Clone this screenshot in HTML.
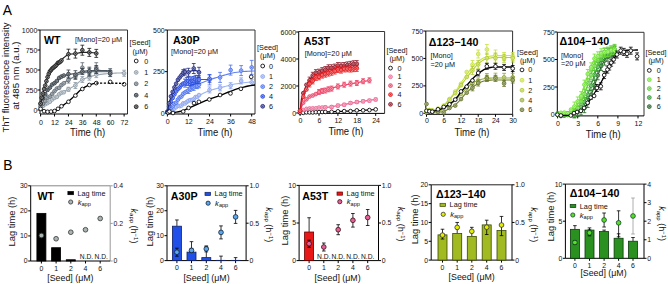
<!DOCTYPE html>
<html><head><meta charset="utf-8"><style>
html,body{margin:0;padding:0;background:#fff;width:668px;height:284px;overflow:hidden;}
svg{display:block;font-family:"Liberation Sans", sans-serif;}
</style></head><body>
<svg width="668" height="284" viewBox="0 0 668 284">
<rect width="668" height="284" fill="#fff"/>
<text x="2.8" y="14.77" font-size="13.8" text-anchor="start" font-weight="normal" fill="#000" >A</text>
<text x="3.2" y="169.97" font-size="13.8" text-anchor="start" font-weight="normal" fill="#000" >B</text>
<text x="8.7" y="77.5" font-size="9.45" text-anchor="middle" font-weight="normal" fill="#111" transform="rotate(-90 8.7 77.5)" >ThT fluorescence intensity</text>
<text x="19.3" y="75.6" font-size="9.7" text-anchor="middle" font-weight="normal" fill="#111" transform="rotate(-90 19.3 75.6)" >at 485 nm (a.u.)</text>
<line x1="40" y1="30" x2="127.5" y2="30" stroke="#333" stroke-width="1" />
<line x1="127.5" y1="30" x2="127.5" y2="114" stroke="#333" stroke-width="1" />
<line x1="40" y1="30" x2="40" y2="114" stroke="#000" stroke-width="1" />
<line x1="40" y1="114" x2="127.5" y2="114" stroke="#000" stroke-width="1" />
<line x1="37.5" y1="110" x2="40" y2="110" stroke="#000" stroke-width="1" />
<text x="37.4" y="112.52" font-size="7" text-anchor="end" font-weight="normal" fill="#111" >0</text>
<line x1="37.5" y1="90" x2="40" y2="90" stroke="#000" stroke-width="1" />
<text x="37.4" y="92.52" font-size="7" text-anchor="end" font-weight="normal" fill="#111" >250</text>
<line x1="37.5" y1="70" x2="40" y2="70" stroke="#000" stroke-width="1" />
<text x="37.4" y="72.52" font-size="7" text-anchor="end" font-weight="normal" fill="#111" >500</text>
<line x1="37.5" y1="50" x2="40" y2="50" stroke="#000" stroke-width="1" />
<text x="37.4" y="52.52" font-size="7" text-anchor="end" font-weight="normal" fill="#111" >750</text>
<line x1="37.5" y1="30" x2="40" y2="30" stroke="#000" stroke-width="1" />
<text x="37.4" y="32.52" font-size="7" text-anchor="end" font-weight="normal" fill="#111" >1000</text>
<line x1="40.6" y1="114" x2="40.6" y2="116.5" stroke="#000" stroke-width="1" />
<text x="41" y="124.52" font-size="7" text-anchor="middle" font-weight="normal" fill="#111" >0</text>
<line x1="54.52" y1="114" x2="54.52" y2="116.5" stroke="#000" stroke-width="1" />
<text x="54.92" y="124.52" font-size="7" text-anchor="middle" font-weight="normal" fill="#111" >12</text>
<line x1="68.44" y1="114" x2="68.44" y2="116.5" stroke="#000" stroke-width="1" />
<text x="68.84" y="124.52" font-size="7" text-anchor="middle" font-weight="normal" fill="#111" >24</text>
<line x1="82.36" y1="114" x2="82.36" y2="116.5" stroke="#000" stroke-width="1" />
<text x="82.76" y="124.52" font-size="7" text-anchor="middle" font-weight="normal" fill="#111" >36</text>
<line x1="96.28" y1="114" x2="96.28" y2="116.5" stroke="#000" stroke-width="1" />
<text x="96.68" y="124.52" font-size="7" text-anchor="middle" font-weight="normal" fill="#111" >48</text>
<line x1="110.2" y1="114" x2="110.2" y2="116.5" stroke="#000" stroke-width="1" />
<text x="110.6" y="124.52" font-size="7" text-anchor="middle" font-weight="normal" fill="#111" >60</text>
<line x1="124.12" y1="114" x2="124.12" y2="116.5" stroke="#000" stroke-width="1" />
<text x="124.52" y="124.52" font-size="7" text-anchor="middle" font-weight="normal" fill="#111" >72</text>
<text x="87.6" y="135.6" font-size="10" text-anchor="middle" font-weight="normal" fill="#111" textLength="35" lengthAdjust="spacingAndGlyphs" >Time (h)</text>
<text x="44" y="44.15" font-size="10.7" text-anchor="start" font-weight="bold" fill="#000" >WT</text>
<text x="75" y="42.24" font-size="7.6" text-anchor="start" font-weight="normal" fill="#111" textLength="47.2" lengthAdjust="spacingAndGlyphs" >[Mono]=20 μM</text>
<text x="140.1" y="45.43" font-size="7.3" text-anchor="middle" font-weight="normal" fill="#111" >[Seed]</text>
<text x="140.1" y="54.23" font-size="7.3" text-anchor="middle" font-weight="normal" fill="#111" >(μM)</text>
<circle cx="136.2" cy="61" r="1.9" fill="#fff" stroke="#000" stroke-width="0.85"/>
<text x="146.3" y="63.59" font-size="7.2" text-anchor="middle" font-weight="normal" fill="#111" >0</text>
<circle cx="136.2" cy="72.4" r="1.9" fill="#d0d6db" stroke="#8a98a4" stroke-width="0.85"/>
<circle cx="136.2" cy="72.4" r="0.55" fill="#8a98a4" stroke="none" stroke-width="0"/>
<text x="146.3" y="74.99" font-size="7.2" text-anchor="middle" font-weight="normal" fill="#111" >1</text>
<circle cx="136.2" cy="83.8" r="1.9" fill="#aeb4b8" stroke="#5c6872" stroke-width="0.85"/>
<circle cx="136.2" cy="83.8" r="0.55" fill="#5c6872" stroke="none" stroke-width="0"/>
<text x="146.3" y="86.39" font-size="7.2" text-anchor="middle" font-weight="normal" fill="#111" >2</text>
<circle cx="136.2" cy="95.2" r="1.9" fill="#848a8f" stroke="#323c44" stroke-width="0.85"/>
<circle cx="136.2" cy="95.2" r="0.55" fill="#323c44" stroke="none" stroke-width="0"/>
<text x="146.3" y="97.79" font-size="7.2" text-anchor="middle" font-weight="normal" fill="#111" >4</text>
<circle cx="136.2" cy="106.7" r="1.9" fill="#8a8a8a" stroke="#161616" stroke-width="0.85"/>
<circle cx="136.2" cy="106.7" r="0.55" fill="#161616" stroke="none" stroke-width="0"/>
<text x="146.3" y="109.29" font-size="7.2" text-anchor="middle" font-weight="normal" fill="#111" >6</text>
<line x1="167.3" y1="30" x2="255" y2="30" stroke="#333" stroke-width="1" />
<line x1="255" y1="30" x2="255" y2="114" stroke="#333" stroke-width="1" />
<line x1="167.3" y1="30" x2="167.3" y2="114" stroke="#000" stroke-width="1" />
<line x1="167.3" y1="114" x2="255" y2="114" stroke="#000" stroke-width="1" />
<line x1="164.8" y1="113.3" x2="167.3" y2="113.3" stroke="#000" stroke-width="1" />
<text x="164.7" y="115.82" font-size="7" text-anchor="end" font-weight="normal" fill="#111" >0</text>
<line x1="164.8" y1="71.65" x2="167.3" y2="71.65" stroke="#000" stroke-width="1" />
<text x="164.7" y="74.17" font-size="7" text-anchor="end" font-weight="normal" fill="#111" >250</text>
<line x1="164.8" y1="30" x2="167.3" y2="30" stroke="#000" stroke-width="1" />
<text x="164.7" y="32.52" font-size="7" text-anchor="end" font-weight="normal" fill="#111" >500</text>
<line x1="167.4" y1="114" x2="167.4" y2="116.5" stroke="#000" stroke-width="1" />
<text x="167.8" y="123.52" font-size="7" text-anchor="middle" font-weight="normal" fill="#111" >0</text>
<line x1="188.47" y1="114" x2="188.47" y2="116.5" stroke="#000" stroke-width="1" />
<text x="188.87" y="123.52" font-size="7" text-anchor="middle" font-weight="normal" fill="#111" >12</text>
<line x1="209.54" y1="114" x2="209.54" y2="116.5" stroke="#000" stroke-width="1" />
<text x="209.94" y="123.52" font-size="7" text-anchor="middle" font-weight="normal" fill="#111" >24</text>
<line x1="230.62" y1="114" x2="230.62" y2="116.5" stroke="#000" stroke-width="1" />
<text x="231.02" y="123.52" font-size="7" text-anchor="middle" font-weight="normal" fill="#111" >36</text>
<line x1="251.69" y1="114" x2="251.69" y2="116.5" stroke="#000" stroke-width="1" />
<text x="252.09" y="123.52" font-size="7" text-anchor="middle" font-weight="normal" fill="#111" >48</text>
<text x="215" y="136" font-size="10" text-anchor="middle" font-weight="normal" fill="#111" textLength="35" lengthAdjust="spacingAndGlyphs" >Time (h)</text>
<text x="172.9" y="43.85" font-size="10.7" text-anchor="start" font-weight="bold" fill="#000" >A30P</text>
<text x="171" y="54.04" font-size="7.6" text-anchor="start" font-weight="normal" fill="#111" textLength="47.2" lengthAdjust="spacingAndGlyphs" >[Mono]=20 μM</text>
<text x="267.6" y="50.33" font-size="7.3" text-anchor="middle" font-weight="normal" fill="#111" >[Seed]</text>
<text x="267.6" y="58.03" font-size="7.3" text-anchor="middle" font-weight="normal" fill="#111" >(μM)</text>
<circle cx="262.7" cy="66" r="1.9" fill="#fff" stroke="#000" stroke-width="0.85"/>
<text x="271.1" y="68.59" font-size="7.2" text-anchor="middle" font-weight="normal" fill="#111" >0</text>
<circle cx="262.7" cy="76.5" r="1.9" fill="#c9d4f7" stroke="#86a0ee" stroke-width="0.85"/>
<circle cx="262.7" cy="76.5" r="0.55" fill="#86a0ee" stroke="none" stroke-width="0"/>
<text x="271.1" y="79.09" font-size="7.2" text-anchor="middle" font-weight="normal" fill="#111" >1</text>
<circle cx="262.7" cy="86.6" r="1.9" fill="#a4b8f6" stroke="#4a70ee" stroke-width="0.85"/>
<circle cx="262.7" cy="86.6" r="0.55" fill="#4a70ee" stroke="none" stroke-width="0"/>
<text x="271.1" y="89.19" font-size="7.2" text-anchor="middle" font-weight="normal" fill="#111" >2</text>
<circle cx="262.7" cy="96.4" r="1.9" fill="#879aee" stroke="#2448e0" stroke-width="0.85"/>
<circle cx="262.7" cy="96.4" r="0.55" fill="#2448e0" stroke="none" stroke-width="0"/>
<text x="271.1" y="98.99" font-size="7.2" text-anchor="middle" font-weight="normal" fill="#111" >4</text>
<circle cx="262.7" cy="106.3" r="1.9" fill="#8388b9" stroke="#1e2680" stroke-width="0.85"/>
<circle cx="262.7" cy="106.3" r="0.55" fill="#1e2680" stroke="none" stroke-width="0"/>
<text x="271.1" y="108.89" font-size="7.2" text-anchor="middle" font-weight="normal" fill="#111" >6</text>
<line x1="298.7" y1="31.5" x2="384.6" y2="31.5" stroke="#333" stroke-width="1" />
<line x1="384.6" y1="31.5" x2="384.6" y2="113.4" stroke="#333" stroke-width="1" />
<line x1="298.7" y1="31.5" x2="298.7" y2="113.4" stroke="#000" stroke-width="1" />
<line x1="298.7" y1="113.4" x2="384.6" y2="113.4" stroke="#000" stroke-width="1" />
<line x1="296.2" y1="113" x2="298.7" y2="113" stroke="#000" stroke-width="1" />
<text x="296.1" y="115.52" font-size="7" text-anchor="end" font-weight="normal" fill="#111" >0</text>
<line x1="296.2" y1="86" x2="298.7" y2="86" stroke="#000" stroke-width="1" />
<text x="296.1" y="88.52" font-size="7" text-anchor="end" font-weight="normal" fill="#111" >2000</text>
<line x1="296.2" y1="59" x2="298.7" y2="59" stroke="#000" stroke-width="1" />
<text x="296.1" y="61.52" font-size="7" text-anchor="end" font-weight="normal" fill="#111" >4000</text>
<line x1="296.2" y1="32" x2="298.7" y2="32" stroke="#000" stroke-width="1" />
<text x="296.1" y="34.52" font-size="7" text-anchor="end" font-weight="normal" fill="#111" >6000</text>
<line x1="300.1" y1="113.4" x2="300.1" y2="115.9" stroke="#000" stroke-width="1" />
<text x="300.5" y="122.72" font-size="7" text-anchor="middle" font-weight="normal" fill="#111" >0</text>
<line x1="319" y1="113.4" x2="319" y2="115.9" stroke="#000" stroke-width="1" />
<text x="319.4" y="122.72" font-size="7" text-anchor="middle" font-weight="normal" fill="#111" >6</text>
<line x1="337.9" y1="113.4" x2="337.9" y2="115.9" stroke="#000" stroke-width="1" />
<text x="338.3" y="122.72" font-size="7" text-anchor="middle" font-weight="normal" fill="#111" >12</text>
<line x1="356.8" y1="113.4" x2="356.8" y2="115.9" stroke="#000" stroke-width="1" />
<text x="357.2" y="122.72" font-size="7" text-anchor="middle" font-weight="normal" fill="#111" >18</text>
<line x1="375.7" y1="113.4" x2="375.7" y2="115.9" stroke="#000" stroke-width="1" />
<text x="376.1" y="122.72" font-size="7" text-anchor="middle" font-weight="normal" fill="#111" >24</text>
<text x="345.9" y="135.2" font-size="10" text-anchor="middle" font-weight="normal" fill="#111" textLength="35" lengthAdjust="spacingAndGlyphs" >Time (h)</text>
<text x="303.8" y="44.85" font-size="10.7" text-anchor="start" font-weight="bold" fill="#000" >A53T</text>
<text x="304.7" y="55.64" font-size="7.6" text-anchor="start" font-weight="normal" fill="#111" textLength="47.2" lengthAdjust="spacingAndGlyphs" >[Mono]=20 μM</text>
<text x="397" y="53.03" font-size="7.3" text-anchor="middle" font-weight="normal" fill="#111" >[Seed]</text>
<text x="397" y="61.43" font-size="7.3" text-anchor="middle" font-weight="normal" fill="#111" >(μM)</text>
<circle cx="390.5" cy="68.1" r="1.9" fill="#fff" stroke="#000" stroke-width="0.85"/>
<text x="399.5" y="70.69" font-size="7.2" text-anchor="middle" font-weight="normal" fill="#111" >0</text>
<circle cx="390.5" cy="76.8" r="1.9" fill="#f6b4ca" stroke="#ec6894" stroke-width="0.85"/>
<circle cx="390.5" cy="76.8" r="0.55" fill="#ec6894" stroke="none" stroke-width="0"/>
<text x="399.5" y="79.39" font-size="7.2" text-anchor="middle" font-weight="normal" fill="#111" >1</text>
<circle cx="390.5" cy="85.6" r="1.9" fill="#f69eb0" stroke="#ec3c62" stroke-width="0.85"/>
<circle cx="390.5" cy="85.6" r="0.55" fill="#ec3c62" stroke="none" stroke-width="0"/>
<text x="399.5" y="88.19" font-size="7.2" text-anchor="middle" font-weight="normal" fill="#111" >2</text>
<circle cx="390.5" cy="94.6" r="1.9" fill="#f07e80" stroke="#e41418" stroke-width="0.85"/>
<circle cx="390.5" cy="94.6" r="0.55" fill="#e41418" stroke="none" stroke-width="0"/>
<text x="399.5" y="97.19" font-size="7.2" text-anchor="middle" font-weight="normal" fill="#111" >4</text>
<circle cx="390.5" cy="104.3" r="1.9" fill="#c07f88" stroke="#8c1626" stroke-width="0.85"/>
<circle cx="390.5" cy="104.3" r="0.55" fill="#8c1626" stroke="none" stroke-width="0"/>
<text x="399.5" y="106.89" font-size="7.2" text-anchor="middle" font-weight="normal" fill="#111" >6</text>
<line x1="425.8" y1="31" x2="512.6" y2="31" stroke="#333" stroke-width="1" />
<line x1="512.6" y1="31" x2="512.6" y2="114.3" stroke="#333" stroke-width="1" />
<line x1="425.8" y1="31" x2="425.8" y2="114.3" stroke="#000" stroke-width="1" />
<line x1="425.8" y1="114.3" x2="512.6" y2="114.3" stroke="#000" stroke-width="1" />
<line x1="423.3" y1="113.3" x2="425.8" y2="113.3" stroke="#000" stroke-width="1" />
<text x="423.2" y="115.82" font-size="7" text-anchor="end" font-weight="normal" fill="#111" >0</text>
<line x1="423.3" y1="85.88" x2="425.8" y2="85.88" stroke="#000" stroke-width="1" />
<text x="423.2" y="88.39" font-size="7" text-anchor="end" font-weight="normal" fill="#111" >250</text>
<line x1="423.3" y1="58.45" x2="425.8" y2="58.45" stroke="#000" stroke-width="1" />
<text x="423.2" y="60.97" font-size="7" text-anchor="end" font-weight="normal" fill="#111" >500</text>
<line x1="423.3" y1="31.02" x2="425.8" y2="31.02" stroke="#000" stroke-width="1" />
<text x="423.2" y="33.54" font-size="7" text-anchor="end" font-weight="normal" fill="#111" >750</text>
<line x1="426.5" y1="114.3" x2="426.5" y2="116.8" stroke="#000" stroke-width="1" />
<text x="426.9" y="123.42" font-size="7" text-anchor="middle" font-weight="normal" fill="#111" >0</text>
<line x1="443.74" y1="114.3" x2="443.74" y2="116.8" stroke="#000" stroke-width="1" />
<text x="444.14" y="123.42" font-size="7" text-anchor="middle" font-weight="normal" fill="#111" >6</text>
<line x1="460.99" y1="114.3" x2="460.99" y2="116.8" stroke="#000" stroke-width="1" />
<text x="461.39" y="123.42" font-size="7" text-anchor="middle" font-weight="normal" fill="#111" >12</text>
<line x1="478.23" y1="114.3" x2="478.23" y2="116.8" stroke="#000" stroke-width="1" />
<text x="478.63" y="123.42" font-size="7" text-anchor="middle" font-weight="normal" fill="#111" >18</text>
<line x1="495.48" y1="114.3" x2="495.48" y2="116.8" stroke="#000" stroke-width="1" />
<text x="495.88" y="123.42" font-size="7" text-anchor="middle" font-weight="normal" fill="#111" >24</text>
<line x1="512.72" y1="114.3" x2="512.72" y2="116.8" stroke="#000" stroke-width="1" />
<text x="513.12" y="123.42" font-size="7" text-anchor="middle" font-weight="normal" fill="#111" >30</text>
<text x="472" y="135.8" font-size="10" text-anchor="middle" font-weight="normal" fill="#111" textLength="35" lengthAdjust="spacingAndGlyphs" >Time (h)</text>
<text x="428.8" y="45.85" font-size="10.7" text-anchor="start" font-weight="bold" fill="#000" >Δ123−140</text>
<text x="430.5" y="58.44" font-size="7.6" text-anchor="start" font-weight="normal" fill="#111" textLength="22.2" lengthAdjust="spacingAndGlyphs" >[Mono]</text>
<text x="430.5" y="67.14" font-size="7.6" text-anchor="start" font-weight="normal" fill="#111" textLength="24.6" lengthAdjust="spacingAndGlyphs" >=20 μM</text>
<text x="527.5" y="54.53" font-size="7.3" text-anchor="middle" font-weight="normal" fill="#111" >[Seed]</text>
<text x="527.5" y="62.83" font-size="7.3" text-anchor="middle" font-weight="normal" fill="#111" >(μM)</text>
<circle cx="522" cy="69.9" r="1.9" fill="#fff" stroke="#000" stroke-width="0.85"/>
<text x="530.2" y="72.49" font-size="7.2" text-anchor="middle" font-weight="normal" fill="#111" >0</text>
<circle cx="522" cy="80.2" r="1.9" fill="#e4f09c" stroke="#c8e03a" stroke-width="0.85"/>
<circle cx="522" cy="80.2" r="0.55" fill="#c8e03a" stroke="none" stroke-width="0"/>
<text x="530.2" y="82.79" font-size="7.2" text-anchor="middle" font-weight="normal" fill="#111" >1</text>
<circle cx="522" cy="90.2" r="1.9" fill="#d8e696" stroke="#b0cc2c" stroke-width="0.85"/>
<circle cx="522" cy="90.2" r="0.55" fill="#b0cc2c" stroke="none" stroke-width="0"/>
<text x="530.2" y="92.79" font-size="7.2" text-anchor="middle" font-weight="normal" fill="#111" >2</text>
<circle cx="522" cy="100.1" r="1.9" fill="#cad49a" stroke="#94aa36" stroke-width="0.85"/>
<circle cx="522" cy="100.1" r="0.55" fill="#94aa36" stroke="none" stroke-width="0"/>
<text x="530.2" y="102.69" font-size="7.2" text-anchor="middle" font-weight="normal" fill="#111" >4</text>
<circle cx="522" cy="109.8" r="1.9" fill="#abb38a" stroke="#66742a" stroke-width="0.85"/>
<circle cx="522" cy="109.8" r="0.55" fill="#66742a" stroke="none" stroke-width="0"/>
<text x="530.2" y="112.39" font-size="7.2" text-anchor="middle" font-weight="normal" fill="#111" >6</text>
<line x1="557.3" y1="32.3" x2="644" y2="32.3" stroke="#333" stroke-width="1" />
<line x1="644" y1="32.3" x2="644" y2="115.9" stroke="#333" stroke-width="1" />
<line x1="557.3" y1="32.3" x2="557.3" y2="115.9" stroke="#000" stroke-width="1" />
<line x1="557.3" y1="115.9" x2="644" y2="115.9" stroke="#000" stroke-width="1" />
<line x1="554.8" y1="114.5" x2="557.3" y2="114.5" stroke="#000" stroke-width="1" />
<text x="554.7" y="117.02" font-size="7" text-anchor="end" font-weight="normal" fill="#111" >0</text>
<line x1="554.8" y1="87" x2="557.3" y2="87" stroke="#000" stroke-width="1" />
<text x="554.7" y="89.52" font-size="7" text-anchor="end" font-weight="normal" fill="#111" >250</text>
<line x1="554.8" y1="59.5" x2="557.3" y2="59.5" stroke="#000" stroke-width="1" />
<text x="554.7" y="62.02" font-size="7" text-anchor="end" font-weight="normal" fill="#111" >500</text>
<line x1="554.8" y1="32" x2="557.3" y2="32" stroke="#000" stroke-width="1" />
<text x="554.7" y="34.52" font-size="7" text-anchor="end" font-weight="normal" fill="#111" >750</text>
<line x1="557.6" y1="115.9" x2="557.6" y2="118.4" stroke="#000" stroke-width="1" />
<text x="558" y="125.52" font-size="7" text-anchor="middle" font-weight="normal" fill="#111" >0</text>
<line x1="577.7" y1="115.9" x2="577.7" y2="118.4" stroke="#000" stroke-width="1" />
<text x="578.1" y="125.52" font-size="7" text-anchor="middle" font-weight="normal" fill="#111" >3</text>
<line x1="597.8" y1="115.9" x2="597.8" y2="118.4" stroke="#000" stroke-width="1" />
<text x="598.2" y="125.52" font-size="7" text-anchor="middle" font-weight="normal" fill="#111" >6</text>
<line x1="617.9" y1="115.9" x2="617.9" y2="118.4" stroke="#000" stroke-width="1" />
<text x="618.3" y="125.52" font-size="7" text-anchor="middle" font-weight="normal" fill="#111" >9</text>
<line x1="638" y1="115.9" x2="638" y2="118.4" stroke="#000" stroke-width="1" />
<text x="638.4" y="125.52" font-size="7" text-anchor="middle" font-weight="normal" fill="#111" >12</text>
<text x="603.2" y="138.1" font-size="10" text-anchor="middle" font-weight="normal" fill="#111" textLength="35" lengthAdjust="spacingAndGlyphs" >Time (h)</text>
<text x="559.6" y="44.85" font-size="10.7" text-anchor="start" font-weight="bold" fill="#000" >Δ104−140</text>
<text x="561" y="58.34" font-size="7.6" text-anchor="start" font-weight="normal" fill="#111" textLength="22.2" lengthAdjust="spacingAndGlyphs" >[Mono]</text>
<text x="561" y="65.74" font-size="7.6" text-anchor="start" font-weight="normal" fill="#111" textLength="24.6" lengthAdjust="spacingAndGlyphs" >=20 μM</text>
<text x="656" y="54.63" font-size="7.3" text-anchor="middle" font-weight="normal" fill="#111" >[Seed]</text>
<text x="656" y="62.63" font-size="7.3" text-anchor="middle" font-weight="normal" fill="#111" >(μM)</text>
<circle cx="649.3" cy="70.4" r="1.9" fill="#fff" stroke="#000" stroke-width="0.85"/>
<text x="658.8" y="72.99" font-size="7.2" text-anchor="middle" font-weight="normal" fill="#111" >0</text>
<circle cx="649.3" cy="79.7" r="1.9" fill="#b6f098" stroke="#6ee030" stroke-width="0.85"/>
<circle cx="649.3" cy="79.7" r="0.55" fill="#6ee030" stroke="none" stroke-width="0"/>
<text x="658.8" y="82.29" font-size="7.2" text-anchor="middle" font-weight="normal" fill="#111" >1</text>
<circle cx="649.3" cy="88.6" r="1.9" fill="#aae696" stroke="#54cc2c" stroke-width="0.85"/>
<circle cx="649.3" cy="88.6" r="0.55" fill="#54cc2c" stroke="none" stroke-width="0"/>
<text x="658.8" y="91.19" font-size="7.2" text-anchor="middle" font-weight="normal" fill="#111" >2</text>
<circle cx="649.3" cy="97.5" r="1.9" fill="#96ca96" stroke="#2c962e" stroke-width="0.85"/>
<circle cx="649.3" cy="97.5" r="0.55" fill="#2c962e" stroke="none" stroke-width="0"/>
<text x="658.8" y="100.09" font-size="7.2" text-anchor="middle" font-weight="normal" fill="#111" >4</text>
<circle cx="649.3" cy="106.6" r="1.9" fill="#85a885" stroke="#226022" stroke-width="0.85"/>
<circle cx="649.3" cy="106.6" r="0.55" fill="#226022" stroke="none" stroke-width="0"/>
<text x="658.8" y="109.19" font-size="7.2" text-anchor="middle" font-weight="normal" fill="#111" >6</text>
<path d="M40.70 107.50 L42.84 105.96 L44.97 104.52 L47.11 103.23 L49.24 101.97 L51.38 100.59 L53.52 99.09 L55.65 97.50 L57.79 95.72 L59.92 94.05 L62.06 92.67 L64.19 91.44 L66.33 90.34 L68.47 89.32 L70.60 88.13 L72.74 86.83 L74.87 85.43 L77.01 83.80 L79.15 81.85 L81.28 80.11 L83.42 78.98 L85.55 78.18 L87.69 77.50 L89.83 76.83 L91.96 76.13 L94.10 75.49 L96.23 75.01 L98.37 74.68 L100.51 74.39 L102.64 74.14 L104.78 73.92 L106.91 73.73 L109.05 73.57 L111.18 73.42 L113.32 73.28 L115.46 73.15 L117.59 73.03 L119.73 72.93 L121.86 72.86 L124.00 72.80" fill="none" stroke="#9aa7b2" stroke-width="1.1"/>
<line x1="68.44" y1="87.3" x2="68.44" y2="91.3" stroke="#8a98a4" stroke-width="0.8" />
<line x1="66.54" y1="87.3" x2="70.34" y2="87.3" stroke="#8a98a4" stroke-width="0.8" />
<line x1="66.54" y1="91.3" x2="70.34" y2="91.3" stroke="#8a98a4" stroke-width="0.8" />
<line x1="75.4" y1="82.47" x2="75.4" y2="88.47" stroke="#8a98a4" stroke-width="0.8" />
<line x1="73.5" y1="82.47" x2="77.3" y2="82.47" stroke="#8a98a4" stroke-width="0.8" />
<line x1="73.5" y1="88.47" x2="77.3" y2="88.47" stroke="#8a98a4" stroke-width="0.8" />
<line x1="82.36" y1="76.44" x2="82.36" y2="82.44" stroke="#8a98a4" stroke-width="0.8" />
<line x1="80.46" y1="76.44" x2="84.26" y2="76.44" stroke="#8a98a4" stroke-width="0.8" />
<line x1="80.46" y1="82.44" x2="84.26" y2="82.44" stroke="#8a98a4" stroke-width="0.8" />
<line x1="89.32" y1="74.16" x2="89.32" y2="80.16" stroke="#8a98a4" stroke-width="0.8" />
<line x1="87.42" y1="74.16" x2="91.22" y2="74.16" stroke="#8a98a4" stroke-width="0.8" />
<line x1="87.42" y1="80.16" x2="91.22" y2="80.16" stroke="#8a98a4" stroke-width="0.8" />
<line x1="96.28" y1="71.58" x2="96.28" y2="77.58" stroke="#8a98a4" stroke-width="0.8" />
<line x1="94.38" y1="71.58" x2="98.18" y2="71.58" stroke="#8a98a4" stroke-width="0.8" />
<line x1="94.38" y1="77.58" x2="98.18" y2="77.58" stroke="#8a98a4" stroke-width="0.8" />
<line x1="110.2" y1="70.65" x2="110.2" y2="76.65" stroke="#8a98a4" stroke-width="0.8" />
<line x1="108.3" y1="70.65" x2="112.1" y2="70.65" stroke="#8a98a4" stroke-width="0.8" />
<line x1="108.3" y1="76.65" x2="112.1" y2="76.65" stroke="#8a98a4" stroke-width="0.8" />
<line x1="124.12" y1="70.24" x2="124.12" y2="76.24" stroke="#8a98a4" stroke-width="0.8" />
<line x1="122.22" y1="70.24" x2="126.02" y2="70.24" stroke="#8a98a4" stroke-width="0.8" />
<line x1="122.22" y1="76.24" x2="126.02" y2="76.24" stroke="#8a98a4" stroke-width="0.8" />
<circle cx="40.6" cy="107.19" r="1.85" fill="#d0d6db" stroke="#8a98a4" stroke-width="0.85"/>
<circle cx="40.6" cy="107.19" r="0.55" fill="#8a98a4" stroke="none" stroke-width="0"/>
<circle cx="42.92" cy="105.95" r="1.85" fill="#d0d6db" stroke="#8a98a4" stroke-width="0.85"/>
<circle cx="42.92" cy="105.95" r="0.55" fill="#8a98a4" stroke="none" stroke-width="0"/>
<circle cx="45.24" cy="104.19" r="1.85" fill="#d0d6db" stroke="#8a98a4" stroke-width="0.85"/>
<circle cx="45.24" cy="104.19" r="0.55" fill="#8a98a4" stroke="none" stroke-width="0"/>
<circle cx="47.56" cy="103.09" r="1.85" fill="#d0d6db" stroke="#8a98a4" stroke-width="0.85"/>
<circle cx="47.56" cy="103.09" r="0.55" fill="#8a98a4" stroke="none" stroke-width="0"/>
<circle cx="49.88" cy="101.73" r="1.85" fill="#d0d6db" stroke="#8a98a4" stroke-width="0.85"/>
<circle cx="49.88" cy="101.73" r="0.55" fill="#8a98a4" stroke="none" stroke-width="0"/>
<circle cx="52.2" cy="99.5" r="1.85" fill="#d0d6db" stroke="#8a98a4" stroke-width="0.85"/>
<circle cx="52.2" cy="99.5" r="0.55" fill="#8a98a4" stroke="none" stroke-width="0"/>
<circle cx="54.52" cy="97.77" r="1.85" fill="#d0d6db" stroke="#8a98a4" stroke-width="0.85"/>
<circle cx="54.52" cy="97.77" r="0.55" fill="#8a98a4" stroke="none" stroke-width="0"/>
<circle cx="56.84" cy="96.92" r="1.85" fill="#d0d6db" stroke="#8a98a4" stroke-width="0.85"/>
<circle cx="56.84" cy="96.92" r="0.55" fill="#8a98a4" stroke="none" stroke-width="0"/>
<circle cx="59.16" cy="94.32" r="1.85" fill="#d0d6db" stroke="#8a98a4" stroke-width="0.85"/>
<circle cx="59.16" cy="94.32" r="0.55" fill="#8a98a4" stroke="none" stroke-width="0"/>
<circle cx="61.48" cy="92.71" r="1.85" fill="#d0d6db" stroke="#8a98a4" stroke-width="0.85"/>
<circle cx="61.48" cy="92.71" r="0.55" fill="#8a98a4" stroke="none" stroke-width="0"/>
<circle cx="63.8" cy="92.25" r="1.85" fill="#d0d6db" stroke="#8a98a4" stroke-width="0.85"/>
<circle cx="63.8" cy="92.25" r="0.55" fill="#8a98a4" stroke="none" stroke-width="0"/>
<circle cx="68.44" cy="89.3" r="1.85" fill="#d0d6db" stroke="#8a98a4" stroke-width="0.85"/>
<circle cx="68.44" cy="89.3" r="0.55" fill="#8a98a4" stroke="none" stroke-width="0"/>
<circle cx="75.4" cy="85.47" r="1.85" fill="#d0d6db" stroke="#8a98a4" stroke-width="0.85"/>
<circle cx="75.4" cy="85.47" r="0.55" fill="#8a98a4" stroke="none" stroke-width="0"/>
<circle cx="82.36" cy="79.44" r="1.85" fill="#d0d6db" stroke="#8a98a4" stroke-width="0.85"/>
<circle cx="82.36" cy="79.44" r="0.55" fill="#8a98a4" stroke="none" stroke-width="0"/>
<circle cx="89.32" cy="77.16" r="1.85" fill="#d0d6db" stroke="#8a98a4" stroke-width="0.85"/>
<circle cx="89.32" cy="77.16" r="0.55" fill="#8a98a4" stroke="none" stroke-width="0"/>
<circle cx="96.28" cy="74.58" r="1.85" fill="#d0d6db" stroke="#8a98a4" stroke-width="0.85"/>
<circle cx="96.28" cy="74.58" r="0.55" fill="#8a98a4" stroke="none" stroke-width="0"/>
<circle cx="110.2" cy="73.65" r="1.85" fill="#d0d6db" stroke="#8a98a4" stroke-width="0.85"/>
<circle cx="110.2" cy="73.65" r="0.55" fill="#8a98a4" stroke="none" stroke-width="0"/>
<circle cx="124.12" cy="73.24" r="1.85" fill="#d0d6db" stroke="#8a98a4" stroke-width="0.85"/>
<circle cx="124.12" cy="73.24" r="0.55" fill="#8a98a4" stroke="none" stroke-width="0"/>
<path d="M40.70 106.00 L42.48 103.85 L44.25 101.82 L46.03 99.92 L47.81 98.15 L49.58 96.41 L51.36 94.62 L53.14 92.82 L54.92 91.08 L56.69 89.44 L58.47 87.86 L60.25 86.28 L62.02 84.58 L63.80 82.93 L65.58 81.62 L67.35 80.63 L69.13 79.64 L70.91 78.58 L72.68 77.53 L74.46 76.54 L76.24 75.63 L78.02 74.70 L79.79 73.85 L81.57 73.19 L83.35 72.79 L85.12 72.49 L86.90 72.25 L88.68 72.06 L90.45 71.89 L92.23 71.72 L94.01 71.58 L95.78 71.50 L97.56 71.50 L99.34 71.50 L101.12 71.50 L102.89 71.50 L104.67 71.50 L106.45 71.50 L108.22 71.50 L110.00 71.50" fill="none" stroke="#76838e" stroke-width="1.3"/>
<line x1="68.44" y1="77" x2="68.44" y2="83" stroke="#5c6872" stroke-width="0.8" />
<line x1="66.54" y1="77" x2="70.34" y2="77" stroke="#5c6872" stroke-width="0.8" />
<line x1="66.54" y1="83" x2="70.34" y2="83" stroke="#5c6872" stroke-width="0.8" />
<line x1="75.4" y1="73.5" x2="75.4" y2="79.5" stroke="#5c6872" stroke-width="0.8" />
<line x1="73.5" y1="73.5" x2="77.3" y2="73.5" stroke="#5c6872" stroke-width="0.8" />
<line x1="73.5" y1="79.5" x2="77.3" y2="79.5" stroke="#5c6872" stroke-width="0.8" />
<line x1="82.36" y1="62.7" x2="82.36" y2="72.7" stroke="#5c6872" stroke-width="0.8" />
<line x1="80.46" y1="62.7" x2="84.26" y2="62.7" stroke="#5c6872" stroke-width="0.8" />
<line x1="80.46" y1="72.7" x2="84.26" y2="72.7" stroke="#5c6872" stroke-width="0.8" />
<line x1="89.32" y1="68.5" x2="89.32" y2="76.5" stroke="#5c6872" stroke-width="0.8" />
<line x1="87.42" y1="68.5" x2="91.22" y2="68.5" stroke="#5c6872" stroke-width="0.8" />
<line x1="87.42" y1="76.5" x2="91.22" y2="76.5" stroke="#5c6872" stroke-width="0.8" />
<line x1="96.28" y1="62.7" x2="96.28" y2="72.7" stroke="#5c6872" stroke-width="0.8" />
<line x1="94.38" y1="62.7" x2="98.18" y2="62.7" stroke="#5c6872" stroke-width="0.8" />
<line x1="94.38" y1="72.7" x2="98.18" y2="72.7" stroke="#5c6872" stroke-width="0.8" />
<line x1="110.2" y1="68.5" x2="110.2" y2="74.5" stroke="#5c6872" stroke-width="0.8" />
<line x1="108.3" y1="68.5" x2="112.1" y2="68.5" stroke="#5c6872" stroke-width="0.8" />
<line x1="108.3" y1="74.5" x2="112.1" y2="74.5" stroke="#5c6872" stroke-width="0.8" />
<circle cx="40.6" cy="106.04" r="1.85" fill="#aeb4b8" stroke="#5c6872" stroke-width="0.85"/>
<circle cx="40.6" cy="106.04" r="0.55" fill="#5c6872" stroke="none" stroke-width="0"/>
<circle cx="42.92" cy="103.72" r="1.85" fill="#aeb4b8" stroke="#5c6872" stroke-width="0.85"/>
<circle cx="42.92" cy="103.72" r="0.55" fill="#5c6872" stroke="none" stroke-width="0"/>
<circle cx="45.24" cy="101.02" r="1.85" fill="#aeb4b8" stroke="#5c6872" stroke-width="0.85"/>
<circle cx="45.24" cy="101.02" r="0.55" fill="#5c6872" stroke="none" stroke-width="0"/>
<circle cx="47.56" cy="97.7" r="1.85" fill="#aeb4b8" stroke="#5c6872" stroke-width="0.85"/>
<circle cx="47.56" cy="97.7" r="0.55" fill="#5c6872" stroke="none" stroke-width="0"/>
<circle cx="49.88" cy="96.53" r="1.85" fill="#aeb4b8" stroke="#5c6872" stroke-width="0.85"/>
<circle cx="49.88" cy="96.53" r="0.55" fill="#5c6872" stroke="none" stroke-width="0"/>
<circle cx="52.2" cy="93.92" r="1.85" fill="#aeb4b8" stroke="#5c6872" stroke-width="0.85"/>
<circle cx="52.2" cy="93.92" r="0.55" fill="#5c6872" stroke="none" stroke-width="0"/>
<circle cx="54.52" cy="91.14" r="1.85" fill="#aeb4b8" stroke="#5c6872" stroke-width="0.85"/>
<circle cx="54.52" cy="91.14" r="0.55" fill="#5c6872" stroke="none" stroke-width="0"/>
<circle cx="56.84" cy="88.56" r="1.85" fill="#aeb4b8" stroke="#5c6872" stroke-width="0.85"/>
<circle cx="56.84" cy="88.56" r="0.55" fill="#5c6872" stroke="none" stroke-width="0"/>
<circle cx="59.16" cy="87.84" r="1.85" fill="#aeb4b8" stroke="#5c6872" stroke-width="0.85"/>
<circle cx="59.16" cy="87.84" r="0.55" fill="#5c6872" stroke="none" stroke-width="0"/>
<circle cx="61.48" cy="85.06" r="1.85" fill="#aeb4b8" stroke="#5c6872" stroke-width="0.85"/>
<circle cx="61.48" cy="85.06" r="0.55" fill="#5c6872" stroke="none" stroke-width="0"/>
<circle cx="63.8" cy="83.28" r="1.85" fill="#aeb4b8" stroke="#5c6872" stroke-width="0.85"/>
<circle cx="63.8" cy="83.28" r="0.55" fill="#5c6872" stroke="none" stroke-width="0"/>
<circle cx="68.44" cy="80" r="1.85" fill="#aeb4b8" stroke="#5c6872" stroke-width="0.85"/>
<circle cx="68.44" cy="80" r="0.55" fill="#5c6872" stroke="none" stroke-width="0"/>
<circle cx="75.4" cy="76.5" r="1.85" fill="#aeb4b8" stroke="#5c6872" stroke-width="0.85"/>
<circle cx="75.4" cy="76.5" r="0.55" fill="#5c6872" stroke="none" stroke-width="0"/>
<circle cx="82.36" cy="67.7" r="1.85" fill="#aeb4b8" stroke="#5c6872" stroke-width="0.85"/>
<circle cx="82.36" cy="67.7" r="0.55" fill="#5c6872" stroke="none" stroke-width="0"/>
<circle cx="89.32" cy="72.5" r="1.85" fill="#aeb4b8" stroke="#5c6872" stroke-width="0.85"/>
<circle cx="89.32" cy="72.5" r="0.55" fill="#5c6872" stroke="none" stroke-width="0"/>
<circle cx="96.28" cy="67.7" r="1.85" fill="#aeb4b8" stroke="#5c6872" stroke-width="0.85"/>
<circle cx="96.28" cy="67.7" r="0.55" fill="#5c6872" stroke="none" stroke-width="0"/>
<circle cx="110.2" cy="71.5" r="1.85" fill="#aeb4b8" stroke="#5c6872" stroke-width="0.85"/>
<circle cx="110.2" cy="71.5" r="0.55" fill="#5c6872" stroke="none" stroke-width="0"/>
<path d="M40.70 103.00 L42.48 98.91 L44.25 95.32 L46.03 92.33 L47.81 89.75 L49.58 87.49 L51.36 85.49 L53.14 83.71 L54.92 82.08 L56.69 80.51 L58.47 79.06 L60.25 77.85 L62.02 76.84 L63.80 75.98 L65.58 75.30 L67.35 74.76 L69.13 74.38 L70.91 74.13 L72.68 73.92 L74.46 73.68 L76.24 73.33 L78.02 72.78 L79.79 72.15 L81.57 71.64 L83.35 71.35 L85.12 71.14 L86.90 70.97 L88.68 70.84 L90.45 70.73 L92.23 70.63 L94.01 70.55 L95.78 70.50 L97.56 70.50 L99.34 70.52 L101.12 70.54 L102.89 70.59 L104.67 70.65 L106.45 70.74 L108.22 70.86 L110.00 71.00" fill="none" stroke="#4a555e" stroke-width="1.3"/>
<line x1="68.44" y1="70" x2="68.44" y2="78" stroke="#323c44" stroke-width="0.8" />
<line x1="66.54" y1="70" x2="70.34" y2="70" stroke="#323c44" stroke-width="0.8" />
<line x1="66.54" y1="78" x2="70.34" y2="78" stroke="#323c44" stroke-width="0.8" />
<line x1="75.4" y1="70.7" x2="75.4" y2="78.7" stroke="#323c44" stroke-width="0.8" />
<line x1="73.5" y1="70.7" x2="77.3" y2="70.7" stroke="#323c44" stroke-width="0.8" />
<line x1="73.5" y1="78.7" x2="77.3" y2="78.7" stroke="#323c44" stroke-width="0.8" />
<line x1="82.36" y1="68.5" x2="82.36" y2="74.5" stroke="#323c44" stroke-width="0.8" />
<line x1="80.46" y1="68.5" x2="84.26" y2="68.5" stroke="#323c44" stroke-width="0.8" />
<line x1="80.46" y1="74.5" x2="84.26" y2="74.5" stroke="#323c44" stroke-width="0.8" />
<line x1="89.32" y1="67.2" x2="89.32" y2="75.2" stroke="#323c44" stroke-width="0.8" />
<line x1="87.42" y1="67.2" x2="91.22" y2="67.2" stroke="#323c44" stroke-width="0.8" />
<line x1="87.42" y1="75.2" x2="91.22" y2="75.2" stroke="#323c44" stroke-width="0.8" />
<line x1="96.28" y1="65.5" x2="96.28" y2="73.5" stroke="#323c44" stroke-width="0.8" />
<line x1="94.38" y1="65.5" x2="98.18" y2="65.5" stroke="#323c44" stroke-width="0.8" />
<line x1="94.38" y1="73.5" x2="98.18" y2="73.5" stroke="#323c44" stroke-width="0.8" />
<line x1="110.2" y1="70.3" x2="110.2" y2="76.3" stroke="#323c44" stroke-width="0.8" />
<line x1="108.3" y1="70.3" x2="112.1" y2="70.3" stroke="#323c44" stroke-width="0.8" />
<line x1="108.3" y1="76.3" x2="112.1" y2="76.3" stroke="#323c44" stroke-width="0.8" />
<circle cx="40.6" cy="103.61" r="1.85" fill="#848a8f" stroke="#323c44" stroke-width="0.85"/>
<circle cx="40.6" cy="103.61" r="0.55" fill="#323c44" stroke="none" stroke-width="0"/>
<circle cx="42.92" cy="98.3" r="1.85" fill="#848a8f" stroke="#323c44" stroke-width="0.85"/>
<circle cx="42.92" cy="98.3" r="0.55" fill="#323c44" stroke="none" stroke-width="0"/>
<circle cx="45.24" cy="94.27" r="1.85" fill="#848a8f" stroke="#323c44" stroke-width="0.85"/>
<circle cx="45.24" cy="94.27" r="0.55" fill="#323c44" stroke="none" stroke-width="0"/>
<circle cx="47.56" cy="89.92" r="1.85" fill="#848a8f" stroke="#323c44" stroke-width="0.85"/>
<circle cx="47.56" cy="89.92" r="0.55" fill="#323c44" stroke="none" stroke-width="0"/>
<circle cx="49.88" cy="87.62" r="1.85" fill="#848a8f" stroke="#323c44" stroke-width="0.85"/>
<circle cx="49.88" cy="87.62" r="0.55" fill="#323c44" stroke="none" stroke-width="0"/>
<circle cx="52.2" cy="84.54" r="1.85" fill="#848a8f" stroke="#323c44" stroke-width="0.85"/>
<circle cx="52.2" cy="84.54" r="0.55" fill="#323c44" stroke="none" stroke-width="0"/>
<circle cx="54.52" cy="83.13" r="1.85" fill="#848a8f" stroke="#323c44" stroke-width="0.85"/>
<circle cx="54.52" cy="83.13" r="0.55" fill="#323c44" stroke="none" stroke-width="0"/>
<circle cx="56.84" cy="80.99" r="1.85" fill="#848a8f" stroke="#323c44" stroke-width="0.85"/>
<circle cx="56.84" cy="80.99" r="0.55" fill="#323c44" stroke="none" stroke-width="0"/>
<circle cx="59.16" cy="77.91" r="1.85" fill="#848a8f" stroke="#323c44" stroke-width="0.85"/>
<circle cx="59.16" cy="77.91" r="0.55" fill="#323c44" stroke="none" stroke-width="0"/>
<circle cx="61.48" cy="76.55" r="1.85" fill="#848a8f" stroke="#323c44" stroke-width="0.85"/>
<circle cx="61.48" cy="76.55" r="0.55" fill="#323c44" stroke="none" stroke-width="0"/>
<circle cx="63.8" cy="75.52" r="1.85" fill="#848a8f" stroke="#323c44" stroke-width="0.85"/>
<circle cx="63.8" cy="75.52" r="0.55" fill="#323c44" stroke="none" stroke-width="0"/>
<circle cx="68.44" cy="74" r="1.85" fill="#848a8f" stroke="#323c44" stroke-width="0.85"/>
<circle cx="68.44" cy="74" r="0.55" fill="#323c44" stroke="none" stroke-width="0"/>
<circle cx="75.4" cy="74.7" r="1.85" fill="#848a8f" stroke="#323c44" stroke-width="0.85"/>
<circle cx="75.4" cy="74.7" r="0.55" fill="#323c44" stroke="none" stroke-width="0"/>
<circle cx="82.36" cy="71.5" r="1.85" fill="#848a8f" stroke="#323c44" stroke-width="0.85"/>
<circle cx="82.36" cy="71.5" r="0.55" fill="#323c44" stroke="none" stroke-width="0"/>
<circle cx="89.32" cy="71.2" r="1.85" fill="#848a8f" stroke="#323c44" stroke-width="0.85"/>
<circle cx="89.32" cy="71.2" r="0.55" fill="#323c44" stroke="none" stroke-width="0"/>
<circle cx="96.28" cy="69.5" r="1.85" fill="#848a8f" stroke="#323c44" stroke-width="0.85"/>
<circle cx="96.28" cy="69.5" r="0.55" fill="#323c44" stroke="none" stroke-width="0"/>
<circle cx="110.2" cy="73.3" r="1.85" fill="#848a8f" stroke="#323c44" stroke-width="0.85"/>
<circle cx="110.2" cy="73.3" r="0.55" fill="#323c44" stroke="none" stroke-width="0"/>
<path d="M40.70 103.00 L42.12 96.35 L43.54 91.11 L44.95 86.50 L46.37 81.45 L47.79 76.60 L49.21 72.62 L50.63 70.16 L52.04 68.45 L53.46 67.12 L54.88 65.92 L56.30 64.66 L57.72 63.41 L59.13 62.16 L60.55 60.87 L61.97 59.42 L63.39 58.02 L64.81 56.84 L66.22 55.70 L67.64 54.81 L69.06 54.38 L70.48 54.15 L71.89 53.99 L73.31 53.85 L74.73 53.70 L76.15 53.50 L77.57 53.24 L78.98 52.95 L80.40 52.70 L81.82 52.54 L83.24 52.48 L84.66 52.45 L86.07 52.42 L87.49 52.41 L88.91 52.40 L90.33 52.44 L91.75 52.55 L93.16 52.73 L94.58 52.95 L96.00 53.20" fill="none" stroke="#222" stroke-width="1.2"/>
<line x1="68.44" y1="49.2" x2="68.44" y2="59.2" stroke="#161616" stroke-width="0.8" />
<line x1="66.54" y1="49.2" x2="70.34" y2="49.2" stroke="#161616" stroke-width="0.8" />
<line x1="66.54" y1="59.2" x2="70.34" y2="59.2" stroke="#161616" stroke-width="0.8" />
<line x1="75.4" y1="49.1" x2="75.4" y2="58.1" stroke="#161616" stroke-width="0.8" />
<line x1="73.5" y1="49.1" x2="77.3" y2="49.1" stroke="#161616" stroke-width="0.8" />
<line x1="73.5" y1="58.1" x2="77.3" y2="58.1" stroke="#161616" stroke-width="0.8" />
<line x1="82.36" y1="45.2" x2="82.36" y2="55.2" stroke="#161616" stroke-width="0.8" />
<line x1="80.46" y1="45.2" x2="84.26" y2="45.2" stroke="#161616" stroke-width="0.8" />
<line x1="80.46" y1="55.2" x2="84.26" y2="55.2" stroke="#161616" stroke-width="0.8" />
<line x1="89.32" y1="48.4" x2="89.32" y2="56.4" stroke="#161616" stroke-width="0.8" />
<line x1="87.42" y1="48.4" x2="91.22" y2="48.4" stroke="#161616" stroke-width="0.8" />
<line x1="87.42" y1="56.4" x2="91.22" y2="56.4" stroke="#161616" stroke-width="0.8" />
<line x1="96.28" y1="49.4" x2="96.28" y2="57.4" stroke="#161616" stroke-width="0.8" />
<line x1="94.38" y1="49.4" x2="98.18" y2="49.4" stroke="#161616" stroke-width="0.8" />
<line x1="94.38" y1="57.4" x2="98.18" y2="57.4" stroke="#161616" stroke-width="0.8" />
<circle cx="40.6" cy="103.56" r="1.85" fill="#8a8a8a" stroke="#161616" stroke-width="0.85"/>
<circle cx="40.6" cy="103.56" r="0.55" fill="#161616" stroke="none" stroke-width="0"/>
<circle cx="41.76" cy="97.74" r="1.85" fill="#8a8a8a" stroke="#161616" stroke-width="0.85"/>
<circle cx="41.76" cy="97.74" r="0.55" fill="#161616" stroke="none" stroke-width="0"/>
<circle cx="42.92" cy="93.45" r="1.85" fill="#8a8a8a" stroke="#161616" stroke-width="0.85"/>
<circle cx="42.92" cy="93.45" r="0.55" fill="#161616" stroke="none" stroke-width="0"/>
<circle cx="44.08" cy="89.07" r="1.85" fill="#8a8a8a" stroke="#161616" stroke-width="0.85"/>
<circle cx="44.08" cy="89.07" r="0.55" fill="#161616" stroke="none" stroke-width="0"/>
<circle cx="45.24" cy="85.55" r="1.85" fill="#8a8a8a" stroke="#161616" stroke-width="0.85"/>
<circle cx="45.24" cy="85.55" r="0.55" fill="#161616" stroke="none" stroke-width="0"/>
<circle cx="46.4" cy="81.2" r="1.85" fill="#8a8a8a" stroke="#161616" stroke-width="0.85"/>
<circle cx="46.4" cy="81.2" r="0.55" fill="#161616" stroke="none" stroke-width="0"/>
<circle cx="47.56" cy="77.14" r="1.85" fill="#8a8a8a" stroke="#161616" stroke-width="0.85"/>
<circle cx="47.56" cy="77.14" r="0.55" fill="#161616" stroke="none" stroke-width="0"/>
<circle cx="48.72" cy="73.95" r="1.85" fill="#8a8a8a" stroke="#161616" stroke-width="0.85"/>
<circle cx="48.72" cy="73.95" r="0.55" fill="#161616" stroke="none" stroke-width="0"/>
<circle cx="49.88" cy="71.41" r="1.85" fill="#8a8a8a" stroke="#161616" stroke-width="0.85"/>
<circle cx="49.88" cy="71.41" r="0.55" fill="#161616" stroke="none" stroke-width="0"/>
<circle cx="51.04" cy="70.1" r="1.85" fill="#8a8a8a" stroke="#161616" stroke-width="0.85"/>
<circle cx="51.04" cy="70.1" r="0.55" fill="#161616" stroke="none" stroke-width="0"/>
<circle cx="52.2" cy="68.5" r="1.85" fill="#8a8a8a" stroke="#161616" stroke-width="0.85"/>
<circle cx="52.2" cy="68.5" r="0.55" fill="#161616" stroke="none" stroke-width="0"/>
<circle cx="53.36" cy="67.72" r="1.85" fill="#8a8a8a" stroke="#161616" stroke-width="0.85"/>
<circle cx="53.36" cy="67.72" r="0.55" fill="#161616" stroke="none" stroke-width="0"/>
<circle cx="54.52" cy="66.66" r="1.85" fill="#8a8a8a" stroke="#161616" stroke-width="0.85"/>
<circle cx="54.52" cy="66.66" r="0.55" fill="#161616" stroke="none" stroke-width="0"/>
<circle cx="55.68" cy="65.8" r="1.85" fill="#8a8a8a" stroke="#161616" stroke-width="0.85"/>
<circle cx="55.68" cy="65.8" r="0.55" fill="#161616" stroke="none" stroke-width="0"/>
<circle cx="56.84" cy="64.39" r="1.85" fill="#8a8a8a" stroke="#161616" stroke-width="0.85"/>
<circle cx="56.84" cy="64.39" r="0.55" fill="#161616" stroke="none" stroke-width="0"/>
<circle cx="58" cy="62.75" r="1.85" fill="#8a8a8a" stroke="#161616" stroke-width="0.85"/>
<circle cx="58" cy="62.75" r="0.55" fill="#161616" stroke="none" stroke-width="0"/>
<circle cx="59.16" cy="62.57" r="1.85" fill="#8a8a8a" stroke="#161616" stroke-width="0.85"/>
<circle cx="59.16" cy="62.57" r="0.55" fill="#161616" stroke="none" stroke-width="0"/>
<circle cx="60.32" cy="61.65" r="1.85" fill="#8a8a8a" stroke="#161616" stroke-width="0.85"/>
<circle cx="60.32" cy="61.65" r="0.55" fill="#161616" stroke="none" stroke-width="0"/>
<circle cx="61.48" cy="60.41" r="1.85" fill="#8a8a8a" stroke="#161616" stroke-width="0.85"/>
<circle cx="61.48" cy="60.41" r="0.55" fill="#161616" stroke="none" stroke-width="0"/>
<circle cx="68.44" cy="54.2" r="1.85" fill="#8a8a8a" stroke="#161616" stroke-width="0.85"/>
<circle cx="68.44" cy="54.2" r="0.55" fill="#161616" stroke="none" stroke-width="0"/>
<circle cx="75.4" cy="53.6" r="1.85" fill="#8a8a8a" stroke="#161616" stroke-width="0.85"/>
<circle cx="75.4" cy="53.6" r="0.55" fill="#161616" stroke="none" stroke-width="0"/>
<circle cx="82.36" cy="50.2" r="1.85" fill="#8a8a8a" stroke="#161616" stroke-width="0.85"/>
<circle cx="82.36" cy="50.2" r="0.55" fill="#161616" stroke="none" stroke-width="0"/>
<circle cx="89.32" cy="52.4" r="1.85" fill="#8a8a8a" stroke="#161616" stroke-width="0.85"/>
<circle cx="89.32" cy="52.4" r="0.55" fill="#161616" stroke="none" stroke-width="0"/>
<circle cx="96.28" cy="53.4" r="1.85" fill="#8a8a8a" stroke="#161616" stroke-width="0.85"/>
<circle cx="96.28" cy="53.4" r="0.55" fill="#161616" stroke="none" stroke-width="0"/>
<path d="M40.70 108.80 L42.12 110.04 L43.55 110.95 L44.97 111.41 L46.39 111.70 L47.82 111.80 L49.24 111.75 L50.66 111.66 L52.08 111.54 L53.51 111.34 L54.93 111.04 L56.35 110.42 L57.78 109.40 L59.20 108.37 L60.62 107.27 L62.05 106.17 L63.47 105.11 L64.89 104.08 L66.32 103.04 L67.74 101.93 L69.16 100.74 L70.58 99.49 L72.01 98.19 L73.43 96.87 L74.85 95.55 L76.28 94.17 L77.70 92.72 L79.12 91.30 L80.55 90.01 L81.97 88.95 L83.39 88.01 L84.82 87.14 L86.24 86.36 L87.66 85.67 L89.08 85.08 L90.51 84.57 L91.93 84.11 L93.35 83.70 L94.78 83.36 L96.20 83.10" fill="none" stroke="#000" stroke-width="1.3"/>
<circle cx="40.6" cy="108.8" r="1.85" fill="#fff" stroke="#000" stroke-width="0.85"/>
<circle cx="44.08" cy="111.2" r="1.85" fill="#fff" stroke="#000" stroke-width="0.85"/>
<circle cx="47.56" cy="111.8" r="1.85" fill="#fff" stroke="#000" stroke-width="0.85"/>
<circle cx="51.04" cy="111.6" r="1.85" fill="#fff" stroke="#000" stroke-width="0.85"/>
<circle cx="54.52" cy="111" r="1.85" fill="#fff" stroke="#000" stroke-width="0.85"/>
<circle cx="58" cy="108.8" r="1.85" fill="#fff" stroke="#000" stroke-width="0.85"/>
<circle cx="61.48" cy="106.2" r="1.85" fill="#fff" stroke="#000" stroke-width="0.85"/>
<circle cx="68.44" cy="101.8" r="1.85" fill="#fff" stroke="#000" stroke-width="0.85"/>
<circle cx="75.4" cy="95.6" r="1.85" fill="#fff" stroke="#000" stroke-width="0.85"/>
<circle cx="82.36" cy="89" r="1.85" fill="#fff" stroke="#000" stroke-width="0.85"/>
<circle cx="89.32" cy="85" r="1.85" fill="#fff" stroke="#000" stroke-width="0.85"/>
<circle cx="96.28" cy="83.1" r="1.85" fill="#fff" stroke="#000" stroke-width="0.85"/>
<circle cx="110.2" cy="81.9" r="1.85" fill="#fff" stroke="#000" stroke-width="0.85"/>
<circle cx="124.12" cy="84.3" r="1.85" fill="#fff" stroke="#000" stroke-width="0.85"/>
<path d="M96.20 83.10 L124.00 83.30" fill="none" stroke="#000" stroke-width="1.3" stroke-dasharray="2.2 1.6"/>
<path d="M167.40 112.00 L169.65 110.80 L171.89 109.61 L174.14 108.44 L176.38 107.29 L178.63 106.16 L180.88 105.05 L183.12 103.93 L185.37 102.82 L187.62 101.70 L189.86 100.60 L192.11 99.48 L194.35 98.34 L196.60 97.12 L198.85 95.81 L201.09 94.50 L203.34 93.28 L205.58 92.25 L207.83 91.36 L210.08 90.55 L212.32 89.81 L214.57 89.13 L216.82 88.50 L219.06 87.92 L221.31 87.39 L223.55 86.85 L225.80 86.29 L228.05 85.67 L230.29 85.05 L232.54 84.48 L234.78 84.03 L237.03 83.70 L239.28 83.37 L241.52 83.06 L243.77 82.77 L246.02 82.51 L248.26 82.30 L250.51 82.14 L252.75 82.04 L255.00 82.00" fill="none" stroke="#9db4f0" stroke-width="1.1"/>
<line x1="209.54" y1="86.9" x2="209.54" y2="92.9" stroke="#86a0ee" stroke-width="0.8" />
<line x1="207.64" y1="86.9" x2="211.44" y2="86.9" stroke="#86a0ee" stroke-width="0.8" />
<line x1="207.64" y1="92.9" x2="211.44" y2="92.9" stroke="#86a0ee" stroke-width="0.8" />
<line x1="220.08" y1="84.8" x2="220.08" y2="90.8" stroke="#86a0ee" stroke-width="0.8" />
<line x1="218.18" y1="84.8" x2="221.98" y2="84.8" stroke="#86a0ee" stroke-width="0.8" />
<line x1="218.18" y1="90.8" x2="221.98" y2="90.8" stroke="#86a0ee" stroke-width="0.8" />
<line x1="230.62" y1="82.7" x2="230.62" y2="88.7" stroke="#86a0ee" stroke-width="0.8" />
<line x1="228.72" y1="82.7" x2="232.52" y2="82.7" stroke="#86a0ee" stroke-width="0.8" />
<line x1="228.72" y1="88.7" x2="232.52" y2="88.7" stroke="#86a0ee" stroke-width="0.8" />
<line x1="241.15" y1="77.9" x2="241.15" y2="83.9" stroke="#86a0ee" stroke-width="0.8" />
<line x1="239.25" y1="77.9" x2="243.05" y2="77.9" stroke="#86a0ee" stroke-width="0.8" />
<line x1="239.25" y1="83.9" x2="243.05" y2="83.9" stroke="#86a0ee" stroke-width="0.8" />
<line x1="251.69" y1="79.4" x2="251.69" y2="85.4" stroke="#86a0ee" stroke-width="0.8" />
<line x1="249.79" y1="79.4" x2="253.59" y2="79.4" stroke="#86a0ee" stroke-width="0.8" />
<line x1="249.79" y1="85.4" x2="253.59" y2="85.4" stroke="#86a0ee" stroke-width="0.8" />
<circle cx="167.4" cy="112.1" r="1.85" fill="#c9d4f7" stroke="#86a0ee" stroke-width="0.85"/>
<circle cx="167.4" cy="112.1" r="0.55" fill="#86a0ee" stroke="none" stroke-width="0"/>
<circle cx="169.16" cy="111.36" r="1.85" fill="#c9d4f7" stroke="#86a0ee" stroke-width="0.85"/>
<circle cx="169.16" cy="111.36" r="0.55" fill="#86a0ee" stroke="none" stroke-width="0"/>
<circle cx="170.91" cy="109.72" r="1.85" fill="#c9d4f7" stroke="#86a0ee" stroke-width="0.85"/>
<circle cx="170.91" cy="109.72" r="0.55" fill="#86a0ee" stroke="none" stroke-width="0"/>
<circle cx="172.67" cy="109.67" r="1.85" fill="#c9d4f7" stroke="#86a0ee" stroke-width="0.85"/>
<circle cx="172.67" cy="109.67" r="0.55" fill="#86a0ee" stroke="none" stroke-width="0"/>
<circle cx="174.42" cy="108.4" r="1.85" fill="#c9d4f7" stroke="#86a0ee" stroke-width="0.85"/>
<circle cx="174.42" cy="108.4" r="0.55" fill="#86a0ee" stroke="none" stroke-width="0"/>
<circle cx="176.18" cy="107.1" r="1.85" fill="#c9d4f7" stroke="#86a0ee" stroke-width="0.85"/>
<circle cx="176.18" cy="107.1" r="0.55" fill="#86a0ee" stroke="none" stroke-width="0"/>
<circle cx="177.94" cy="105.9" r="1.85" fill="#c9d4f7" stroke="#86a0ee" stroke-width="0.85"/>
<circle cx="177.94" cy="105.9" r="0.55" fill="#86a0ee" stroke="none" stroke-width="0"/>
<circle cx="179.69" cy="106.13" r="1.85" fill="#c9d4f7" stroke="#86a0ee" stroke-width="0.85"/>
<circle cx="179.69" cy="106.13" r="0.55" fill="#86a0ee" stroke="none" stroke-width="0"/>
<circle cx="181.45" cy="105.45" r="1.85" fill="#c9d4f7" stroke="#86a0ee" stroke-width="0.85"/>
<circle cx="181.45" cy="105.45" r="0.55" fill="#86a0ee" stroke="none" stroke-width="0"/>
<circle cx="183.2" cy="103.32" r="1.85" fill="#c9d4f7" stroke="#86a0ee" stroke-width="0.85"/>
<circle cx="183.2" cy="103.32" r="0.55" fill="#86a0ee" stroke="none" stroke-width="0"/>
<circle cx="184.96" cy="103.44" r="1.85" fill="#c9d4f7" stroke="#86a0ee" stroke-width="0.85"/>
<circle cx="184.96" cy="103.44" r="0.55" fill="#86a0ee" stroke="none" stroke-width="0"/>
<circle cx="186.72" cy="102.02" r="1.85" fill="#c9d4f7" stroke="#86a0ee" stroke-width="0.85"/>
<circle cx="186.72" cy="102.02" r="0.55" fill="#86a0ee" stroke="none" stroke-width="0"/>
<circle cx="188.47" cy="100.79" r="1.85" fill="#c9d4f7" stroke="#86a0ee" stroke-width="0.85"/>
<circle cx="188.47" cy="100.79" r="0.55" fill="#86a0ee" stroke="none" stroke-width="0"/>
<circle cx="190.23" cy="100.13" r="1.85" fill="#c9d4f7" stroke="#86a0ee" stroke-width="0.85"/>
<circle cx="190.23" cy="100.13" r="0.55" fill="#86a0ee" stroke="none" stroke-width="0"/>
<circle cx="191.98" cy="99.92" r="1.85" fill="#c9d4f7" stroke="#86a0ee" stroke-width="0.85"/>
<circle cx="191.98" cy="99.92" r="0.55" fill="#86a0ee" stroke="none" stroke-width="0"/>
<circle cx="193.74" cy="99.17" r="1.85" fill="#c9d4f7" stroke="#86a0ee" stroke-width="0.85"/>
<circle cx="193.74" cy="99.17" r="0.55" fill="#86a0ee" stroke="none" stroke-width="0"/>
<circle cx="195.5" cy="97.1" r="1.85" fill="#c9d4f7" stroke="#86a0ee" stroke-width="0.85"/>
<circle cx="195.5" cy="97.1" r="0.55" fill="#86a0ee" stroke="none" stroke-width="0"/>
<circle cx="197.25" cy="96.91" r="1.85" fill="#c9d4f7" stroke="#86a0ee" stroke-width="0.85"/>
<circle cx="197.25" cy="96.91" r="0.55" fill="#86a0ee" stroke="none" stroke-width="0"/>
<circle cx="199.01" cy="95.08" r="1.85" fill="#c9d4f7" stroke="#86a0ee" stroke-width="0.85"/>
<circle cx="199.01" cy="95.08" r="0.55" fill="#86a0ee" stroke="none" stroke-width="0"/>
<circle cx="209.54" cy="89.9" r="1.85" fill="#c9d4f7" stroke="#86a0ee" stroke-width="0.85"/>
<circle cx="209.54" cy="89.9" r="0.55" fill="#86a0ee" stroke="none" stroke-width="0"/>
<circle cx="220.08" cy="87.8" r="1.85" fill="#c9d4f7" stroke="#86a0ee" stroke-width="0.85"/>
<circle cx="220.08" cy="87.8" r="0.55" fill="#86a0ee" stroke="none" stroke-width="0"/>
<circle cx="230.62" cy="85.7" r="1.85" fill="#c9d4f7" stroke="#86a0ee" stroke-width="0.85"/>
<circle cx="230.62" cy="85.7" r="0.55" fill="#86a0ee" stroke="none" stroke-width="0"/>
<circle cx="241.15" cy="80.9" r="1.85" fill="#c9d4f7" stroke="#86a0ee" stroke-width="0.85"/>
<circle cx="241.15" cy="80.9" r="0.55" fill="#86a0ee" stroke="none" stroke-width="0"/>
<circle cx="251.69" cy="82.4" r="1.85" fill="#c9d4f7" stroke="#86a0ee" stroke-width="0.85"/>
<circle cx="251.69" cy="82.4" r="0.55" fill="#86a0ee" stroke="none" stroke-width="0"/>
<path d="M167.40 111.00 L169.65 108.60 L171.89 106.23 L174.14 103.89 L176.38 101.56 L178.63 99.18 L180.88 96.84 L183.12 94.65 L185.37 92.70 L187.62 90.92 L189.86 89.25 L192.11 87.73 L194.35 86.36 L196.60 85.16 L198.85 84.08 L201.09 83.09 L203.34 82.16 L205.58 81.27 L207.83 80.43 L210.08 79.64 L212.32 78.88 L214.57 78.14 L216.82 77.42 L219.06 76.72 L221.31 76.05 L223.55 75.40 L225.80 74.78 L228.05 74.12 L230.29 73.48 L232.54 72.93 L234.78 72.53 L237.03 72.26 L239.28 72.00 L241.52 71.76 L243.77 71.55 L246.02 71.36 L248.26 71.21 L250.51 71.10 L252.75 71.03 L255.00 71.00" fill="none" stroke="#5f80ee" stroke-width="1.1"/>
<line x1="188.47" y1="87.47" x2="188.47" y2="93.47" stroke="#4a70ee" stroke-width="0.8" />
<line x1="186.57" y1="87.47" x2="190.37" y2="87.47" stroke="#4a70ee" stroke-width="0.8" />
<line x1="186.57" y1="93.47" x2="190.37" y2="93.47" stroke="#4a70ee" stroke-width="0.8" />
<line x1="190.23" y1="85.38" x2="190.23" y2="91.38" stroke="#4a70ee" stroke-width="0.8" />
<line x1="188.33" y1="85.38" x2="192.13" y2="85.38" stroke="#4a70ee" stroke-width="0.8" />
<line x1="188.33" y1="91.38" x2="192.13" y2="91.38" stroke="#4a70ee" stroke-width="0.8" />
<line x1="191.98" y1="83.99" x2="191.98" y2="89.99" stroke="#4a70ee" stroke-width="0.8" />
<line x1="190.08" y1="83.99" x2="193.88" y2="83.99" stroke="#4a70ee" stroke-width="0.8" />
<line x1="190.08" y1="89.99" x2="193.88" y2="89.99" stroke="#4a70ee" stroke-width="0.8" />
<line x1="193.74" y1="84.38" x2="193.74" y2="90.38" stroke="#4a70ee" stroke-width="0.8" />
<line x1="191.84" y1="84.38" x2="195.64" y2="84.38" stroke="#4a70ee" stroke-width="0.8" />
<line x1="191.84" y1="90.38" x2="195.64" y2="90.38" stroke="#4a70ee" stroke-width="0.8" />
<line x1="195.5" y1="82.4" x2="195.5" y2="88.4" stroke="#4a70ee" stroke-width="0.8" />
<line x1="193.6" y1="82.4" x2="197.4" y2="82.4" stroke="#4a70ee" stroke-width="0.8" />
<line x1="193.6" y1="88.4" x2="197.4" y2="88.4" stroke="#4a70ee" stroke-width="0.8" />
<line x1="197.25" y1="82.66" x2="197.25" y2="88.66" stroke="#4a70ee" stroke-width="0.8" />
<line x1="195.35" y1="82.66" x2="199.15" y2="82.66" stroke="#4a70ee" stroke-width="0.8" />
<line x1="195.35" y1="88.66" x2="199.15" y2="88.66" stroke="#4a70ee" stroke-width="0.8" />
<line x1="199.01" y1="81.72" x2="199.01" y2="87.72" stroke="#4a70ee" stroke-width="0.8" />
<line x1="197.11" y1="81.72" x2="200.91" y2="81.72" stroke="#4a70ee" stroke-width="0.8" />
<line x1="197.11" y1="87.72" x2="200.91" y2="87.72" stroke="#4a70ee" stroke-width="0.8" />
<line x1="209.54" y1="74.9" x2="209.54" y2="84.9" stroke="#4a70ee" stroke-width="0.8" />
<line x1="207.64" y1="74.9" x2="211.44" y2="74.9" stroke="#4a70ee" stroke-width="0.8" />
<line x1="207.64" y1="84.9" x2="211.44" y2="84.9" stroke="#4a70ee" stroke-width="0.8" />
<line x1="220.08" y1="72.4" x2="220.08" y2="82.4" stroke="#4a70ee" stroke-width="0.8" />
<line x1="218.18" y1="72.4" x2="221.98" y2="72.4" stroke="#4a70ee" stroke-width="0.8" />
<line x1="218.18" y1="82.4" x2="221.98" y2="82.4" stroke="#4a70ee" stroke-width="0.8" />
<line x1="230.62" y1="65.1" x2="230.62" y2="75.1" stroke="#4a70ee" stroke-width="0.8" />
<line x1="228.72" y1="65.1" x2="232.52" y2="65.1" stroke="#4a70ee" stroke-width="0.8" />
<line x1="228.72" y1="75.1" x2="232.52" y2="75.1" stroke="#4a70ee" stroke-width="0.8" />
<line x1="241.15" y1="65.6" x2="241.15" y2="75.6" stroke="#4a70ee" stroke-width="0.8" />
<line x1="239.25" y1="65.6" x2="243.05" y2="65.6" stroke="#4a70ee" stroke-width="0.8" />
<line x1="239.25" y1="75.6" x2="243.05" y2="75.6" stroke="#4a70ee" stroke-width="0.8" />
<line x1="251.69" y1="60.4" x2="251.69" y2="74.4" stroke="#4a70ee" stroke-width="0.8" />
<line x1="249.79" y1="60.4" x2="253.59" y2="60.4" stroke="#4a70ee" stroke-width="0.8" />
<line x1="249.79" y1="74.4" x2="253.59" y2="74.4" stroke="#4a70ee" stroke-width="0.8" />
<circle cx="167.4" cy="111.39" r="1.85" fill="#a4b8f6" stroke="#4a70ee" stroke-width="0.85"/>
<circle cx="167.4" cy="111.39" r="0.55" fill="#4a70ee" stroke="none" stroke-width="0"/>
<circle cx="169.16" cy="108.82" r="1.85" fill="#a4b8f6" stroke="#4a70ee" stroke-width="0.85"/>
<circle cx="169.16" cy="108.82" r="0.55" fill="#4a70ee" stroke="none" stroke-width="0"/>
<circle cx="170.91" cy="107.94" r="1.85" fill="#a4b8f6" stroke="#4a70ee" stroke-width="0.85"/>
<circle cx="170.91" cy="107.94" r="0.55" fill="#4a70ee" stroke="none" stroke-width="0"/>
<circle cx="172.67" cy="106.28" r="1.85" fill="#a4b8f6" stroke="#4a70ee" stroke-width="0.85"/>
<circle cx="172.67" cy="106.28" r="0.55" fill="#4a70ee" stroke="none" stroke-width="0"/>
<circle cx="174.42" cy="103.6" r="1.85" fill="#a4b8f6" stroke="#4a70ee" stroke-width="0.85"/>
<circle cx="174.42" cy="103.6" r="0.55" fill="#4a70ee" stroke="none" stroke-width="0"/>
<circle cx="176.18" cy="102.67" r="1.85" fill="#a4b8f6" stroke="#4a70ee" stroke-width="0.85"/>
<circle cx="176.18" cy="102.67" r="0.55" fill="#4a70ee" stroke="none" stroke-width="0"/>
<circle cx="177.94" cy="99.57" r="1.85" fill="#a4b8f6" stroke="#4a70ee" stroke-width="0.85"/>
<circle cx="177.94" cy="99.57" r="0.55" fill="#4a70ee" stroke="none" stroke-width="0"/>
<circle cx="179.69" cy="97.3" r="1.85" fill="#a4b8f6" stroke="#4a70ee" stroke-width="0.85"/>
<circle cx="179.69" cy="97.3" r="0.55" fill="#4a70ee" stroke="none" stroke-width="0"/>
<circle cx="181.45" cy="96.45" r="1.85" fill="#a4b8f6" stroke="#4a70ee" stroke-width="0.85"/>
<circle cx="181.45" cy="96.45" r="0.55" fill="#4a70ee" stroke="none" stroke-width="0"/>
<circle cx="183.2" cy="93.73" r="1.85" fill="#a4b8f6" stroke="#4a70ee" stroke-width="0.85"/>
<circle cx="183.2" cy="93.73" r="0.55" fill="#4a70ee" stroke="none" stroke-width="0"/>
<circle cx="184.96" cy="92.49" r="1.85" fill="#a4b8f6" stroke="#4a70ee" stroke-width="0.85"/>
<circle cx="184.96" cy="92.49" r="0.55" fill="#4a70ee" stroke="none" stroke-width="0"/>
<circle cx="186.72" cy="91.45" r="1.85" fill="#a4b8f6" stroke="#4a70ee" stroke-width="0.85"/>
<circle cx="186.72" cy="91.45" r="0.55" fill="#4a70ee" stroke="none" stroke-width="0"/>
<circle cx="188.47" cy="90.47" r="1.85" fill="#a4b8f6" stroke="#4a70ee" stroke-width="0.85"/>
<circle cx="188.47" cy="90.47" r="0.55" fill="#4a70ee" stroke="none" stroke-width="0"/>
<circle cx="190.23" cy="88.38" r="1.85" fill="#a4b8f6" stroke="#4a70ee" stroke-width="0.85"/>
<circle cx="190.23" cy="88.38" r="0.55" fill="#4a70ee" stroke="none" stroke-width="0"/>
<circle cx="191.98" cy="86.99" r="1.85" fill="#a4b8f6" stroke="#4a70ee" stroke-width="0.85"/>
<circle cx="191.98" cy="86.99" r="0.55" fill="#4a70ee" stroke="none" stroke-width="0"/>
<circle cx="193.74" cy="87.38" r="1.85" fill="#a4b8f6" stroke="#4a70ee" stroke-width="0.85"/>
<circle cx="193.74" cy="87.38" r="0.55" fill="#4a70ee" stroke="none" stroke-width="0"/>
<circle cx="195.5" cy="85.4" r="1.85" fill="#a4b8f6" stroke="#4a70ee" stroke-width="0.85"/>
<circle cx="195.5" cy="85.4" r="0.55" fill="#4a70ee" stroke="none" stroke-width="0"/>
<circle cx="197.25" cy="85.66" r="1.85" fill="#a4b8f6" stroke="#4a70ee" stroke-width="0.85"/>
<circle cx="197.25" cy="85.66" r="0.55" fill="#4a70ee" stroke="none" stroke-width="0"/>
<circle cx="199.01" cy="84.72" r="1.85" fill="#a4b8f6" stroke="#4a70ee" stroke-width="0.85"/>
<circle cx="199.01" cy="84.72" r="0.55" fill="#4a70ee" stroke="none" stroke-width="0"/>
<circle cx="209.54" cy="79.9" r="1.85" fill="#a4b8f6" stroke="#4a70ee" stroke-width="0.85"/>
<circle cx="209.54" cy="79.9" r="0.55" fill="#4a70ee" stroke="none" stroke-width="0"/>
<circle cx="220.08" cy="77.4" r="1.85" fill="#a4b8f6" stroke="#4a70ee" stroke-width="0.85"/>
<circle cx="220.08" cy="77.4" r="0.55" fill="#4a70ee" stroke="none" stroke-width="0"/>
<circle cx="230.62" cy="70.1" r="1.85" fill="#a4b8f6" stroke="#4a70ee" stroke-width="0.85"/>
<circle cx="230.62" cy="70.1" r="0.55" fill="#4a70ee" stroke="none" stroke-width="0"/>
<circle cx="241.15" cy="70.6" r="1.85" fill="#a4b8f6" stroke="#4a70ee" stroke-width="0.85"/>
<circle cx="241.15" cy="70.6" r="0.55" fill="#4a70ee" stroke="none" stroke-width="0"/>
<circle cx="251.69" cy="67.4" r="1.85" fill="#a4b8f6" stroke="#4a70ee" stroke-width="0.85"/>
<circle cx="251.69" cy="67.4" r="0.55" fill="#4a70ee" stroke="none" stroke-width="0"/>
<path d="M167.40 112.00 L168.47 108.48 L169.53 105.28 L170.60 102.44 L171.67 99.87 L172.73 97.54 L173.80 95.42 L174.87 93.41 L175.93 91.59 L177.00 90.00 L178.07 88.58 L179.13 87.26 L180.20 86.07 L181.27 85.07 L182.33 84.27 L183.40 83.58 L184.47 82.95 L185.53 82.40 L186.60 81.95 L187.67 81.59 L188.73 81.33 L189.80 81.13 L190.87 80.96 L191.93 80.81 L193.00 80.66 L194.07 80.49 L195.13 80.28 L196.20 80.05 L197.27 79.82 L198.33 79.63 L199.40 79.52 L200.47 79.50 L201.53 79.50 L202.60 79.50 L203.67 79.50 L204.73 79.50 L205.80 79.50 L206.87 79.50 L207.93 79.50 L209.00 79.50" fill="none" stroke="#2a55e0" stroke-width="1.1"/>
<line x1="184.96" y1="79.08" x2="184.96" y2="87.08" stroke="#2448e0" stroke-width="0.8" />
<line x1="183.06" y1="79.08" x2="186.86" y2="79.08" stroke="#2448e0" stroke-width="0.8" />
<line x1="183.06" y1="87.08" x2="186.86" y2="87.08" stroke="#2448e0" stroke-width="0.8" />
<line x1="186.72" y1="77.43" x2="186.72" y2="85.43" stroke="#2448e0" stroke-width="0.8" />
<line x1="184.82" y1="77.43" x2="188.62" y2="77.43" stroke="#2448e0" stroke-width="0.8" />
<line x1="184.82" y1="85.43" x2="188.62" y2="85.43" stroke="#2448e0" stroke-width="0.8" />
<line x1="188.47" y1="77.03" x2="188.47" y2="85.03" stroke="#2448e0" stroke-width="0.8" />
<line x1="186.57" y1="77.03" x2="190.37" y2="77.03" stroke="#2448e0" stroke-width="0.8" />
<line x1="186.57" y1="85.03" x2="190.37" y2="85.03" stroke="#2448e0" stroke-width="0.8" />
<line x1="190.23" y1="77.92" x2="190.23" y2="85.92" stroke="#2448e0" stroke-width="0.8" />
<line x1="188.33" y1="77.92" x2="192.13" y2="77.92" stroke="#2448e0" stroke-width="0.8" />
<line x1="188.33" y1="85.92" x2="192.13" y2="85.92" stroke="#2448e0" stroke-width="0.8" />
<line x1="191.98" y1="76.84" x2="191.98" y2="84.84" stroke="#2448e0" stroke-width="0.8" />
<line x1="190.08" y1="76.84" x2="193.88" y2="76.84" stroke="#2448e0" stroke-width="0.8" />
<line x1="190.08" y1="84.84" x2="193.88" y2="84.84" stroke="#2448e0" stroke-width="0.8" />
<line x1="193.74" y1="76.63" x2="193.74" y2="84.63" stroke="#2448e0" stroke-width="0.8" />
<line x1="191.84" y1="76.63" x2="195.64" y2="76.63" stroke="#2448e0" stroke-width="0.8" />
<line x1="191.84" y1="84.63" x2="195.64" y2="84.63" stroke="#2448e0" stroke-width="0.8" />
<line x1="195.5" y1="75.32" x2="195.5" y2="83.32" stroke="#2448e0" stroke-width="0.8" />
<line x1="193.6" y1="75.32" x2="197.4" y2="75.32" stroke="#2448e0" stroke-width="0.8" />
<line x1="193.6" y1="83.32" x2="197.4" y2="83.32" stroke="#2448e0" stroke-width="0.8" />
<line x1="197.25" y1="75.67" x2="197.25" y2="83.67" stroke="#2448e0" stroke-width="0.8" />
<line x1="195.35" y1="75.67" x2="199.15" y2="75.67" stroke="#2448e0" stroke-width="0.8" />
<line x1="195.35" y1="83.67" x2="199.15" y2="83.67" stroke="#2448e0" stroke-width="0.8" />
<line x1="199.01" y1="75.69" x2="199.01" y2="83.69" stroke="#2448e0" stroke-width="0.8" />
<line x1="197.11" y1="75.69" x2="200.91" y2="75.69" stroke="#2448e0" stroke-width="0.8" />
<line x1="197.11" y1="83.69" x2="200.91" y2="83.69" stroke="#2448e0" stroke-width="0.8" />
<line x1="209.54" y1="74.64" x2="209.54" y2="82.64" stroke="#2448e0" stroke-width="0.8" />
<line x1="207.64" y1="74.64" x2="211.44" y2="74.64" stroke="#2448e0" stroke-width="0.8" />
<line x1="207.64" y1="82.64" x2="211.44" y2="82.64" stroke="#2448e0" stroke-width="0.8" />
<circle cx="167.4" cy="111.78" r="1.85" fill="#879aee" stroke="#2448e0" stroke-width="0.85"/>
<circle cx="167.4" cy="111.78" r="0.55" fill="#2448e0" stroke="none" stroke-width="0"/>
<circle cx="169.16" cy="106.3" r="1.85" fill="#879aee" stroke="#2448e0" stroke-width="0.85"/>
<circle cx="169.16" cy="106.3" r="0.55" fill="#2448e0" stroke="none" stroke-width="0"/>
<circle cx="170.91" cy="101.7" r="1.85" fill="#879aee" stroke="#2448e0" stroke-width="0.85"/>
<circle cx="170.91" cy="101.7" r="0.55" fill="#2448e0" stroke="none" stroke-width="0"/>
<circle cx="172.67" cy="97.94" r="1.85" fill="#879aee" stroke="#2448e0" stroke-width="0.85"/>
<circle cx="172.67" cy="97.94" r="0.55" fill="#2448e0" stroke="none" stroke-width="0"/>
<circle cx="174.42" cy="94.4" r="1.85" fill="#879aee" stroke="#2448e0" stroke-width="0.85"/>
<circle cx="174.42" cy="94.4" r="0.55" fill="#2448e0" stroke="none" stroke-width="0"/>
<circle cx="176.18" cy="91.31" r="1.85" fill="#879aee" stroke="#2448e0" stroke-width="0.85"/>
<circle cx="176.18" cy="91.31" r="0.55" fill="#2448e0" stroke="none" stroke-width="0"/>
<circle cx="177.94" cy="88.97" r="1.85" fill="#879aee" stroke="#2448e0" stroke-width="0.85"/>
<circle cx="177.94" cy="88.97" r="0.55" fill="#2448e0" stroke="none" stroke-width="0"/>
<circle cx="179.69" cy="87.41" r="1.85" fill="#879aee" stroke="#2448e0" stroke-width="0.85"/>
<circle cx="179.69" cy="87.41" r="0.55" fill="#2448e0" stroke="none" stroke-width="0"/>
<circle cx="181.45" cy="84.93" r="1.85" fill="#879aee" stroke="#2448e0" stroke-width="0.85"/>
<circle cx="181.45" cy="84.93" r="0.55" fill="#2448e0" stroke="none" stroke-width="0"/>
<circle cx="183.2" cy="83.58" r="1.85" fill="#879aee" stroke="#2448e0" stroke-width="0.85"/>
<circle cx="183.2" cy="83.58" r="0.55" fill="#2448e0" stroke="none" stroke-width="0"/>
<circle cx="184.96" cy="83.08" r="1.85" fill="#879aee" stroke="#2448e0" stroke-width="0.85"/>
<circle cx="184.96" cy="83.08" r="0.55" fill="#2448e0" stroke="none" stroke-width="0"/>
<circle cx="186.72" cy="81.43" r="1.85" fill="#879aee" stroke="#2448e0" stroke-width="0.85"/>
<circle cx="186.72" cy="81.43" r="0.55" fill="#2448e0" stroke="none" stroke-width="0"/>
<circle cx="188.47" cy="81.03" r="1.85" fill="#879aee" stroke="#2448e0" stroke-width="0.85"/>
<circle cx="188.47" cy="81.03" r="0.55" fill="#2448e0" stroke="none" stroke-width="0"/>
<circle cx="190.23" cy="81.92" r="1.85" fill="#879aee" stroke="#2448e0" stroke-width="0.85"/>
<circle cx="190.23" cy="81.92" r="0.55" fill="#2448e0" stroke="none" stroke-width="0"/>
<circle cx="191.98" cy="80.84" r="1.85" fill="#879aee" stroke="#2448e0" stroke-width="0.85"/>
<circle cx="191.98" cy="80.84" r="0.55" fill="#2448e0" stroke="none" stroke-width="0"/>
<circle cx="193.74" cy="80.63" r="1.85" fill="#879aee" stroke="#2448e0" stroke-width="0.85"/>
<circle cx="193.74" cy="80.63" r="0.55" fill="#2448e0" stroke="none" stroke-width="0"/>
<circle cx="195.5" cy="79.32" r="1.85" fill="#879aee" stroke="#2448e0" stroke-width="0.85"/>
<circle cx="195.5" cy="79.32" r="0.55" fill="#2448e0" stroke="none" stroke-width="0"/>
<circle cx="197.25" cy="79.67" r="1.85" fill="#879aee" stroke="#2448e0" stroke-width="0.85"/>
<circle cx="197.25" cy="79.67" r="0.55" fill="#2448e0" stroke="none" stroke-width="0"/>
<circle cx="199.01" cy="79.69" r="1.85" fill="#879aee" stroke="#2448e0" stroke-width="0.85"/>
<circle cx="199.01" cy="79.69" r="0.55" fill="#2448e0" stroke="none" stroke-width="0"/>
<circle cx="209.54" cy="78.64" r="1.85" fill="#879aee" stroke="#2448e0" stroke-width="0.85"/>
<circle cx="209.54" cy="78.64" r="0.55" fill="#2448e0" stroke="none" stroke-width="0"/>
<path d="M167.40 112.00 L168.24 107.29 L169.07 103.52 L169.91 100.33 L170.74 97.40 L171.58 94.73 L172.42 92.39 L173.25 90.34 L174.09 88.32 L174.92 86.32 L175.76 84.42 L176.59 82.61 L177.43 80.94 L178.27 79.46 L179.10 78.10 L179.94 76.85 L180.77 75.70 L181.61 74.76 L182.45 73.90 L183.28 73.20 L184.12 72.76 L184.95 72.50 L185.79 72.30 L186.63 72.14 L187.46 71.99 L188.30 71.82 L189.13 71.61 L189.97 71.36 L190.81 71.11 L191.64 70.87 L192.48 70.67 L193.31 70.54 L194.15 70.50 L194.98 70.54 L195.82 70.64 L196.66 70.79 L197.49 71.01 L198.33 71.28 L199.16 71.61 L200.00 72.00" fill="none" stroke="#1e2a80" stroke-width="1.3"/>
<line x1="183.2" y1="69.68" x2="183.2" y2="75.68" stroke="#1e2680" stroke-width="0.8" />
<line x1="181.3" y1="69.68" x2="185.1" y2="69.68" stroke="#1e2680" stroke-width="0.8" />
<line x1="181.3" y1="75.68" x2="185.1" y2="75.68" stroke="#1e2680" stroke-width="0.8" />
<line x1="184.96" y1="68.97" x2="184.96" y2="74.97" stroke="#1e2680" stroke-width="0.8" />
<line x1="183.06" y1="68.97" x2="186.86" y2="68.97" stroke="#1e2680" stroke-width="0.8" />
<line x1="183.06" y1="74.97" x2="186.86" y2="74.97" stroke="#1e2680" stroke-width="0.8" />
<line x1="188.47" y1="68.3" x2="188.47" y2="76.3" stroke="#1e2680" stroke-width="0.8" />
<line x1="186.57" y1="68.3" x2="190.37" y2="68.3" stroke="#1e2680" stroke-width="0.8" />
<line x1="186.57" y1="76.3" x2="190.37" y2="76.3" stroke="#1e2680" stroke-width="0.8" />
<line x1="193.74" y1="63.5" x2="193.74" y2="73.5" stroke="#1e2680" stroke-width="0.8" />
<line x1="191.84" y1="63.5" x2="195.64" y2="63.5" stroke="#1e2680" stroke-width="0.8" />
<line x1="191.84" y1="73.5" x2="195.64" y2="73.5" stroke="#1e2680" stroke-width="0.8" />
<line x1="199.01" y1="67.3" x2="199.01" y2="77.3" stroke="#1e2680" stroke-width="0.8" />
<line x1="197.11" y1="67.3" x2="200.91" y2="67.3" stroke="#1e2680" stroke-width="0.8" />
<line x1="197.11" y1="77.3" x2="200.91" y2="77.3" stroke="#1e2680" stroke-width="0.8" />
<circle cx="167.4" cy="112.14" r="1.85" fill="#8388b9" stroke="#1e2680" stroke-width="0.85"/>
<circle cx="167.4" cy="112.14" r="0.55" fill="#1e2680" stroke="none" stroke-width="0"/>
<circle cx="169.16" cy="103.34" r="1.85" fill="#8388b9" stroke="#1e2680" stroke-width="0.85"/>
<circle cx="169.16" cy="103.34" r="0.55" fill="#1e2680" stroke="none" stroke-width="0"/>
<circle cx="170.91" cy="96.31" r="1.85" fill="#8388b9" stroke="#1e2680" stroke-width="0.85"/>
<circle cx="170.91" cy="96.31" r="0.55" fill="#1e2680" stroke="none" stroke-width="0"/>
<circle cx="172.67" cy="91.9" r="1.85" fill="#8388b9" stroke="#1e2680" stroke-width="0.85"/>
<circle cx="172.67" cy="91.9" r="0.55" fill="#1e2680" stroke="none" stroke-width="0"/>
<circle cx="174.42" cy="87.46" r="1.85" fill="#8388b9" stroke="#1e2680" stroke-width="0.85"/>
<circle cx="174.42" cy="87.46" r="0.55" fill="#1e2680" stroke="none" stroke-width="0"/>
<circle cx="176.18" cy="83.71" r="1.85" fill="#8388b9" stroke="#1e2680" stroke-width="0.85"/>
<circle cx="176.18" cy="83.71" r="0.55" fill="#1e2680" stroke="none" stroke-width="0"/>
<circle cx="177.94" cy="79.85" r="1.85" fill="#8388b9" stroke="#1e2680" stroke-width="0.85"/>
<circle cx="177.94" cy="79.85" r="0.55" fill="#1e2680" stroke="none" stroke-width="0"/>
<circle cx="179.69" cy="77.46" r="1.85" fill="#8388b9" stroke="#1e2680" stroke-width="0.85"/>
<circle cx="179.69" cy="77.46" r="0.55" fill="#1e2680" stroke="none" stroke-width="0"/>
<circle cx="181.45" cy="75.22" r="1.85" fill="#8388b9" stroke="#1e2680" stroke-width="0.85"/>
<circle cx="181.45" cy="75.22" r="0.55" fill="#1e2680" stroke="none" stroke-width="0"/>
<circle cx="183.2" cy="72.68" r="1.85" fill="#8388b9" stroke="#1e2680" stroke-width="0.85"/>
<circle cx="183.2" cy="72.68" r="0.55" fill="#1e2680" stroke="none" stroke-width="0"/>
<circle cx="184.96" cy="71.97" r="1.85" fill="#8388b9" stroke="#1e2680" stroke-width="0.85"/>
<circle cx="184.96" cy="71.97" r="0.55" fill="#1e2680" stroke="none" stroke-width="0"/>
<circle cx="188.47" cy="72.3" r="1.85" fill="#8388b9" stroke="#1e2680" stroke-width="0.85"/>
<circle cx="188.47" cy="72.3" r="0.55" fill="#1e2680" stroke="none" stroke-width="0"/>
<circle cx="193.74" cy="68.5" r="1.85" fill="#8388b9" stroke="#1e2680" stroke-width="0.85"/>
<circle cx="193.74" cy="68.5" r="0.55" fill="#1e2680" stroke="none" stroke-width="0"/>
<circle cx="199.01" cy="72.3" r="1.85" fill="#8388b9" stroke="#1e2680" stroke-width="0.85"/>
<circle cx="199.01" cy="72.3" r="0.55" fill="#1e2680" stroke="none" stroke-width="0"/>
<path d="M167.40 113.00 L169.65 112.94 L171.89 112.76 L174.14 112.49 L176.38 112.14 L178.63 111.75 L180.88 111.31 L183.12 110.58 L185.37 109.63 L187.62 108.58 L189.86 107.56 L192.11 106.58 L194.35 105.55 L196.60 104.51 L198.85 103.50 L201.09 102.54 L203.34 101.61 L205.58 100.70 L207.83 99.82 L210.08 98.97 L212.32 98.16 L214.57 97.40 L216.82 96.63 L219.06 95.84 L221.31 95.00 L223.55 94.10 L225.80 93.17 L228.05 92.26 L230.29 91.39 L232.54 90.53 L234.78 89.69 L237.03 88.89 L239.28 88.20 L241.52 87.61 L243.77 87.06 L246.02 86.54 L248.26 86.06 L250.51 85.64 L252.75 85.29 L255.00 85.00" fill="none" stroke="#000" stroke-width="1.4"/>
<circle cx="168" cy="112.5" r="1.85" fill="#fff" stroke="#000" stroke-width="0.85"/>
<circle cx="169.4" cy="111.5" r="1.85" fill="#fff" stroke="#000" stroke-width="0.85"/>
<circle cx="173" cy="113" r="1.85" fill="#fff" stroke="#000" stroke-width="0.85"/>
<circle cx="183.2" cy="111.5" r="1.85" fill="#fff" stroke="#000" stroke-width="0.85"/>
<circle cx="188.6" cy="107.9" r="1.85" fill="#fff" stroke="#000" stroke-width="0.85"/>
<circle cx="194" cy="103.1" r="1.85" fill="#fff" stroke="#000" stroke-width="0.85"/>
<circle cx="198.9" cy="101.8" r="1.85" fill="#fff" stroke="#000" stroke-width="0.85"/>
<circle cx="209.3" cy="99.5" r="1.85" fill="#fff" stroke="#000" stroke-width="0.85"/>
<circle cx="220.1" cy="95" r="1.85" fill="#fff" stroke="#000" stroke-width="0.85"/>
<circle cx="230.5" cy="93.4" r="1.85" fill="#fff" stroke="#000" stroke-width="0.85"/>
<circle cx="240.9" cy="88.8" r="1.85" fill="#fff" stroke="#000" stroke-width="0.85"/>
<circle cx="251.2" cy="76.8" r="1.85" fill="#fff" stroke="#000" stroke-width="0.85"/>
<path d="M300.00 112.60 L301.95 112.58 L303.90 112.55 L305.85 112.52 L307.79 112.49 L309.74 112.45 L311.69 112.41 L313.64 112.36 L315.59 112.31 L317.54 112.26 L319.49 112.21 L321.44 112.16 L323.38 112.10 L325.33 112.03 L327.28 111.95 L329.23 111.87 L331.18 111.79 L333.13 111.70 L335.08 111.62 L337.03 111.53 L338.97 111.44 L340.92 111.36 L342.87 111.28 L344.82 111.20 L346.77 111.11 L348.72 111.03 L350.67 110.95 L352.62 110.86 L354.56 110.77 L356.51 110.68 L358.46 110.58 L360.41 110.48 L362.36 110.37 L364.31 110.26 L366.26 110.14 L368.21 110.02 L370.15 109.90 L372.10 109.77 L374.05 109.64 L376.00 109.50" fill="none" stroke="#000" stroke-width="1.2"/>
<circle cx="300.1" cy="112.7" r="1.85" fill="#fff" stroke="#000" stroke-width="0.85"/>
<circle cx="303.25" cy="112.84" r="1.85" fill="#fff" stroke="#000" stroke-width="0.85"/>
<circle cx="306.4" cy="112.36" r="1.85" fill="#fff" stroke="#000" stroke-width="0.85"/>
<circle cx="309.55" cy="112.42" r="1.85" fill="#fff" stroke="#000" stroke-width="0.85"/>
<circle cx="312.7" cy="112.44" r="1.85" fill="#fff" stroke="#000" stroke-width="0.85"/>
<circle cx="315.85" cy="112.2" r="1.85" fill="#fff" stroke="#000" stroke-width="0.85"/>
<circle cx="319" cy="112.14" r="1.85" fill="#fff" stroke="#000" stroke-width="0.85"/>
<circle cx="322.15" cy="112.02" r="1.85" fill="#fff" stroke="#000" stroke-width="0.85"/>
<circle cx="325.3" cy="111.95" r="1.85" fill="#fff" stroke="#000" stroke-width="0.85"/>
<circle cx="331.6" cy="111.83" r="1.85" fill="#fff" stroke="#000" stroke-width="0.85"/>
<circle cx="337.9" cy="111.37" r="1.85" fill="#fff" stroke="#000" stroke-width="0.85"/>
<circle cx="344.2" cy="111.15" r="1.85" fill="#fff" stroke="#000" stroke-width="0.85"/>
<circle cx="350.5" cy="111.12" r="1.85" fill="#fff" stroke="#000" stroke-width="0.85"/>
<circle cx="356.8" cy="110.38" r="1.85" fill="#fff" stroke="#000" stroke-width="0.85"/>
<circle cx="363.1" cy="110.37" r="1.85" fill="#fff" stroke="#000" stroke-width="0.85"/>
<circle cx="369.4" cy="110.09" r="1.85" fill="#fff" stroke="#000" stroke-width="0.85"/>
<circle cx="375.7" cy="109.41" r="1.85" fill="#fff" stroke="#000" stroke-width="0.85"/>
<path d="M300.00 112.00 L301.95 110.34 L303.90 109.55 L305.85 109.14 L307.79 108.85 L309.74 108.63 L311.69 108.43 L313.64 108.26 L315.59 108.11 L317.54 107.97 L319.49 107.84 L321.44 107.70 L323.38 107.59 L325.33 107.45 L327.28 107.27 L329.23 107.04 L331.18 106.77 L333.13 106.48 L335.08 106.15 L337.03 105.80 L338.97 105.44 L340.92 105.07 L342.87 104.71 L344.82 104.35 L346.77 103.99 L348.72 103.61 L350.67 103.24 L352.62 102.88 L354.56 102.54 L356.51 102.22 L358.46 101.91 L360.41 101.61 L362.36 101.31 L364.31 101.02 L366.26 100.74 L368.21 100.47 L370.15 100.21 L372.10 99.96 L374.05 99.73 L376.00 99.50" fill="none" stroke="#ec6a94" stroke-width="1.3"/>
<line x1="325.3" y1="105.82" x2="325.3" y2="108.82" stroke="#ec6894" stroke-width="0.8" />
<line x1="323.4" y1="105.82" x2="327.2" y2="105.82" stroke="#ec6894" stroke-width="0.8" />
<line x1="323.4" y1="108.82" x2="327.2" y2="108.82" stroke="#ec6894" stroke-width="0.8" />
<line x1="331.6" y1="105.48" x2="331.6" y2="108.48" stroke="#ec6894" stroke-width="0.8" />
<line x1="329.7" y1="105.48" x2="333.5" y2="105.48" stroke="#ec6894" stroke-width="0.8" />
<line x1="329.7" y1="108.48" x2="333.5" y2="108.48" stroke="#ec6894" stroke-width="0.8" />
<line x1="337.9" y1="104.09" x2="337.9" y2="107.09" stroke="#ec6894" stroke-width="0.8" />
<line x1="336" y1="104.09" x2="339.8" y2="104.09" stroke="#ec6894" stroke-width="0.8" />
<line x1="336" y1="107.09" x2="339.8" y2="107.09" stroke="#ec6894" stroke-width="0.8" />
<line x1="344.2" y1="103.25" x2="344.2" y2="106.25" stroke="#ec6894" stroke-width="0.8" />
<line x1="342.3" y1="103.25" x2="346.1" y2="103.25" stroke="#ec6894" stroke-width="0.8" />
<line x1="342.3" y1="106.25" x2="346.1" y2="106.25" stroke="#ec6894" stroke-width="0.8" />
<line x1="350.5" y1="101.51" x2="350.5" y2="104.51" stroke="#ec6894" stroke-width="0.8" />
<line x1="348.6" y1="101.51" x2="352.4" y2="101.51" stroke="#ec6894" stroke-width="0.8" />
<line x1="348.6" y1="104.51" x2="352.4" y2="104.51" stroke="#ec6894" stroke-width="0.8" />
<line x1="356.8" y1="100.54" x2="356.8" y2="103.54" stroke="#ec6894" stroke-width="0.8" />
<line x1="354.9" y1="100.54" x2="358.7" y2="100.54" stroke="#ec6894" stroke-width="0.8" />
<line x1="354.9" y1="103.54" x2="358.7" y2="103.54" stroke="#ec6894" stroke-width="0.8" />
<line x1="363.1" y1="99.82" x2="363.1" y2="102.82" stroke="#ec6894" stroke-width="0.8" />
<line x1="361.2" y1="99.82" x2="365" y2="99.82" stroke="#ec6894" stroke-width="0.8" />
<line x1="361.2" y1="102.82" x2="365" y2="102.82" stroke="#ec6894" stroke-width="0.8" />
<line x1="369.4" y1="99.12" x2="369.4" y2="102.12" stroke="#ec6894" stroke-width="0.8" />
<line x1="367.5" y1="99.12" x2="371.3" y2="99.12" stroke="#ec6894" stroke-width="0.8" />
<line x1="367.5" y1="102.12" x2="371.3" y2="102.12" stroke="#ec6894" stroke-width="0.8" />
<line x1="375.7" y1="97.99" x2="375.7" y2="100.99" stroke="#ec6894" stroke-width="0.8" />
<line x1="373.8" y1="97.99" x2="377.6" y2="97.99" stroke="#ec6894" stroke-width="0.8" />
<line x1="373.8" y1="100.99" x2="377.6" y2="100.99" stroke="#ec6894" stroke-width="0.8" />
<circle cx="300.1" cy="111.69" r="1.85" fill="#f6b4ca" stroke="#ec6894" stroke-width="0.85"/>
<circle cx="300.1" cy="111.69" r="0.55" fill="#ec6894" stroke="none" stroke-width="0"/>
<circle cx="303.25" cy="109.97" r="1.85" fill="#f6b4ca" stroke="#ec6894" stroke-width="0.85"/>
<circle cx="303.25" cy="109.97" r="0.55" fill="#ec6894" stroke="none" stroke-width="0"/>
<circle cx="306.4" cy="108.84" r="1.85" fill="#f6b4ca" stroke="#ec6894" stroke-width="0.85"/>
<circle cx="306.4" cy="108.84" r="0.55" fill="#ec6894" stroke="none" stroke-width="0"/>
<circle cx="309.55" cy="108.4" r="1.85" fill="#f6b4ca" stroke="#ec6894" stroke-width="0.85"/>
<circle cx="309.55" cy="108.4" r="0.55" fill="#ec6894" stroke="none" stroke-width="0"/>
<circle cx="312.7" cy="108.28" r="1.85" fill="#f6b4ca" stroke="#ec6894" stroke-width="0.85"/>
<circle cx="312.7" cy="108.28" r="0.55" fill="#ec6894" stroke="none" stroke-width="0"/>
<circle cx="315.85" cy="108.25" r="1.85" fill="#f6b4ca" stroke="#ec6894" stroke-width="0.85"/>
<circle cx="315.85" cy="108.25" r="0.55" fill="#ec6894" stroke="none" stroke-width="0"/>
<circle cx="319" cy="107.55" r="1.85" fill="#f6b4ca" stroke="#ec6894" stroke-width="0.85"/>
<circle cx="319" cy="107.55" r="0.55" fill="#ec6894" stroke="none" stroke-width="0"/>
<circle cx="322.15" cy="107.52" r="1.85" fill="#f6b4ca" stroke="#ec6894" stroke-width="0.85"/>
<circle cx="322.15" cy="107.52" r="0.55" fill="#ec6894" stroke="none" stroke-width="0"/>
<circle cx="325.3" cy="107.32" r="1.85" fill="#f6b4ca" stroke="#ec6894" stroke-width="0.85"/>
<circle cx="325.3" cy="107.32" r="0.55" fill="#ec6894" stroke="none" stroke-width="0"/>
<circle cx="331.6" cy="106.98" r="1.85" fill="#f6b4ca" stroke="#ec6894" stroke-width="0.85"/>
<circle cx="331.6" cy="106.98" r="0.55" fill="#ec6894" stroke="none" stroke-width="0"/>
<circle cx="337.9" cy="105.59" r="1.85" fill="#f6b4ca" stroke="#ec6894" stroke-width="0.85"/>
<circle cx="337.9" cy="105.59" r="0.55" fill="#ec6894" stroke="none" stroke-width="0"/>
<circle cx="344.2" cy="104.75" r="1.85" fill="#f6b4ca" stroke="#ec6894" stroke-width="0.85"/>
<circle cx="344.2" cy="104.75" r="0.55" fill="#ec6894" stroke="none" stroke-width="0"/>
<circle cx="350.5" cy="103.01" r="1.85" fill="#f6b4ca" stroke="#ec6894" stroke-width="0.85"/>
<circle cx="350.5" cy="103.01" r="0.55" fill="#ec6894" stroke="none" stroke-width="0"/>
<circle cx="356.8" cy="102.04" r="1.85" fill="#f6b4ca" stroke="#ec6894" stroke-width="0.85"/>
<circle cx="356.8" cy="102.04" r="0.55" fill="#ec6894" stroke="none" stroke-width="0"/>
<circle cx="363.1" cy="101.32" r="1.85" fill="#f6b4ca" stroke="#ec6894" stroke-width="0.85"/>
<circle cx="363.1" cy="101.32" r="0.55" fill="#ec6894" stroke="none" stroke-width="0"/>
<circle cx="369.4" cy="100.62" r="1.85" fill="#f6b4ca" stroke="#ec6894" stroke-width="0.85"/>
<circle cx="369.4" cy="100.62" r="0.55" fill="#ec6894" stroke="none" stroke-width="0"/>
<circle cx="375.7" cy="99.49" r="1.85" fill="#f6b4ca" stroke="#ec6894" stroke-width="0.85"/>
<circle cx="375.7" cy="99.49" r="0.55" fill="#ec6894" stroke="none" stroke-width="0"/>
<path d="M300.00 112.00 L301.77 106.27 L303.54 102.64 L305.31 100.41 L307.08 98.73 L308.85 97.40 L310.62 96.28 L312.38 95.30 L314.15 94.43 L315.92 93.64 L317.69 92.91 L319.46 92.23 L321.23 91.57 L323.00 90.93 L324.77 90.32 L326.54 89.74 L328.31 89.18 L330.08 88.66 L331.85 88.17 L333.62 87.70 L335.38 87.24 L337.15 86.80 L338.92 86.38 L340.69 85.97 L342.46 85.56 L344.23 85.17 L346.00 84.79 L347.77 84.42 L349.54 84.07 L351.31 83.71 L353.08 83.37 L354.85 83.03 L356.62 82.69 L358.38 82.36 L360.15 82.04 L361.92 81.72 L363.69 81.40 L365.46 81.10 L367.23 80.79 L369.00 80.50" fill="none" stroke="#ee4870" stroke-width="1.3"/>
<line x1="319" y1="89.52" x2="319" y2="94.52" stroke="#ec3c62" stroke-width="0.8" />
<line x1="317.1" y1="89.52" x2="320.9" y2="89.52" stroke="#ec3c62" stroke-width="0.8" />
<line x1="317.1" y1="94.52" x2="320.9" y2="94.52" stroke="#ec3c62" stroke-width="0.8" />
<line x1="322.15" y1="88.47" x2="322.15" y2="93.47" stroke="#ec3c62" stroke-width="0.8" />
<line x1="320.25" y1="88.47" x2="324.05" y2="88.47" stroke="#ec3c62" stroke-width="0.8" />
<line x1="320.25" y1="93.47" x2="324.05" y2="93.47" stroke="#ec3c62" stroke-width="0.8" />
<line x1="325.3" y1="88.01" x2="325.3" y2="93.01" stroke="#ec3c62" stroke-width="0.8" />
<line x1="323.4" y1="88.01" x2="327.2" y2="88.01" stroke="#ec3c62" stroke-width="0.8" />
<line x1="323.4" y1="93.01" x2="327.2" y2="93.01" stroke="#ec3c62" stroke-width="0.8" />
<line x1="328.45" y1="86.81" x2="328.45" y2="91.81" stroke="#ec3c62" stroke-width="0.8" />
<line x1="326.55" y1="86.81" x2="330.35" y2="86.81" stroke="#ec3c62" stroke-width="0.8" />
<line x1="326.55" y1="91.81" x2="330.35" y2="91.81" stroke="#ec3c62" stroke-width="0.8" />
<line x1="331.6" y1="86.1" x2="331.6" y2="91.1" stroke="#ec3c62" stroke-width="0.8" />
<line x1="329.7" y1="86.1" x2="333.5" y2="86.1" stroke="#ec3c62" stroke-width="0.8" />
<line x1="329.7" y1="91.1" x2="333.5" y2="91.1" stroke="#ec3c62" stroke-width="0.8" />
<line x1="337.9" y1="83.94" x2="337.9" y2="88.94" stroke="#ec3c62" stroke-width="0.8" />
<line x1="336" y1="83.94" x2="339.8" y2="83.94" stroke="#ec3c62" stroke-width="0.8" />
<line x1="336" y1="88.94" x2="339.8" y2="88.94" stroke="#ec3c62" stroke-width="0.8" />
<line x1="344.2" y1="82.23" x2="344.2" y2="87.23" stroke="#ec3c62" stroke-width="0.8" />
<line x1="342.3" y1="82.23" x2="346.1" y2="82.23" stroke="#ec3c62" stroke-width="0.8" />
<line x1="342.3" y1="87.23" x2="346.1" y2="87.23" stroke="#ec3c62" stroke-width="0.8" />
<line x1="350.5" y1="81.12" x2="350.5" y2="86.12" stroke="#ec3c62" stroke-width="0.8" />
<line x1="348.6" y1="81.12" x2="352.4" y2="81.12" stroke="#ec3c62" stroke-width="0.8" />
<line x1="348.6" y1="86.12" x2="352.4" y2="86.12" stroke="#ec3c62" stroke-width="0.8" />
<line x1="356.8" y1="80.51" x2="356.8" y2="85.51" stroke="#ec3c62" stroke-width="0.8" />
<line x1="354.9" y1="80.51" x2="358.7" y2="80.51" stroke="#ec3c62" stroke-width="0.8" />
<line x1="354.9" y1="85.51" x2="358.7" y2="85.51" stroke="#ec3c62" stroke-width="0.8" />
<line x1="363.1" y1="78.73" x2="363.1" y2="83.73" stroke="#ec3c62" stroke-width="0.8" />
<line x1="361.2" y1="78.73" x2="365" y2="78.73" stroke="#ec3c62" stroke-width="0.8" />
<line x1="361.2" y1="83.73" x2="365" y2="83.73" stroke="#ec3c62" stroke-width="0.8" />
<line x1="369.4" y1="77.82" x2="369.4" y2="82.82" stroke="#ec3c62" stroke-width="0.8" />
<line x1="367.5" y1="77.82" x2="371.3" y2="77.82" stroke="#ec3c62" stroke-width="0.8" />
<line x1="367.5" y1="82.82" x2="371.3" y2="82.82" stroke="#ec3c62" stroke-width="0.8" />
<circle cx="300.1" cy="111.29" r="1.85" fill="#f69eb0" stroke="#ec3c62" stroke-width="0.85"/>
<circle cx="300.1" cy="111.29" r="0.55" fill="#ec3c62" stroke="none" stroke-width="0"/>
<circle cx="303.25" cy="102.63" r="1.85" fill="#f69eb0" stroke="#ec3c62" stroke-width="0.85"/>
<circle cx="303.25" cy="102.63" r="0.55" fill="#ec3c62" stroke="none" stroke-width="0"/>
<circle cx="306.4" cy="99.36" r="1.85" fill="#f69eb0" stroke="#ec3c62" stroke-width="0.85"/>
<circle cx="306.4" cy="99.36" r="0.55" fill="#ec3c62" stroke="none" stroke-width="0"/>
<circle cx="309.55" cy="96.57" r="1.85" fill="#f69eb0" stroke="#ec3c62" stroke-width="0.85"/>
<circle cx="309.55" cy="96.57" r="0.55" fill="#ec3c62" stroke="none" stroke-width="0"/>
<circle cx="312.7" cy="95.51" r="1.85" fill="#f69eb0" stroke="#ec3c62" stroke-width="0.85"/>
<circle cx="312.7" cy="95.51" r="0.55" fill="#ec3c62" stroke="none" stroke-width="0"/>
<circle cx="315.85" cy="94.08" r="1.85" fill="#f69eb0" stroke="#ec3c62" stroke-width="0.85"/>
<circle cx="315.85" cy="94.08" r="0.55" fill="#ec3c62" stroke="none" stroke-width="0"/>
<circle cx="319" cy="92.02" r="1.85" fill="#f69eb0" stroke="#ec3c62" stroke-width="0.85"/>
<circle cx="319" cy="92.02" r="0.55" fill="#ec3c62" stroke="none" stroke-width="0"/>
<circle cx="322.15" cy="90.97" r="1.85" fill="#f69eb0" stroke="#ec3c62" stroke-width="0.85"/>
<circle cx="322.15" cy="90.97" r="0.55" fill="#ec3c62" stroke="none" stroke-width="0"/>
<circle cx="325.3" cy="90.51" r="1.85" fill="#f69eb0" stroke="#ec3c62" stroke-width="0.85"/>
<circle cx="325.3" cy="90.51" r="0.55" fill="#ec3c62" stroke="none" stroke-width="0"/>
<circle cx="328.45" cy="89.31" r="1.85" fill="#f69eb0" stroke="#ec3c62" stroke-width="0.85"/>
<circle cx="328.45" cy="89.31" r="0.55" fill="#ec3c62" stroke="none" stroke-width="0"/>
<circle cx="331.6" cy="88.6" r="1.85" fill="#f69eb0" stroke="#ec3c62" stroke-width="0.85"/>
<circle cx="331.6" cy="88.6" r="0.55" fill="#ec3c62" stroke="none" stroke-width="0"/>
<circle cx="337.9" cy="86.44" r="1.85" fill="#f69eb0" stroke="#ec3c62" stroke-width="0.85"/>
<circle cx="337.9" cy="86.44" r="0.55" fill="#ec3c62" stroke="none" stroke-width="0"/>
<circle cx="344.2" cy="84.73" r="1.85" fill="#f69eb0" stroke="#ec3c62" stroke-width="0.85"/>
<circle cx="344.2" cy="84.73" r="0.55" fill="#ec3c62" stroke="none" stroke-width="0"/>
<circle cx="350.5" cy="83.62" r="1.85" fill="#f69eb0" stroke="#ec3c62" stroke-width="0.85"/>
<circle cx="350.5" cy="83.62" r="0.55" fill="#ec3c62" stroke="none" stroke-width="0"/>
<circle cx="356.8" cy="83.01" r="1.85" fill="#f69eb0" stroke="#ec3c62" stroke-width="0.85"/>
<circle cx="356.8" cy="83.01" r="0.55" fill="#ec3c62" stroke="none" stroke-width="0"/>
<circle cx="363.1" cy="81.23" r="1.85" fill="#f69eb0" stroke="#ec3c62" stroke-width="0.85"/>
<circle cx="363.1" cy="81.23" r="0.55" fill="#ec3c62" stroke="none" stroke-width="0"/>
<circle cx="369.4" cy="80.32" r="1.85" fill="#f69eb0" stroke="#ec3c62" stroke-width="0.85"/>
<circle cx="369.4" cy="80.32" r="0.55" fill="#ec3c62" stroke="none" stroke-width="0"/>
<path d="M300.00 112.00 L301.46 98.77 L302.92 94.23 L304.38 89.87 L305.85 86.12 L307.31 83.21 L308.77 80.83 L310.23 78.82 L311.69 77.03 L313.15 75.54 L314.62 74.39 L316.08 73.39 L317.54 72.52 L319.00 71.74 L320.46 71.05 L321.92 70.41 L323.38 69.81 L324.85 69.25 L326.31 68.75 L327.77 68.29 L329.23 67.89 L330.69 67.54 L332.15 67.22 L333.62 66.91 L335.08 66.63 L336.54 66.37 L338.00 66.13 L339.46 65.90 L340.92 65.69 L342.38 65.49 L343.85 65.30 L345.31 65.12 L346.77 64.94 L348.23 64.77 L349.69 64.61 L351.15 64.47 L352.62 64.33 L354.08 64.21 L355.54 64.10 L357.00 64.00" fill="none" stroke="#7a1020" stroke-width="1.2"/>
<line x1="309.55" y1="77.12" x2="309.55" y2="83.52" stroke="#8c1626" stroke-width="0.8" />
<line x1="307.65" y1="77.12" x2="311.45" y2="77.12" stroke="#8c1626" stroke-width="0.8" />
<line x1="307.65" y1="83.52" x2="311.45" y2="83.52" stroke="#8c1626" stroke-width="0.8" />
<line x1="312.7" y1="72.29" x2="312.7" y2="78.69" stroke="#8c1626" stroke-width="0.8" />
<line x1="310.8" y1="72.29" x2="314.6" y2="72.29" stroke="#8c1626" stroke-width="0.8" />
<line x1="310.8" y1="78.69" x2="314.6" y2="78.69" stroke="#8c1626" stroke-width="0.8" />
<line x1="315.85" y1="69.64" x2="315.85" y2="76.04" stroke="#8c1626" stroke-width="0.8" />
<line x1="313.95" y1="69.64" x2="317.75" y2="69.64" stroke="#8c1626" stroke-width="0.8" />
<line x1="313.95" y1="76.04" x2="317.75" y2="76.04" stroke="#8c1626" stroke-width="0.8" />
<line x1="319" y1="69.16" x2="319" y2="75.56" stroke="#8c1626" stroke-width="0.8" />
<line x1="317.1" y1="69.16" x2="320.9" y2="69.16" stroke="#8c1626" stroke-width="0.8" />
<line x1="317.1" y1="75.56" x2="320.9" y2="75.56" stroke="#8c1626" stroke-width="0.8" />
<line x1="322.15" y1="67.64" x2="322.15" y2="74.04" stroke="#8c1626" stroke-width="0.8" />
<line x1="320.25" y1="67.64" x2="324.05" y2="67.64" stroke="#8c1626" stroke-width="0.8" />
<line x1="320.25" y1="74.04" x2="324.05" y2="74.04" stroke="#8c1626" stroke-width="0.8" />
<line x1="325.3" y1="66.57" x2="325.3" y2="72.97" stroke="#8c1626" stroke-width="0.8" />
<line x1="323.4" y1="66.57" x2="327.2" y2="66.57" stroke="#8c1626" stroke-width="0.8" />
<line x1="323.4" y1="72.97" x2="327.2" y2="72.97" stroke="#8c1626" stroke-width="0.8" />
<line x1="328.45" y1="64.81" x2="328.45" y2="71.21" stroke="#8c1626" stroke-width="0.8" />
<line x1="326.55" y1="64.81" x2="330.35" y2="64.81" stroke="#8c1626" stroke-width="0.8" />
<line x1="326.55" y1="71.21" x2="330.35" y2="71.21" stroke="#8c1626" stroke-width="0.8" />
<line x1="331.6" y1="64.77" x2="331.6" y2="71.17" stroke="#8c1626" stroke-width="0.8" />
<line x1="329.7" y1="64.77" x2="333.5" y2="64.77" stroke="#8c1626" stroke-width="0.8" />
<line x1="329.7" y1="71.17" x2="333.5" y2="71.17" stroke="#8c1626" stroke-width="0.8" />
<line x1="334.75" y1="64.09" x2="334.75" y2="70.49" stroke="#8c1626" stroke-width="0.8" />
<line x1="332.85" y1="64.09" x2="336.65" y2="64.09" stroke="#8c1626" stroke-width="0.8" />
<line x1="332.85" y1="70.49" x2="336.65" y2="70.49" stroke="#8c1626" stroke-width="0.8" />
<line x1="337.9" y1="62.55" x2="337.9" y2="68.95" stroke="#8c1626" stroke-width="0.8" />
<line x1="336" y1="62.55" x2="339.8" y2="62.55" stroke="#8c1626" stroke-width="0.8" />
<line x1="336" y1="68.95" x2="339.8" y2="68.95" stroke="#8c1626" stroke-width="0.8" />
<line x1="341.05" y1="62.81" x2="341.05" y2="69.21" stroke="#8c1626" stroke-width="0.8" />
<line x1="339.15" y1="62.81" x2="342.95" y2="62.81" stroke="#8c1626" stroke-width="0.8" />
<line x1="339.15" y1="69.21" x2="342.95" y2="69.21" stroke="#8c1626" stroke-width="0.8" />
<line x1="344.2" y1="62.53" x2="344.2" y2="68.93" stroke="#8c1626" stroke-width="0.8" />
<line x1="342.3" y1="62.53" x2="346.1" y2="62.53" stroke="#8c1626" stroke-width="0.8" />
<line x1="342.3" y1="68.93" x2="346.1" y2="68.93" stroke="#8c1626" stroke-width="0.8" />
<line x1="347.35" y1="61.9" x2="347.35" y2="68.3" stroke="#8c1626" stroke-width="0.8" />
<line x1="345.45" y1="61.9" x2="349.25" y2="61.9" stroke="#8c1626" stroke-width="0.8" />
<line x1="345.45" y1="68.3" x2="349.25" y2="68.3" stroke="#8c1626" stroke-width="0.8" />
<line x1="350.5" y1="61.36" x2="350.5" y2="67.76" stroke="#8c1626" stroke-width="0.8" />
<line x1="348.6" y1="61.36" x2="352.4" y2="61.36" stroke="#8c1626" stroke-width="0.8" />
<line x1="348.6" y1="67.76" x2="352.4" y2="67.76" stroke="#8c1626" stroke-width="0.8" />
<line x1="353.65" y1="60.74" x2="353.65" y2="67.14" stroke="#8c1626" stroke-width="0.8" />
<line x1="351.75" y1="60.74" x2="355.55" y2="60.74" stroke="#8c1626" stroke-width="0.8" />
<line x1="351.75" y1="67.14" x2="355.55" y2="67.14" stroke="#8c1626" stroke-width="0.8" />
<line x1="356.8" y1="60.59" x2="356.8" y2="66.99" stroke="#8c1626" stroke-width="0.8" />
<line x1="354.9" y1="60.59" x2="358.7" y2="60.59" stroke="#8c1626" stroke-width="0.8" />
<line x1="354.9" y1="66.99" x2="358.7" y2="66.99" stroke="#8c1626" stroke-width="0.8" />
<circle cx="300.1" cy="110.62" r="1.85" fill="#c07f88" stroke="#8c1626" stroke-width="0.85"/>
<circle cx="300.1" cy="110.62" r="0.55" fill="#8c1626" stroke="none" stroke-width="0"/>
<circle cx="303.25" cy="93.13" r="1.85" fill="#c07f88" stroke="#8c1626" stroke-width="0.85"/>
<circle cx="303.25" cy="93.13" r="0.55" fill="#8c1626" stroke="none" stroke-width="0"/>
<circle cx="306.4" cy="84.82" r="1.85" fill="#c07f88" stroke="#8c1626" stroke-width="0.85"/>
<circle cx="306.4" cy="84.82" r="0.55" fill="#8c1626" stroke="none" stroke-width="0"/>
<circle cx="309.55" cy="80.32" r="1.85" fill="#c07f88" stroke="#8c1626" stroke-width="0.85"/>
<circle cx="309.55" cy="80.32" r="0.55" fill="#8c1626" stroke="none" stroke-width="0"/>
<circle cx="312.7" cy="75.49" r="1.85" fill="#c07f88" stroke="#8c1626" stroke-width="0.85"/>
<circle cx="312.7" cy="75.49" r="0.55" fill="#8c1626" stroke="none" stroke-width="0"/>
<circle cx="315.85" cy="72.84" r="1.85" fill="#c07f88" stroke="#8c1626" stroke-width="0.85"/>
<circle cx="315.85" cy="72.84" r="0.55" fill="#8c1626" stroke="none" stroke-width="0"/>
<circle cx="319" cy="72.36" r="1.85" fill="#c07f88" stroke="#8c1626" stroke-width="0.85"/>
<circle cx="319" cy="72.36" r="0.55" fill="#8c1626" stroke="none" stroke-width="0"/>
<circle cx="322.15" cy="70.84" r="1.85" fill="#c07f88" stroke="#8c1626" stroke-width="0.85"/>
<circle cx="322.15" cy="70.84" r="0.55" fill="#8c1626" stroke="none" stroke-width="0"/>
<circle cx="325.3" cy="69.77" r="1.85" fill="#c07f88" stroke="#8c1626" stroke-width="0.85"/>
<circle cx="325.3" cy="69.77" r="0.55" fill="#8c1626" stroke="none" stroke-width="0"/>
<circle cx="328.45" cy="68.01" r="1.85" fill="#c07f88" stroke="#8c1626" stroke-width="0.85"/>
<circle cx="328.45" cy="68.01" r="0.55" fill="#8c1626" stroke="none" stroke-width="0"/>
<circle cx="331.6" cy="67.97" r="1.85" fill="#c07f88" stroke="#8c1626" stroke-width="0.85"/>
<circle cx="331.6" cy="67.97" r="0.55" fill="#8c1626" stroke="none" stroke-width="0"/>
<circle cx="334.75" cy="67.29" r="1.85" fill="#c07f88" stroke="#8c1626" stroke-width="0.85"/>
<circle cx="334.75" cy="67.29" r="0.55" fill="#8c1626" stroke="none" stroke-width="0"/>
<circle cx="337.9" cy="65.75" r="1.85" fill="#c07f88" stroke="#8c1626" stroke-width="0.85"/>
<circle cx="337.9" cy="65.75" r="0.55" fill="#8c1626" stroke="none" stroke-width="0"/>
<circle cx="341.05" cy="66.01" r="1.85" fill="#c07f88" stroke="#8c1626" stroke-width="0.85"/>
<circle cx="341.05" cy="66.01" r="0.55" fill="#8c1626" stroke="none" stroke-width="0"/>
<circle cx="344.2" cy="65.73" r="1.85" fill="#c07f88" stroke="#8c1626" stroke-width="0.85"/>
<circle cx="344.2" cy="65.73" r="0.55" fill="#8c1626" stroke="none" stroke-width="0"/>
<circle cx="347.35" cy="65.1" r="1.85" fill="#c07f88" stroke="#8c1626" stroke-width="0.85"/>
<circle cx="347.35" cy="65.1" r="0.55" fill="#8c1626" stroke="none" stroke-width="0"/>
<circle cx="350.5" cy="64.56" r="1.85" fill="#c07f88" stroke="#8c1626" stroke-width="0.85"/>
<circle cx="350.5" cy="64.56" r="0.55" fill="#8c1626" stroke="none" stroke-width="0"/>
<circle cx="353.65" cy="63.94" r="1.85" fill="#c07f88" stroke="#8c1626" stroke-width="0.85"/>
<circle cx="353.65" cy="63.94" r="0.55" fill="#8c1626" stroke="none" stroke-width="0"/>
<circle cx="356.8" cy="63.79" r="1.85" fill="#c07f88" stroke="#8c1626" stroke-width="0.85"/>
<circle cx="356.8" cy="63.79" r="0.55" fill="#8c1626" stroke="none" stroke-width="0"/>
<path d="M300.00 112.00 L301.46 102.00 L302.92 98.20 L304.38 94.22 L305.85 90.61 L307.31 87.74 L308.77 85.33 L310.23 83.32 L311.69 81.53 L313.15 80.04 L314.62 78.89 L316.08 77.90 L317.54 77.03 L319.00 76.25 L320.46 75.55 L321.92 74.90 L323.38 74.29 L324.85 73.72 L326.31 73.20 L327.77 72.73 L329.23 72.30 L330.69 71.91 L332.15 71.54 L333.62 71.18 L335.08 70.85 L336.54 70.53 L338.00 70.25 L339.46 69.99 L340.92 69.77 L342.38 69.59 L343.85 69.43 L345.31 69.27 L346.77 69.12 L348.23 68.98 L349.69 68.85 L351.15 68.74 L352.62 68.64 L354.08 68.57 L355.54 68.52 L357.00 68.50" fill="none" stroke="#e01a28" stroke-width="1.2"/>
<line x1="309.55" y1="80.94" x2="309.55" y2="86.94" stroke="#e41418" stroke-width="0.8" />
<line x1="307.65" y1="80.94" x2="311.45" y2="80.94" stroke="#e41418" stroke-width="0.8" />
<line x1="307.65" y1="86.94" x2="311.45" y2="86.94" stroke="#e41418" stroke-width="0.8" />
<line x1="312.7" y1="77.9" x2="312.7" y2="83.9" stroke="#e41418" stroke-width="0.8" />
<line x1="310.8" y1="77.9" x2="314.6" y2="77.9" stroke="#e41418" stroke-width="0.8" />
<line x1="310.8" y1="83.9" x2="314.6" y2="83.9" stroke="#e41418" stroke-width="0.8" />
<line x1="315.85" y1="74.4" x2="315.85" y2="80.4" stroke="#e41418" stroke-width="0.8" />
<line x1="313.95" y1="74.4" x2="317.75" y2="74.4" stroke="#e41418" stroke-width="0.8" />
<line x1="313.95" y1="80.4" x2="317.75" y2="80.4" stroke="#e41418" stroke-width="0.8" />
<line x1="319" y1="73.82" x2="319" y2="79.82" stroke="#e41418" stroke-width="0.8" />
<line x1="317.1" y1="73.82" x2="320.9" y2="73.82" stroke="#e41418" stroke-width="0.8" />
<line x1="317.1" y1="79.82" x2="320.9" y2="79.82" stroke="#e41418" stroke-width="0.8" />
<line x1="322.15" y1="72.08" x2="322.15" y2="78.08" stroke="#e41418" stroke-width="0.8" />
<line x1="320.25" y1="72.08" x2="324.05" y2="72.08" stroke="#e41418" stroke-width="0.8" />
<line x1="320.25" y1="78.08" x2="324.05" y2="78.08" stroke="#e41418" stroke-width="0.8" />
<line x1="325.3" y1="71.15" x2="325.3" y2="77.15" stroke="#e41418" stroke-width="0.8" />
<line x1="323.4" y1="71.15" x2="327.2" y2="71.15" stroke="#e41418" stroke-width="0.8" />
<line x1="323.4" y1="77.15" x2="327.2" y2="77.15" stroke="#e41418" stroke-width="0.8" />
<line x1="328.45" y1="70.08" x2="328.45" y2="76.08" stroke="#e41418" stroke-width="0.8" />
<line x1="326.55" y1="70.08" x2="330.35" y2="70.08" stroke="#e41418" stroke-width="0.8" />
<line x1="326.55" y1="76.08" x2="330.35" y2="76.08" stroke="#e41418" stroke-width="0.8" />
<line x1="331.6" y1="69.24" x2="331.6" y2="75.24" stroke="#e41418" stroke-width="0.8" />
<line x1="329.7" y1="69.24" x2="333.5" y2="69.24" stroke="#e41418" stroke-width="0.8" />
<line x1="329.7" y1="75.24" x2="333.5" y2="75.24" stroke="#e41418" stroke-width="0.8" />
<line x1="334.75" y1="68.03" x2="334.75" y2="74.03" stroke="#e41418" stroke-width="0.8" />
<line x1="332.85" y1="68.03" x2="336.65" y2="68.03" stroke="#e41418" stroke-width="0.8" />
<line x1="332.85" y1="74.03" x2="336.65" y2="74.03" stroke="#e41418" stroke-width="0.8" />
<line x1="337.9" y1="66.58" x2="337.9" y2="72.58" stroke="#e41418" stroke-width="0.8" />
<line x1="336" y1="66.58" x2="339.8" y2="66.58" stroke="#e41418" stroke-width="0.8" />
<line x1="336" y1="72.58" x2="339.8" y2="72.58" stroke="#e41418" stroke-width="0.8" />
<line x1="341.05" y1="67.1" x2="341.05" y2="73.1" stroke="#e41418" stroke-width="0.8" />
<line x1="339.15" y1="67.1" x2="342.95" y2="67.1" stroke="#e41418" stroke-width="0.8" />
<line x1="339.15" y1="73.1" x2="342.95" y2="73.1" stroke="#e41418" stroke-width="0.8" />
<line x1="344.2" y1="65.93" x2="344.2" y2="71.93" stroke="#e41418" stroke-width="0.8" />
<line x1="342.3" y1="65.93" x2="346.1" y2="65.93" stroke="#e41418" stroke-width="0.8" />
<line x1="342.3" y1="71.93" x2="346.1" y2="71.93" stroke="#e41418" stroke-width="0.8" />
<line x1="347.35" y1="65.78" x2="347.35" y2="71.78" stroke="#e41418" stroke-width="0.8" />
<line x1="345.45" y1="65.78" x2="349.25" y2="65.78" stroke="#e41418" stroke-width="0.8" />
<line x1="345.45" y1="71.78" x2="349.25" y2="71.78" stroke="#e41418" stroke-width="0.8" />
<line x1="350.5" y1="66.02" x2="350.5" y2="72.02" stroke="#e41418" stroke-width="0.8" />
<line x1="348.6" y1="66.02" x2="352.4" y2="66.02" stroke="#e41418" stroke-width="0.8" />
<line x1="348.6" y1="72.02" x2="352.4" y2="72.02" stroke="#e41418" stroke-width="0.8" />
<line x1="353.65" y1="65.63" x2="353.65" y2="71.63" stroke="#e41418" stroke-width="0.8" />
<line x1="351.75" y1="65.63" x2="355.55" y2="65.63" stroke="#e41418" stroke-width="0.8" />
<line x1="351.75" y1="71.63" x2="355.55" y2="71.63" stroke="#e41418" stroke-width="0.8" />
<line x1="356.8" y1="65.38" x2="356.8" y2="71.38" stroke="#e41418" stroke-width="0.8" />
<line x1="354.9" y1="65.38" x2="358.7" y2="65.38" stroke="#e41418" stroke-width="0.8" />
<line x1="354.9" y1="71.38" x2="358.7" y2="71.38" stroke="#e41418" stroke-width="0.8" />
<circle cx="300.1" cy="110.68" r="1.85" fill="#f07e80" stroke="#e41418" stroke-width="0.85"/>
<circle cx="300.1" cy="110.68" r="0.55" fill="#e41418" stroke="none" stroke-width="0"/>
<circle cx="303.25" cy="96.72" r="1.85" fill="#f07e80" stroke="#e41418" stroke-width="0.85"/>
<circle cx="303.25" cy="96.72" r="0.55" fill="#e41418" stroke="none" stroke-width="0"/>
<circle cx="306.4" cy="89.59" r="1.85" fill="#f07e80" stroke="#e41418" stroke-width="0.85"/>
<circle cx="306.4" cy="89.59" r="0.55" fill="#e41418" stroke="none" stroke-width="0"/>
<circle cx="309.55" cy="83.94" r="1.85" fill="#f07e80" stroke="#e41418" stroke-width="0.85"/>
<circle cx="309.55" cy="83.94" r="0.55" fill="#e41418" stroke="none" stroke-width="0"/>
<circle cx="312.7" cy="80.9" r="1.85" fill="#f07e80" stroke="#e41418" stroke-width="0.85"/>
<circle cx="312.7" cy="80.9" r="0.55" fill="#e41418" stroke="none" stroke-width="0"/>
<circle cx="315.85" cy="77.4" r="1.85" fill="#f07e80" stroke="#e41418" stroke-width="0.85"/>
<circle cx="315.85" cy="77.4" r="0.55" fill="#e41418" stroke="none" stroke-width="0"/>
<circle cx="319" cy="76.82" r="1.85" fill="#f07e80" stroke="#e41418" stroke-width="0.85"/>
<circle cx="319" cy="76.82" r="0.55" fill="#e41418" stroke="none" stroke-width="0"/>
<circle cx="322.15" cy="75.08" r="1.85" fill="#f07e80" stroke="#e41418" stroke-width="0.85"/>
<circle cx="322.15" cy="75.08" r="0.55" fill="#e41418" stroke="none" stroke-width="0"/>
<circle cx="325.3" cy="74.15" r="1.85" fill="#f07e80" stroke="#e41418" stroke-width="0.85"/>
<circle cx="325.3" cy="74.15" r="0.55" fill="#e41418" stroke="none" stroke-width="0"/>
<circle cx="328.45" cy="73.08" r="1.85" fill="#f07e80" stroke="#e41418" stroke-width="0.85"/>
<circle cx="328.45" cy="73.08" r="0.55" fill="#e41418" stroke="none" stroke-width="0"/>
<circle cx="331.6" cy="72.24" r="1.85" fill="#f07e80" stroke="#e41418" stroke-width="0.85"/>
<circle cx="331.6" cy="72.24" r="0.55" fill="#e41418" stroke="none" stroke-width="0"/>
<circle cx="334.75" cy="71.03" r="1.85" fill="#f07e80" stroke="#e41418" stroke-width="0.85"/>
<circle cx="334.75" cy="71.03" r="0.55" fill="#e41418" stroke="none" stroke-width="0"/>
<circle cx="337.9" cy="69.58" r="1.85" fill="#f07e80" stroke="#e41418" stroke-width="0.85"/>
<circle cx="337.9" cy="69.58" r="0.55" fill="#e41418" stroke="none" stroke-width="0"/>
<circle cx="341.05" cy="70.1" r="1.85" fill="#f07e80" stroke="#e41418" stroke-width="0.85"/>
<circle cx="341.05" cy="70.1" r="0.55" fill="#e41418" stroke="none" stroke-width="0"/>
<circle cx="344.2" cy="68.93" r="1.85" fill="#f07e80" stroke="#e41418" stroke-width="0.85"/>
<circle cx="344.2" cy="68.93" r="0.55" fill="#e41418" stroke="none" stroke-width="0"/>
<circle cx="347.35" cy="68.78" r="1.85" fill="#f07e80" stroke="#e41418" stroke-width="0.85"/>
<circle cx="347.35" cy="68.78" r="0.55" fill="#e41418" stroke="none" stroke-width="0"/>
<circle cx="350.5" cy="69.02" r="1.85" fill="#f07e80" stroke="#e41418" stroke-width="0.85"/>
<circle cx="350.5" cy="69.02" r="0.55" fill="#e41418" stroke="none" stroke-width="0"/>
<circle cx="353.65" cy="68.63" r="1.85" fill="#f07e80" stroke="#e41418" stroke-width="0.85"/>
<circle cx="353.65" cy="68.63" r="0.55" fill="#e41418" stroke="none" stroke-width="0"/>
<circle cx="356.8" cy="68.38" r="1.85" fill="#f07e80" stroke="#e41418" stroke-width="0.85"/>
<circle cx="356.8" cy="68.38" r="0.55" fill="#e41418" stroke="none" stroke-width="0"/>
<path d="M426.50 110.50 L428.71 110.42 L430.92 110.19 L433.12 109.83 L435.33 109.35 L437.54 108.76 L439.75 108.08 L441.95 106.89 L444.16 104.81 L446.37 102.32 L448.58 99.88 L450.78 97.36 L452.99 94.64 L455.20 91.73 L457.41 88.52 L459.62 85.11 L461.82 81.77 L464.03 78.45 L466.24 75.23 L468.45 72.11 L470.65 69.14 L472.86 66.52 L475.07 64.12 L477.28 62.06 L479.48 60.43 L481.69 58.94 L483.90 57.74 L486.11 56.98 L488.32 56.50 L490.52 56.11 L492.73 55.84 L494.94 55.70 L497.15 55.65 L499.35 55.61 L501.56 55.58 L503.77 55.55 L505.98 55.53 L508.18 55.51 L510.39 55.50 L512.60 55.50" fill="none" stroke="#cde44a" stroke-width="1.1"/>
<line x1="472.48" y1="60.5" x2="472.48" y2="68.5" stroke="#c8e03a" stroke-width="0.8" />
<line x1="470.58" y1="60.5" x2="474.38" y2="60.5" stroke="#c8e03a" stroke-width="0.8" />
<line x1="470.58" y1="68.5" x2="474.38" y2="68.5" stroke="#c8e03a" stroke-width="0.8" />
<line x1="478.23" y1="50" x2="478.23" y2="58" stroke="#c8e03a" stroke-width="0.8" />
<line x1="476.33" y1="50" x2="480.13" y2="50" stroke="#c8e03a" stroke-width="0.8" />
<line x1="476.33" y1="58" x2="480.13" y2="58" stroke="#c8e03a" stroke-width="0.8" />
<line x1="486.85" y1="44.5" x2="486.85" y2="54.5" stroke="#c8e03a" stroke-width="0.8" />
<line x1="484.95" y1="44.5" x2="488.75" y2="44.5" stroke="#c8e03a" stroke-width="0.8" />
<line x1="484.95" y1="54.5" x2="488.75" y2="54.5" stroke="#c8e03a" stroke-width="0.8" />
<line x1="495.48" y1="50" x2="495.48" y2="60" stroke="#c8e03a" stroke-width="0.8" />
<line x1="493.58" y1="50" x2="497.38" y2="50" stroke="#c8e03a" stroke-width="0.8" />
<line x1="493.58" y1="60" x2="497.38" y2="60" stroke="#c8e03a" stroke-width="0.8" />
<line x1="504.1" y1="52.5" x2="504.1" y2="60.5" stroke="#c8e03a" stroke-width="0.8" />
<line x1="502.2" y1="52.5" x2="506" y2="52.5" stroke="#c8e03a" stroke-width="0.8" />
<line x1="502.2" y1="60.5" x2="506" y2="60.5" stroke="#c8e03a" stroke-width="0.8" />
<line x1="512.72" y1="52.5" x2="512.72" y2="60.5" stroke="#c8e03a" stroke-width="0.8" />
<line x1="510.82" y1="52.5" x2="514.62" y2="52.5" stroke="#c8e03a" stroke-width="0.8" />
<line x1="510.82" y1="60.5" x2="514.62" y2="60.5" stroke="#c8e03a" stroke-width="0.8" />
<circle cx="426.5" cy="110.5" r="1.85" fill="#e4f09c" stroke="#c8e03a" stroke-width="0.85"/>
<circle cx="426.5" cy="110.5" r="0.55" fill="#c8e03a" stroke="none" stroke-width="0"/>
<circle cx="429.37" cy="110" r="1.85" fill="#e4f09c" stroke="#c8e03a" stroke-width="0.85"/>
<circle cx="429.37" cy="110" r="0.55" fill="#c8e03a" stroke="none" stroke-width="0"/>
<circle cx="432.25" cy="110.5" r="1.85" fill="#e4f09c" stroke="#c8e03a" stroke-width="0.85"/>
<circle cx="432.25" cy="110.5" r="0.55" fill="#c8e03a" stroke="none" stroke-width="0"/>
<circle cx="438" cy="108.5" r="1.85" fill="#e4f09c" stroke="#c8e03a" stroke-width="0.85"/>
<circle cx="438" cy="108.5" r="0.55" fill="#c8e03a" stroke="none" stroke-width="0"/>
<circle cx="443.74" cy="105.5" r="1.85" fill="#e4f09c" stroke="#c8e03a" stroke-width="0.85"/>
<circle cx="443.74" cy="105.5" r="0.55" fill="#c8e03a" stroke="none" stroke-width="0"/>
<circle cx="449.49" cy="99" r="1.85" fill="#e4f09c" stroke="#c8e03a" stroke-width="0.85"/>
<circle cx="449.49" cy="99" r="0.55" fill="#c8e03a" stroke="none" stroke-width="0"/>
<circle cx="455.24" cy="91.5" r="1.85" fill="#e4f09c" stroke="#c8e03a" stroke-width="0.85"/>
<circle cx="455.24" cy="91.5" r="0.55" fill="#c8e03a" stroke="none" stroke-width="0"/>
<circle cx="460.99" cy="83.8" r="1.85" fill="#e4f09c" stroke="#c8e03a" stroke-width="0.85"/>
<circle cx="460.99" cy="83.8" r="0.55" fill="#c8e03a" stroke="none" stroke-width="0"/>
<circle cx="466.74" cy="72" r="1.85" fill="#e4f09c" stroke="#c8e03a" stroke-width="0.85"/>
<circle cx="466.74" cy="72" r="0.55" fill="#c8e03a" stroke="none" stroke-width="0"/>
<circle cx="472.48" cy="64.5" r="1.85" fill="#e4f09c" stroke="#c8e03a" stroke-width="0.85"/>
<circle cx="472.48" cy="64.5" r="0.55" fill="#c8e03a" stroke="none" stroke-width="0"/>
<circle cx="478.23" cy="54" r="1.85" fill="#e4f09c" stroke="#c8e03a" stroke-width="0.85"/>
<circle cx="478.23" cy="54" r="0.55" fill="#c8e03a" stroke="none" stroke-width="0"/>
<circle cx="486.85" cy="49.5" r="1.85" fill="#e4f09c" stroke="#c8e03a" stroke-width="0.85"/>
<circle cx="486.85" cy="49.5" r="0.55" fill="#c8e03a" stroke="none" stroke-width="0"/>
<circle cx="495.48" cy="55" r="1.85" fill="#e4f09c" stroke="#c8e03a" stroke-width="0.85"/>
<circle cx="495.48" cy="55" r="0.55" fill="#c8e03a" stroke="none" stroke-width="0"/>
<circle cx="504.1" cy="56.5" r="1.85" fill="#e4f09c" stroke="#c8e03a" stroke-width="0.85"/>
<circle cx="504.1" cy="56.5" r="0.55" fill="#c8e03a" stroke="none" stroke-width="0"/>
<circle cx="512.72" cy="56.5" r="1.85" fill="#e4f09c" stroke="#c8e03a" stroke-width="0.85"/>
<circle cx="512.72" cy="56.5" r="0.55" fill="#c8e03a" stroke="none" stroke-width="0"/>
<path d="M426.50 111.00 L428.71 110.96 L430.92 110.83 L433.12 110.63 L435.33 110.34 L437.54 109.98 L439.75 109.55 L441.95 108.46 L444.16 106.19 L446.37 103.44 L448.58 100.86 L450.78 98.25 L452.99 95.50 L455.20 92.75 L457.41 90.04 L459.62 87.29 L461.82 84.39 L464.03 81.28 L466.24 78.21 L468.45 75.37 L470.65 72.63 L472.86 69.93 L475.07 67.13 L477.28 64.65 L479.48 62.79 L481.69 61.15 L483.90 59.82 L486.11 58.97 L488.32 58.41 L490.52 57.95 L492.73 57.62 L494.94 57.50 L497.15 57.50 L499.35 57.50 L501.56 57.50 L503.77 57.50 L505.98 57.50 L508.18 57.50 L510.39 57.50 L512.60 57.50" fill="none" stroke="#b4cf3a" stroke-width="1.1"/>
<line x1="472.48" y1="66.47" x2="472.48" y2="74.47" stroke="#b0cc2c" stroke-width="0.8" />
<line x1="470.58" y1="66.47" x2="474.38" y2="66.47" stroke="#b0cc2c" stroke-width="0.8" />
<line x1="470.58" y1="74.47" x2="474.38" y2="74.47" stroke="#b0cc2c" stroke-width="0.8" />
<line x1="478.23" y1="60.38" x2="478.23" y2="68.38" stroke="#b0cc2c" stroke-width="0.8" />
<line x1="476.33" y1="60.38" x2="480.13" y2="60.38" stroke="#b0cc2c" stroke-width="0.8" />
<line x1="476.33" y1="68.38" x2="480.13" y2="68.38" stroke="#b0cc2c" stroke-width="0.8" />
<line x1="486.85" y1="53.18" x2="486.85" y2="63.18" stroke="#b0cc2c" stroke-width="0.8" />
<line x1="484.95" y1="53.18" x2="488.75" y2="53.18" stroke="#b0cc2c" stroke-width="0.8" />
<line x1="484.95" y1="63.18" x2="488.75" y2="63.18" stroke="#b0cc2c" stroke-width="0.8" />
<line x1="495.48" y1="53.03" x2="495.48" y2="63.03" stroke="#b0cc2c" stroke-width="0.8" />
<line x1="493.58" y1="53.03" x2="497.38" y2="53.03" stroke="#b0cc2c" stroke-width="0.8" />
<line x1="493.58" y1="63.03" x2="497.38" y2="63.03" stroke="#b0cc2c" stroke-width="0.8" />
<line x1="504.1" y1="54.26" x2="504.1" y2="62.26" stroke="#b0cc2c" stroke-width="0.8" />
<line x1="502.2" y1="54.26" x2="506" y2="54.26" stroke="#b0cc2c" stroke-width="0.8" />
<line x1="502.2" y1="62.26" x2="506" y2="62.26" stroke="#b0cc2c" stroke-width="0.8" />
<line x1="512.72" y1="54.05" x2="512.72" y2="62.05" stroke="#b0cc2c" stroke-width="0.8" />
<line x1="510.82" y1="54.05" x2="514.62" y2="54.05" stroke="#b0cc2c" stroke-width="0.8" />
<line x1="510.82" y1="62.05" x2="514.62" y2="62.05" stroke="#b0cc2c" stroke-width="0.8" />
<circle cx="426.5" cy="111.79" r="1.85" fill="#d8e696" stroke="#b0cc2c" stroke-width="0.85"/>
<circle cx="426.5" cy="111.79" r="0.55" fill="#b0cc2c" stroke="none" stroke-width="0"/>
<circle cx="429.37" cy="111.13" r="1.85" fill="#d8e696" stroke="#b0cc2c" stroke-width="0.85"/>
<circle cx="429.37" cy="111.13" r="0.55" fill="#b0cc2c" stroke="none" stroke-width="0"/>
<circle cx="432.25" cy="110.43" r="1.85" fill="#d8e696" stroke="#b0cc2c" stroke-width="0.85"/>
<circle cx="432.25" cy="110.43" r="0.55" fill="#b0cc2c" stroke="none" stroke-width="0"/>
<circle cx="438" cy="109.46" r="1.85" fill="#d8e696" stroke="#b0cc2c" stroke-width="0.85"/>
<circle cx="438" cy="109.46" r="0.55" fill="#b0cc2c" stroke="none" stroke-width="0"/>
<circle cx="443.74" cy="107.33" r="1.85" fill="#d8e696" stroke="#b0cc2c" stroke-width="0.85"/>
<circle cx="443.74" cy="107.33" r="0.55" fill="#b0cc2c" stroke="none" stroke-width="0"/>
<circle cx="449.49" cy="99.76" r="1.85" fill="#d8e696" stroke="#b0cc2c" stroke-width="0.85"/>
<circle cx="449.49" cy="99.76" r="0.55" fill="#b0cc2c" stroke="none" stroke-width="0"/>
<circle cx="455.24" cy="93.21" r="1.85" fill="#d8e696" stroke="#b0cc2c" stroke-width="0.85"/>
<circle cx="455.24" cy="93.21" r="0.55" fill="#b0cc2c" stroke="none" stroke-width="0"/>
<circle cx="460.99" cy="85.25" r="1.85" fill="#d8e696" stroke="#b0cc2c" stroke-width="0.85"/>
<circle cx="460.99" cy="85.25" r="0.55" fill="#b0cc2c" stroke="none" stroke-width="0"/>
<circle cx="466.74" cy="77.01" r="1.85" fill="#d8e696" stroke="#b0cc2c" stroke-width="0.85"/>
<circle cx="466.74" cy="77.01" r="0.55" fill="#b0cc2c" stroke="none" stroke-width="0"/>
<circle cx="472.48" cy="70.47" r="1.85" fill="#d8e696" stroke="#b0cc2c" stroke-width="0.85"/>
<circle cx="472.48" cy="70.47" r="0.55" fill="#b0cc2c" stroke="none" stroke-width="0"/>
<circle cx="478.23" cy="64.38" r="1.85" fill="#d8e696" stroke="#b0cc2c" stroke-width="0.85"/>
<circle cx="478.23" cy="64.38" r="0.55" fill="#b0cc2c" stroke="none" stroke-width="0"/>
<circle cx="486.85" cy="58.18" r="1.85" fill="#d8e696" stroke="#b0cc2c" stroke-width="0.85"/>
<circle cx="486.85" cy="58.18" r="0.55" fill="#b0cc2c" stroke="none" stroke-width="0"/>
<circle cx="495.48" cy="58.03" r="1.85" fill="#d8e696" stroke="#b0cc2c" stroke-width="0.85"/>
<circle cx="495.48" cy="58.03" r="0.55" fill="#b0cc2c" stroke="none" stroke-width="0"/>
<circle cx="504.1" cy="58.26" r="1.85" fill="#d8e696" stroke="#b0cc2c" stroke-width="0.85"/>
<circle cx="504.1" cy="58.26" r="0.55" fill="#b0cc2c" stroke="none" stroke-width="0"/>
<circle cx="512.72" cy="58.05" r="1.85" fill="#d8e696" stroke="#b0cc2c" stroke-width="0.85"/>
<circle cx="512.72" cy="58.05" r="0.55" fill="#b0cc2c" stroke="none" stroke-width="0"/>
<path d="M426.50 111.50 L428.71 111.47 L430.92 111.39 L433.12 111.25 L435.33 111.06 L437.54 110.82 L439.75 110.54 L441.95 109.91 L444.16 108.66 L446.37 107.13 L448.58 105.61 L450.78 104.03 L452.99 102.26 L455.20 100.31 L457.41 98.02 L459.62 95.51 L461.82 93.14 L464.03 90.85 L466.24 88.65 L468.45 86.51 L470.65 84.49 L472.86 82.96 L475.07 81.74 L477.28 80.76 L479.48 80.01 L481.69 79.34 L483.90 78.81 L486.11 78.49 L488.32 78.30 L490.52 78.15 L492.73 78.04 L494.94 78.00 L497.15 78.00 L499.35 78.00 L501.56 78.00 L503.77 78.00 L505.98 78.00 L508.18 78.00 L510.39 78.00 L512.60 78.00" fill="none" stroke="#94ac36" stroke-width="1.1"/>
<line x1="472.48" y1="80.14" x2="472.48" y2="86.14" stroke="#94aa36" stroke-width="0.8" />
<line x1="470.58" y1="80.14" x2="474.38" y2="80.14" stroke="#94aa36" stroke-width="0.8" />
<line x1="470.58" y1="86.14" x2="474.38" y2="86.14" stroke="#94aa36" stroke-width="0.8" />
<line x1="478.23" y1="77.92" x2="478.23" y2="83.92" stroke="#94aa36" stroke-width="0.8" />
<line x1="476.33" y1="77.92" x2="480.13" y2="77.92" stroke="#94aa36" stroke-width="0.8" />
<line x1="476.33" y1="83.92" x2="480.13" y2="83.92" stroke="#94aa36" stroke-width="0.8" />
<line x1="486.85" y1="73.53" x2="486.85" y2="81.53" stroke="#94aa36" stroke-width="0.8" />
<line x1="484.95" y1="73.53" x2="488.75" y2="73.53" stroke="#94aa36" stroke-width="0.8" />
<line x1="484.95" y1="81.53" x2="488.75" y2="81.53" stroke="#94aa36" stroke-width="0.8" />
<line x1="495.48" y1="73.2" x2="495.48" y2="81.2" stroke="#94aa36" stroke-width="0.8" />
<line x1="493.58" y1="73.2" x2="497.38" y2="73.2" stroke="#94aa36" stroke-width="0.8" />
<line x1="493.58" y1="81.2" x2="497.38" y2="81.2" stroke="#94aa36" stroke-width="0.8" />
<line x1="504.1" y1="73.33" x2="504.1" y2="81.33" stroke="#94aa36" stroke-width="0.8" />
<line x1="502.2" y1="73.33" x2="506" y2="73.33" stroke="#94aa36" stroke-width="0.8" />
<line x1="502.2" y1="81.33" x2="506" y2="81.33" stroke="#94aa36" stroke-width="0.8" />
<line x1="512.72" y1="73.32" x2="512.72" y2="81.32" stroke="#94aa36" stroke-width="0.8" />
<line x1="510.82" y1="73.32" x2="514.62" y2="73.32" stroke="#94aa36" stroke-width="0.8" />
<line x1="510.82" y1="81.32" x2="514.62" y2="81.32" stroke="#94aa36" stroke-width="0.8" />
<circle cx="426.5" cy="112.08" r="1.85" fill="#cad49a" stroke="#94aa36" stroke-width="0.85"/>
<circle cx="426.5" cy="112.08" r="0.55" fill="#94aa36" stroke="none" stroke-width="0"/>
<circle cx="429.37" cy="110.56" r="1.85" fill="#cad49a" stroke="#94aa36" stroke-width="0.85"/>
<circle cx="429.37" cy="110.56" r="0.55" fill="#94aa36" stroke="none" stroke-width="0"/>
<circle cx="432.25" cy="111.54" r="1.85" fill="#cad49a" stroke="#94aa36" stroke-width="0.85"/>
<circle cx="432.25" cy="111.54" r="0.55" fill="#94aa36" stroke="none" stroke-width="0"/>
<circle cx="438" cy="111.42" r="1.85" fill="#cad49a" stroke="#94aa36" stroke-width="0.85"/>
<circle cx="438" cy="111.42" r="0.55" fill="#94aa36" stroke="none" stroke-width="0"/>
<circle cx="443.74" cy="108.12" r="1.85" fill="#cad49a" stroke="#94aa36" stroke-width="0.85"/>
<circle cx="443.74" cy="108.12" r="0.55" fill="#94aa36" stroke="none" stroke-width="0"/>
<circle cx="449.49" cy="104.57" r="1.85" fill="#cad49a" stroke="#94aa36" stroke-width="0.85"/>
<circle cx="449.49" cy="104.57" r="0.55" fill="#94aa36" stroke="none" stroke-width="0"/>
<circle cx="455.24" cy="99.86" r="1.85" fill="#cad49a" stroke="#94aa36" stroke-width="0.85"/>
<circle cx="455.24" cy="99.86" r="0.55" fill="#94aa36" stroke="none" stroke-width="0"/>
<circle cx="460.99" cy="94.06" r="1.85" fill="#cad49a" stroke="#94aa36" stroke-width="0.85"/>
<circle cx="460.99" cy="94.06" r="0.55" fill="#94aa36" stroke="none" stroke-width="0"/>
<circle cx="466.74" cy="88.04" r="1.85" fill="#cad49a" stroke="#94aa36" stroke-width="0.85"/>
<circle cx="466.74" cy="88.04" r="0.55" fill="#94aa36" stroke="none" stroke-width="0"/>
<circle cx="472.48" cy="83.14" r="1.85" fill="#cad49a" stroke="#94aa36" stroke-width="0.85"/>
<circle cx="472.48" cy="83.14" r="0.55" fill="#94aa36" stroke="none" stroke-width="0"/>
<circle cx="478.23" cy="80.92" r="1.85" fill="#cad49a" stroke="#94aa36" stroke-width="0.85"/>
<circle cx="478.23" cy="80.92" r="0.55" fill="#94aa36" stroke="none" stroke-width="0"/>
<circle cx="486.85" cy="77.53" r="1.85" fill="#cad49a" stroke="#94aa36" stroke-width="0.85"/>
<circle cx="486.85" cy="77.53" r="0.55" fill="#94aa36" stroke="none" stroke-width="0"/>
<circle cx="495.48" cy="77.2" r="1.85" fill="#cad49a" stroke="#94aa36" stroke-width="0.85"/>
<circle cx="495.48" cy="77.2" r="0.55" fill="#94aa36" stroke="none" stroke-width="0"/>
<circle cx="504.1" cy="77.33" r="1.85" fill="#cad49a" stroke="#94aa36" stroke-width="0.85"/>
<circle cx="504.1" cy="77.33" r="0.55" fill="#94aa36" stroke="none" stroke-width="0"/>
<circle cx="512.72" cy="77.32" r="1.85" fill="#cad49a" stroke="#94aa36" stroke-width="0.85"/>
<circle cx="512.72" cy="77.32" r="0.55" fill="#94aa36" stroke="none" stroke-width="0"/>
<path d="M426.50 111.50 L428.71 111.74 L430.92 111.89 L433.12 111.96 L435.33 111.99 L437.54 112.00 L439.75 111.93 L441.95 111.70 L444.16 111.32 L446.37 110.21 L448.58 108.80 L450.78 107.60 L452.99 106.39 L455.20 104.92 L457.41 102.92 L459.62 100.52 L461.82 98.05 L464.03 95.36 L466.24 92.86 L468.45 90.83 L470.65 89.02 L472.86 87.27 L475.07 85.45 L477.28 83.89 L479.48 82.79 L481.69 81.82 L483.90 81.05 L486.11 80.56 L488.32 80.34 L490.52 80.16 L492.73 80.04 L494.94 80.00 L497.15 80.00 L499.35 80.00 L501.56 80.00 L503.77 80.00 L505.98 80.00 L508.18 80.00 L510.39 80.00 L512.60 80.00" fill="none" stroke="#6e7e2c" stroke-width="1.1"/>
<line x1="472.48" y1="84.8" x2="472.48" y2="90.8" stroke="#66742a" stroke-width="0.8" />
<line x1="470.58" y1="84.8" x2="474.38" y2="84.8" stroke="#66742a" stroke-width="0.8" />
<line x1="470.58" y1="90.8" x2="474.38" y2="90.8" stroke="#66742a" stroke-width="0.8" />
<line x1="478.23" y1="80" x2="478.23" y2="86" stroke="#66742a" stroke-width="0.8" />
<line x1="476.33" y1="80" x2="480.13" y2="80" stroke="#66742a" stroke-width="0.8" />
<line x1="476.33" y1="86" x2="480.13" y2="86" stroke="#66742a" stroke-width="0.8" />
<line x1="486.85" y1="75.3" x2="486.85" y2="81.3" stroke="#66742a" stroke-width="0.8" />
<line x1="484.95" y1="75.3" x2="488.75" y2="75.3" stroke="#66742a" stroke-width="0.8" />
<line x1="484.95" y1="81.3" x2="488.75" y2="81.3" stroke="#66742a" stroke-width="0.8" />
<line x1="495.48" y1="75.3" x2="495.48" y2="81.3" stroke="#66742a" stroke-width="0.8" />
<line x1="493.58" y1="75.3" x2="497.38" y2="75.3" stroke="#66742a" stroke-width="0.8" />
<line x1="493.58" y1="81.3" x2="497.38" y2="81.3" stroke="#66742a" stroke-width="0.8" />
<line x1="504.1" y1="80.4" x2="504.1" y2="86.4" stroke="#66742a" stroke-width="0.8" />
<line x1="502.2" y1="80.4" x2="506" y2="80.4" stroke="#66742a" stroke-width="0.8" />
<line x1="502.2" y1="86.4" x2="506" y2="86.4" stroke="#66742a" stroke-width="0.8" />
<line x1="512.72" y1="77" x2="512.72" y2="83" stroke="#66742a" stroke-width="0.8" />
<line x1="510.82" y1="77" x2="514.62" y2="77" stroke="#66742a" stroke-width="0.8" />
<line x1="510.82" y1="83" x2="514.62" y2="83" stroke="#66742a" stroke-width="0.8" />
<circle cx="426.5" cy="104" r="1.85" fill="#abb38a" stroke="#66742a" stroke-width="0.85"/>
<circle cx="426.5" cy="104" r="0.55" fill="#66742a" stroke="none" stroke-width="0"/>
<circle cx="429.37" cy="111.5" r="1.85" fill="#abb38a" stroke="#66742a" stroke-width="0.85"/>
<circle cx="429.37" cy="111.5" r="0.55" fill="#66742a" stroke="none" stroke-width="0"/>
<circle cx="432.25" cy="112" r="1.85" fill="#abb38a" stroke="#66742a" stroke-width="0.85"/>
<circle cx="432.25" cy="112" r="0.55" fill="#66742a" stroke="none" stroke-width="0"/>
<circle cx="438" cy="112" r="1.85" fill="#abb38a" stroke="#66742a" stroke-width="0.85"/>
<circle cx="438" cy="112" r="0.55" fill="#66742a" stroke="none" stroke-width="0"/>
<circle cx="443.74" cy="112.5" r="1.85" fill="#abb38a" stroke="#66742a" stroke-width="0.85"/>
<circle cx="443.74" cy="112.5" r="0.55" fill="#66742a" stroke="none" stroke-width="0"/>
<circle cx="449.49" cy="108" r="1.85" fill="#abb38a" stroke="#66742a" stroke-width="0.85"/>
<circle cx="449.49" cy="108" r="0.55" fill="#66742a" stroke="none" stroke-width="0"/>
<circle cx="455.24" cy="105.6" r="1.85" fill="#abb38a" stroke="#66742a" stroke-width="0.85"/>
<circle cx="455.24" cy="105.6" r="0.55" fill="#66742a" stroke="none" stroke-width="0"/>
<circle cx="460.99" cy="99.1" r="1.85" fill="#abb38a" stroke="#66742a" stroke-width="0.85"/>
<circle cx="460.99" cy="99.1" r="0.55" fill="#66742a" stroke="none" stroke-width="0"/>
<circle cx="466.74" cy="92.7" r="1.85" fill="#abb38a" stroke="#66742a" stroke-width="0.85"/>
<circle cx="466.74" cy="92.7" r="0.55" fill="#66742a" stroke="none" stroke-width="0"/>
<circle cx="472.48" cy="87.8" r="1.85" fill="#abb38a" stroke="#66742a" stroke-width="0.85"/>
<circle cx="472.48" cy="87.8" r="0.55" fill="#66742a" stroke="none" stroke-width="0"/>
<circle cx="478.23" cy="83" r="1.85" fill="#abb38a" stroke="#66742a" stroke-width="0.85"/>
<circle cx="478.23" cy="83" r="0.55" fill="#66742a" stroke="none" stroke-width="0"/>
<circle cx="486.85" cy="78.3" r="1.85" fill="#abb38a" stroke="#66742a" stroke-width="0.85"/>
<circle cx="486.85" cy="78.3" r="0.55" fill="#66742a" stroke="none" stroke-width="0"/>
<circle cx="495.48" cy="78.3" r="1.85" fill="#abb38a" stroke="#66742a" stroke-width="0.85"/>
<circle cx="495.48" cy="78.3" r="0.55" fill="#66742a" stroke="none" stroke-width="0"/>
<circle cx="504.1" cy="83.4" r="1.85" fill="#abb38a" stroke="#66742a" stroke-width="0.85"/>
<circle cx="504.1" cy="83.4" r="0.55" fill="#66742a" stroke="none" stroke-width="0"/>
<circle cx="512.72" cy="80" r="1.85" fill="#abb38a" stroke="#66742a" stroke-width="0.85"/>
<circle cx="512.72" cy="80" r="0.55" fill="#66742a" stroke="none" stroke-width="0"/>
<path d="M426.50 111.30 L428.71 111.26 L430.92 111.13 L433.12 110.93 L435.33 110.66 L437.54 110.34 L439.75 109.70 L441.95 108.58 L444.16 107.39 L446.37 106.10 L448.58 104.66 L450.78 103.13 L452.99 101.47 L455.20 99.50 L457.41 96.80 L459.62 93.68 L461.82 90.91 L464.03 88.43 L466.24 85.98 L468.45 83.42 L470.65 80.87 L472.86 78.52 L475.07 76.33 L477.28 74.37 L479.48 72.68 L481.69 71.05 L483.90 69.65 L486.11 68.65 L488.32 68.04 L490.52 67.52 L492.73 67.15 L494.94 67.00 L497.15 67.00 L499.35 67.00 L501.56 67.00 L503.77 67.00 L505.98 67.00 L508.18 67.00 L510.39 67.00 L512.60 67.00" fill="none" stroke="#000" stroke-width="1.4"/>
<line x1="478.23" y1="69.9" x2="478.23" y2="75.9" stroke="#000" stroke-width="0.8" />
<line x1="476.33" y1="69.9" x2="480.13" y2="69.9" stroke="#000" stroke-width="0.8" />
<line x1="476.33" y1="75.9" x2="480.13" y2="75.9" stroke="#000" stroke-width="0.8" />
<line x1="486.85" y1="63.3" x2="486.85" y2="69.3" stroke="#000" stroke-width="0.8" />
<line x1="484.95" y1="63.3" x2="488.75" y2="63.3" stroke="#000" stroke-width="0.8" />
<line x1="484.95" y1="69.3" x2="488.75" y2="69.3" stroke="#000" stroke-width="0.8" />
<line x1="495.48" y1="63.3" x2="495.48" y2="69.3" stroke="#000" stroke-width="0.8" />
<line x1="493.58" y1="63.3" x2="497.38" y2="63.3" stroke="#000" stroke-width="0.8" />
<line x1="493.58" y1="69.3" x2="497.38" y2="69.3" stroke="#000" stroke-width="0.8" />
<line x1="504.1" y1="64.4" x2="504.1" y2="70.4" stroke="#000" stroke-width="0.8" />
<line x1="502.2" y1="64.4" x2="506" y2="64.4" stroke="#000" stroke-width="0.8" />
<line x1="502.2" y1="70.4" x2="506" y2="70.4" stroke="#000" stroke-width="0.8" />
<line x1="512.72" y1="65.5" x2="512.72" y2="71.5" stroke="#000" stroke-width="0.8" />
<line x1="510.82" y1="65.5" x2="514.62" y2="65.5" stroke="#000" stroke-width="0.8" />
<line x1="510.82" y1="71.5" x2="514.62" y2="71.5" stroke="#000" stroke-width="0.8" />
<circle cx="426.5" cy="110.8" r="1.85" fill="#fff" stroke="#000" stroke-width="0.85"/>
<circle cx="429.37" cy="111.3" r="1.85" fill="#fff" stroke="#000" stroke-width="0.85"/>
<circle cx="432.25" cy="111.7" r="1.85" fill="#fff" stroke="#000" stroke-width="0.85"/>
<circle cx="438" cy="109.3" r="1.85" fill="#fff" stroke="#000" stroke-width="0.85"/>
<circle cx="443.74" cy="106.9" r="1.85" fill="#fff" stroke="#000" stroke-width="0.85"/>
<circle cx="449.49" cy="104.3" r="1.85" fill="#fff" stroke="#000" stroke-width="0.85"/>
<circle cx="455.24" cy="99.6" r="1.85" fill="#fff" stroke="#000" stroke-width="0.85"/>
<circle cx="460.99" cy="91.4" r="1.85" fill="#fff" stroke="#000" stroke-width="0.85"/>
<circle cx="466.74" cy="86.7" r="1.85" fill="#fff" stroke="#000" stroke-width="0.85"/>
<circle cx="472.48" cy="80.5" r="1.85" fill="#fff" stroke="#000" stroke-width="0.85"/>
<circle cx="478.23" cy="72.9" r="1.85" fill="#fff" stroke="#000" stroke-width="0.85"/>
<circle cx="486.85" cy="66.3" r="1.85" fill="#fff" stroke="#000" stroke-width="0.85"/>
<circle cx="495.48" cy="66.3" r="1.85" fill="#fff" stroke="#000" stroke-width="0.85"/>
<circle cx="504.1" cy="67.4" r="1.85" fill="#fff" stroke="#000" stroke-width="0.85"/>
<circle cx="512.72" cy="68.5" r="1.85" fill="#fff" stroke="#000" stroke-width="0.85"/>
<path d="M557.60 114.75 L559.07 114.73 L560.54 114.71 L562.02 114.68 L563.49 114.65 L564.96 114.60 L566.43 114.53 L567.90 114.45 L569.37 114.34 L570.85 114.19 L572.32 114.00 L573.79 113.75 L575.26 113.42 L576.73 112.99 L578.21 112.43 L579.68 111.71 L581.15 110.78 L582.62 109.60 L584.09 108.11 L585.56 106.25 L587.04 103.97 L588.51 101.23 L589.98 98.03 L591.45 94.37 L592.92 90.31 L594.39 85.99 L595.87 81.54 L597.34 77.13 L598.81 72.92 L600.28 69.06 L601.75 65.62 L603.23 62.64 L604.70 60.14 L606.17 58.08 L607.64 56.41 L609.11 55.08 L610.58 54.03 L612.06 53.21 L613.53 52.57 L615.00 52.08" fill="none" stroke="#2e6a2e" stroke-width="1.2"/>
<line x1="574.35" y1="108.62" x2="574.35" y2="117.62" stroke="#226022" stroke-width="0.8" />
<line x1="572.45" y1="108.62" x2="576.25" y2="108.62" stroke="#226022" stroke-width="0.8" />
<line x1="572.45" y1="117.62" x2="576.25" y2="117.62" stroke="#226022" stroke-width="0.8" />
<line x1="577.7" y1="107.62" x2="577.7" y2="116.62" stroke="#226022" stroke-width="0.8" />
<line x1="575.8" y1="107.62" x2="579.6" y2="107.62" stroke="#226022" stroke-width="0.8" />
<line x1="575.8" y1="116.62" x2="579.6" y2="116.62" stroke="#226022" stroke-width="0.8" />
<line x1="581.05" y1="105.93" x2="581.05" y2="114.93" stroke="#226022" stroke-width="0.8" />
<line x1="579.15" y1="105.93" x2="582.95" y2="105.93" stroke="#226022" stroke-width="0.8" />
<line x1="579.15" y1="114.93" x2="582.95" y2="114.93" stroke="#226022" stroke-width="0.8" />
<line x1="584.4" y1="103.66" x2="584.4" y2="112.66" stroke="#226022" stroke-width="0.8" />
<line x1="582.5" y1="103.66" x2="586.3" y2="103.66" stroke="#226022" stroke-width="0.8" />
<line x1="582.5" y1="112.66" x2="586.3" y2="112.66" stroke="#226022" stroke-width="0.8" />
<line x1="587.75" y1="98.45" x2="587.75" y2="107.45" stroke="#226022" stroke-width="0.8" />
<line x1="585.85" y1="98.45" x2="589.65" y2="98.45" stroke="#226022" stroke-width="0.8" />
<line x1="585.85" y1="107.45" x2="589.65" y2="107.45" stroke="#226022" stroke-width="0.8" />
<line x1="591.1" y1="90.38" x2="591.1" y2="99.38" stroke="#226022" stroke-width="0.8" />
<line x1="589.2" y1="90.38" x2="593" y2="90.38" stroke="#226022" stroke-width="0.8" />
<line x1="589.2" y1="99.38" x2="593" y2="99.38" stroke="#226022" stroke-width="0.8" />
<line x1="594.45" y1="80.46" x2="594.45" y2="89.46" stroke="#226022" stroke-width="0.8" />
<line x1="592.55" y1="80.46" x2="596.35" y2="80.46" stroke="#226022" stroke-width="0.8" />
<line x1="592.55" y1="89.46" x2="596.35" y2="89.46" stroke="#226022" stroke-width="0.8" />
<line x1="597.8" y1="70.81" x2="597.8" y2="79.81" stroke="#226022" stroke-width="0.8" />
<line x1="595.9" y1="70.81" x2="599.7" y2="70.81" stroke="#226022" stroke-width="0.8" />
<line x1="595.9" y1="79.81" x2="599.7" y2="79.81" stroke="#226022" stroke-width="0.8" />
<line x1="601.15" y1="61.42" x2="601.15" y2="70.42" stroke="#226022" stroke-width="0.8" />
<line x1="599.25" y1="61.42" x2="603.05" y2="61.42" stroke="#226022" stroke-width="0.8" />
<line x1="599.25" y1="70.42" x2="603.05" y2="70.42" stroke="#226022" stroke-width="0.8" />
<line x1="604.5" y1="56.1" x2="604.5" y2="65.1" stroke="#226022" stroke-width="0.8" />
<line x1="602.6" y1="56.1" x2="606.4" y2="56.1" stroke="#226022" stroke-width="0.8" />
<line x1="602.6" y1="65.1" x2="606.4" y2="65.1" stroke="#226022" stroke-width="0.8" />
<line x1="607.85" y1="52.31" x2="607.85" y2="61.31" stroke="#226022" stroke-width="0.8" />
<line x1="605.95" y1="52.31" x2="609.75" y2="52.31" stroke="#226022" stroke-width="0.8" />
<line x1="605.95" y1="61.31" x2="609.75" y2="61.31" stroke="#226022" stroke-width="0.8" />
<line x1="611.2" y1="48.83" x2="611.2" y2="57.83" stroke="#226022" stroke-width="0.8" />
<line x1="609.3" y1="48.83" x2="613.1" y2="48.83" stroke="#226022" stroke-width="0.8" />
<line x1="609.3" y1="57.83" x2="613.1" y2="57.83" stroke="#226022" stroke-width="0.8" />
<line x1="614.55" y1="46.54" x2="614.55" y2="55.54" stroke="#226022" stroke-width="0.8" />
<line x1="612.65" y1="46.54" x2="616.45" y2="46.54" stroke="#226022" stroke-width="0.8" />
<line x1="612.65" y1="55.54" x2="616.45" y2="55.54" stroke="#226022" stroke-width="0.8" />
<circle cx="557.6" cy="113.54" r="1.85" fill="#85a885" stroke="#226022" stroke-width="0.85"/>
<circle cx="557.6" cy="113.54" r="0.55" fill="#226022" stroke="none" stroke-width="0"/>
<circle cx="560.95" cy="116.03" r="1.85" fill="#85a885" stroke="#226022" stroke-width="0.85"/>
<circle cx="560.95" cy="116.03" r="0.55" fill="#226022" stroke="none" stroke-width="0"/>
<circle cx="564.3" cy="115.61" r="1.85" fill="#85a885" stroke="#226022" stroke-width="0.85"/>
<circle cx="564.3" cy="115.61" r="0.55" fill="#226022" stroke="none" stroke-width="0"/>
<circle cx="567.65" cy="113.31" r="1.85" fill="#85a885" stroke="#226022" stroke-width="0.85"/>
<circle cx="567.65" cy="113.31" r="0.55" fill="#226022" stroke="none" stroke-width="0"/>
<circle cx="571" cy="114.18" r="1.85" fill="#85a885" stroke="#226022" stroke-width="0.85"/>
<circle cx="571" cy="114.18" r="0.55" fill="#226022" stroke="none" stroke-width="0"/>
<circle cx="574.35" cy="113.12" r="1.85" fill="#85a885" stroke="#226022" stroke-width="0.85"/>
<circle cx="574.35" cy="113.12" r="0.55" fill="#226022" stroke="none" stroke-width="0"/>
<circle cx="577.7" cy="112.12" r="1.85" fill="#85a885" stroke="#226022" stroke-width="0.85"/>
<circle cx="577.7" cy="112.12" r="0.55" fill="#226022" stroke="none" stroke-width="0"/>
<circle cx="581.05" cy="110.43" r="1.85" fill="#85a885" stroke="#226022" stroke-width="0.85"/>
<circle cx="581.05" cy="110.43" r="0.55" fill="#226022" stroke="none" stroke-width="0"/>
<circle cx="584.4" cy="108.16" r="1.85" fill="#85a885" stroke="#226022" stroke-width="0.85"/>
<circle cx="584.4" cy="108.16" r="0.55" fill="#226022" stroke="none" stroke-width="0"/>
<circle cx="587.75" cy="102.95" r="1.85" fill="#85a885" stroke="#226022" stroke-width="0.85"/>
<circle cx="587.75" cy="102.95" r="0.55" fill="#226022" stroke="none" stroke-width="0"/>
<circle cx="591.1" cy="94.88" r="1.85" fill="#85a885" stroke="#226022" stroke-width="0.85"/>
<circle cx="591.1" cy="94.88" r="0.55" fill="#226022" stroke="none" stroke-width="0"/>
<circle cx="594.45" cy="84.96" r="1.85" fill="#85a885" stroke="#226022" stroke-width="0.85"/>
<circle cx="594.45" cy="84.96" r="0.55" fill="#226022" stroke="none" stroke-width="0"/>
<circle cx="597.8" cy="75.31" r="1.85" fill="#85a885" stroke="#226022" stroke-width="0.85"/>
<circle cx="597.8" cy="75.31" r="0.55" fill="#226022" stroke="none" stroke-width="0"/>
<circle cx="601.15" cy="65.92" r="1.85" fill="#85a885" stroke="#226022" stroke-width="0.85"/>
<circle cx="601.15" cy="65.92" r="0.55" fill="#226022" stroke="none" stroke-width="0"/>
<circle cx="604.5" cy="60.6" r="1.85" fill="#85a885" stroke="#226022" stroke-width="0.85"/>
<circle cx="604.5" cy="60.6" r="0.55" fill="#226022" stroke="none" stroke-width="0"/>
<circle cx="607.85" cy="56.81" r="1.85" fill="#85a885" stroke="#226022" stroke-width="0.85"/>
<circle cx="607.85" cy="56.81" r="0.55" fill="#226022" stroke="none" stroke-width="0"/>
<circle cx="611.2" cy="53.33" r="1.85" fill="#85a885" stroke="#226022" stroke-width="0.85"/>
<circle cx="611.2" cy="53.33" r="0.55" fill="#226022" stroke="none" stroke-width="0"/>
<circle cx="614.55" cy="51.04" r="1.85" fill="#85a885" stroke="#226022" stroke-width="0.85"/>
<circle cx="614.55" cy="51.04" r="0.55" fill="#226022" stroke="none" stroke-width="0"/>
<path d="M557.60 114.70 L559.07 114.67 L560.54 114.63 L562.02 114.57 L563.49 114.50 L564.96 114.41 L566.43 114.28 L567.90 114.12 L569.37 113.91 L570.85 113.62 L572.32 113.26 L573.79 112.78 L575.26 112.16 L576.73 111.36 L578.21 110.33 L579.68 109.03 L581.15 107.39 L582.62 105.36 L584.09 102.90 L585.56 99.97 L587.04 96.55 L588.51 92.70 L589.98 88.51 L591.45 84.08 L592.92 79.58 L594.39 75.20 L595.87 71.08 L597.34 67.34 L598.81 64.04 L600.28 61.23 L601.75 58.88 L603.23 56.96 L604.70 55.41 L606.17 54.18 L607.64 53.22 L609.11 52.47 L610.58 51.89 L612.06 51.44 L613.53 51.10 L615.00 50.83" fill="none" stroke="#3c9c3a" stroke-width="1.2"/>
<line x1="574.35" y1="108.9" x2="574.35" y2="117.9" stroke="#2c962e" stroke-width="0.8" />
<line x1="572.45" y1="108.9" x2="576.25" y2="108.9" stroke="#2c962e" stroke-width="0.8" />
<line x1="572.45" y1="117.9" x2="576.25" y2="117.9" stroke="#2c962e" stroke-width="0.8" />
<line x1="577.7" y1="106.56" x2="577.7" y2="115.56" stroke="#2c962e" stroke-width="0.8" />
<line x1="575.8" y1="106.56" x2="579.6" y2="106.56" stroke="#2c962e" stroke-width="0.8" />
<line x1="575.8" y1="115.56" x2="579.6" y2="115.56" stroke="#2c962e" stroke-width="0.8" />
<line x1="581.05" y1="102.82" x2="581.05" y2="111.82" stroke="#2c962e" stroke-width="0.8" />
<line x1="579.15" y1="102.82" x2="582.95" y2="102.82" stroke="#2c962e" stroke-width="0.8" />
<line x1="579.15" y1="111.82" x2="582.95" y2="111.82" stroke="#2c962e" stroke-width="0.8" />
<line x1="584.4" y1="97.47" x2="584.4" y2="106.47" stroke="#2c962e" stroke-width="0.8" />
<line x1="582.5" y1="97.47" x2="586.3" y2="97.47" stroke="#2c962e" stroke-width="0.8" />
<line x1="582.5" y1="106.47" x2="586.3" y2="106.47" stroke="#2c962e" stroke-width="0.8" />
<line x1="587.75" y1="90.23" x2="587.75" y2="99.23" stroke="#2c962e" stroke-width="0.8" />
<line x1="585.85" y1="90.23" x2="589.65" y2="90.23" stroke="#2c962e" stroke-width="0.8" />
<line x1="585.85" y1="99.23" x2="589.65" y2="99.23" stroke="#2c962e" stroke-width="0.8" />
<line x1="591.1" y1="81.21" x2="591.1" y2="90.21" stroke="#2c962e" stroke-width="0.8" />
<line x1="589.2" y1="81.21" x2="593" y2="81.21" stroke="#2c962e" stroke-width="0.8" />
<line x1="589.2" y1="90.21" x2="593" y2="90.21" stroke="#2c962e" stroke-width="0.8" />
<line x1="594.45" y1="70.32" x2="594.45" y2="79.32" stroke="#2c962e" stroke-width="0.8" />
<line x1="592.55" y1="70.32" x2="596.35" y2="70.32" stroke="#2c962e" stroke-width="0.8" />
<line x1="592.55" y1="79.32" x2="596.35" y2="79.32" stroke="#2c962e" stroke-width="0.8" />
<line x1="597.8" y1="62.3" x2="597.8" y2="71.3" stroke="#2c962e" stroke-width="0.8" />
<line x1="595.9" y1="62.3" x2="599.7" y2="62.3" stroke="#2c962e" stroke-width="0.8" />
<line x1="595.9" y1="71.3" x2="599.7" y2="71.3" stroke="#2c962e" stroke-width="0.8" />
<line x1="601.15" y1="55.18" x2="601.15" y2="64.18" stroke="#2c962e" stroke-width="0.8" />
<line x1="599.25" y1="55.18" x2="603.05" y2="55.18" stroke="#2c962e" stroke-width="0.8" />
<line x1="599.25" y1="64.18" x2="603.05" y2="64.18" stroke="#2c962e" stroke-width="0.8" />
<line x1="604.5" y1="50.38" x2="604.5" y2="59.38" stroke="#2c962e" stroke-width="0.8" />
<line x1="602.6" y1="50.38" x2="606.4" y2="50.38" stroke="#2c962e" stroke-width="0.8" />
<line x1="602.6" y1="59.38" x2="606.4" y2="59.38" stroke="#2c962e" stroke-width="0.8" />
<line x1="607.85" y1="48.7" x2="607.85" y2="57.7" stroke="#2c962e" stroke-width="0.8" />
<line x1="605.95" y1="48.7" x2="609.75" y2="48.7" stroke="#2c962e" stroke-width="0.8" />
<line x1="605.95" y1="57.7" x2="609.75" y2="57.7" stroke="#2c962e" stroke-width="0.8" />
<line x1="611.2" y1="47.73" x2="611.2" y2="56.73" stroke="#2c962e" stroke-width="0.8" />
<line x1="609.3" y1="47.73" x2="613.1" y2="47.73" stroke="#2c962e" stroke-width="0.8" />
<line x1="609.3" y1="56.73" x2="613.1" y2="56.73" stroke="#2c962e" stroke-width="0.8" />
<line x1="614.55" y1="45.21" x2="614.55" y2="54.21" stroke="#2c962e" stroke-width="0.8" />
<line x1="612.65" y1="45.21" x2="616.45" y2="45.21" stroke="#2c962e" stroke-width="0.8" />
<line x1="612.65" y1="54.21" x2="616.45" y2="54.21" stroke="#2c962e" stroke-width="0.8" />
<circle cx="557.6" cy="113.8" r="1.85" fill="#96ca96" stroke="#2c962e" stroke-width="0.85"/>
<circle cx="557.6" cy="113.8" r="0.55" fill="#2c962e" stroke="none" stroke-width="0"/>
<circle cx="560.95" cy="114.26" r="1.85" fill="#96ca96" stroke="#2c962e" stroke-width="0.85"/>
<circle cx="560.95" cy="114.26" r="0.55" fill="#2c962e" stroke="none" stroke-width="0"/>
<circle cx="564.3" cy="114.75" r="1.85" fill="#96ca96" stroke="#2c962e" stroke-width="0.85"/>
<circle cx="564.3" cy="114.75" r="0.55" fill="#2c962e" stroke="none" stroke-width="0"/>
<circle cx="567.65" cy="114.94" r="1.85" fill="#96ca96" stroke="#2c962e" stroke-width="0.85"/>
<circle cx="567.65" cy="114.94" r="0.55" fill="#2c962e" stroke="none" stroke-width="0"/>
<circle cx="571" cy="113.25" r="1.85" fill="#96ca96" stroke="#2c962e" stroke-width="0.85"/>
<circle cx="571" cy="113.25" r="0.55" fill="#2c962e" stroke="none" stroke-width="0"/>
<circle cx="574.35" cy="113.4" r="1.85" fill="#96ca96" stroke="#2c962e" stroke-width="0.85"/>
<circle cx="574.35" cy="113.4" r="0.55" fill="#2c962e" stroke="none" stroke-width="0"/>
<circle cx="577.7" cy="111.06" r="1.85" fill="#96ca96" stroke="#2c962e" stroke-width="0.85"/>
<circle cx="577.7" cy="111.06" r="0.55" fill="#2c962e" stroke="none" stroke-width="0"/>
<circle cx="581.05" cy="107.32" r="1.85" fill="#96ca96" stroke="#2c962e" stroke-width="0.85"/>
<circle cx="581.05" cy="107.32" r="0.55" fill="#2c962e" stroke="none" stroke-width="0"/>
<circle cx="584.4" cy="101.97" r="1.85" fill="#96ca96" stroke="#2c962e" stroke-width="0.85"/>
<circle cx="584.4" cy="101.97" r="0.55" fill="#2c962e" stroke="none" stroke-width="0"/>
<circle cx="587.75" cy="94.73" r="1.85" fill="#96ca96" stroke="#2c962e" stroke-width="0.85"/>
<circle cx="587.75" cy="94.73" r="0.55" fill="#2c962e" stroke="none" stroke-width="0"/>
<circle cx="591.1" cy="85.71" r="1.85" fill="#96ca96" stroke="#2c962e" stroke-width="0.85"/>
<circle cx="591.1" cy="85.71" r="0.55" fill="#2c962e" stroke="none" stroke-width="0"/>
<circle cx="594.45" cy="74.82" r="1.85" fill="#96ca96" stroke="#2c962e" stroke-width="0.85"/>
<circle cx="594.45" cy="74.82" r="0.55" fill="#2c962e" stroke="none" stroke-width="0"/>
<circle cx="597.8" cy="66.8" r="1.85" fill="#96ca96" stroke="#2c962e" stroke-width="0.85"/>
<circle cx="597.8" cy="66.8" r="0.55" fill="#2c962e" stroke="none" stroke-width="0"/>
<circle cx="601.15" cy="59.68" r="1.85" fill="#96ca96" stroke="#2c962e" stroke-width="0.85"/>
<circle cx="601.15" cy="59.68" r="0.55" fill="#2c962e" stroke="none" stroke-width="0"/>
<circle cx="604.5" cy="54.88" r="1.85" fill="#96ca96" stroke="#2c962e" stroke-width="0.85"/>
<circle cx="604.5" cy="54.88" r="0.55" fill="#2c962e" stroke="none" stroke-width="0"/>
<circle cx="607.85" cy="53.2" r="1.85" fill="#96ca96" stroke="#2c962e" stroke-width="0.85"/>
<circle cx="607.85" cy="53.2" r="0.55" fill="#2c962e" stroke="none" stroke-width="0"/>
<circle cx="611.2" cy="52.23" r="1.85" fill="#96ca96" stroke="#2c962e" stroke-width="0.85"/>
<circle cx="611.2" cy="52.23" r="0.55" fill="#2c962e" stroke="none" stroke-width="0"/>
<circle cx="614.55" cy="49.71" r="1.85" fill="#96ca96" stroke="#2c962e" stroke-width="0.85"/>
<circle cx="614.55" cy="49.71" r="0.55" fill="#2c962e" stroke="none" stroke-width="0"/>
<path d="M557.60 114.61 L559.07 114.55 L560.54 114.47 L562.02 114.36 L563.49 114.22 L564.96 114.04 L566.43 113.80 L567.90 113.49 L569.37 113.08 L570.85 112.54 L572.32 111.86 L573.79 110.97 L575.26 109.84 L576.73 108.40 L578.21 106.61 L579.68 104.41 L581.15 101.74 L582.62 98.60 L584.09 95.00 L585.56 90.97 L587.04 86.63 L588.51 82.12 L589.98 77.63 L591.45 73.29 L592.92 69.26 L594.39 65.66 L595.87 62.53 L597.34 59.87 L598.81 57.66 L600.28 55.88 L601.75 54.45 L603.23 53.32 L604.70 52.43 L606.17 51.75 L607.64 51.22 L609.11 50.81 L610.58 50.50 L612.06 50.26 L613.53 50.08 L615.00 49.94" fill="none" stroke="#62d03a" stroke-width="1.2"/>
<line x1="574.35" y1="107.18" x2="574.35" y2="116.18" stroke="#54cc2c" stroke-width="0.8" />
<line x1="572.45" y1="107.18" x2="576.25" y2="107.18" stroke="#54cc2c" stroke-width="0.8" />
<line x1="572.45" y1="116.18" x2="576.25" y2="116.18" stroke="#54cc2c" stroke-width="0.8" />
<line x1="577.7" y1="103.59" x2="577.7" y2="112.59" stroke="#54cc2c" stroke-width="0.8" />
<line x1="575.8" y1="103.59" x2="579.6" y2="103.59" stroke="#54cc2c" stroke-width="0.8" />
<line x1="575.8" y1="112.59" x2="579.6" y2="112.59" stroke="#54cc2c" stroke-width="0.8" />
<line x1="581.05" y1="96.77" x2="581.05" y2="105.77" stroke="#54cc2c" stroke-width="0.8" />
<line x1="579.15" y1="96.77" x2="582.95" y2="96.77" stroke="#54cc2c" stroke-width="0.8" />
<line x1="579.15" y1="105.77" x2="582.95" y2="105.77" stroke="#54cc2c" stroke-width="0.8" />
<line x1="584.4" y1="89.58" x2="584.4" y2="98.58" stroke="#54cc2c" stroke-width="0.8" />
<line x1="582.5" y1="89.58" x2="586.3" y2="89.58" stroke="#54cc2c" stroke-width="0.8" />
<line x1="582.5" y1="98.58" x2="586.3" y2="98.58" stroke="#54cc2c" stroke-width="0.8" />
<line x1="587.75" y1="78.91" x2="587.75" y2="87.91" stroke="#54cc2c" stroke-width="0.8" />
<line x1="585.85" y1="78.91" x2="589.65" y2="78.91" stroke="#54cc2c" stroke-width="0.8" />
<line x1="585.85" y1="87.91" x2="589.65" y2="87.91" stroke="#54cc2c" stroke-width="0.8" />
<line x1="591.1" y1="70.67" x2="591.1" y2="79.67" stroke="#54cc2c" stroke-width="0.8" />
<line x1="589.2" y1="70.67" x2="593" y2="70.67" stroke="#54cc2c" stroke-width="0.8" />
<line x1="589.2" y1="79.67" x2="593" y2="79.67" stroke="#54cc2c" stroke-width="0.8" />
<line x1="594.45" y1="61.49" x2="594.45" y2="70.49" stroke="#54cc2c" stroke-width="0.8" />
<line x1="592.55" y1="61.49" x2="596.35" y2="61.49" stroke="#54cc2c" stroke-width="0.8" />
<line x1="592.55" y1="70.49" x2="596.35" y2="70.49" stroke="#54cc2c" stroke-width="0.8" />
<line x1="597.8" y1="55.72" x2="597.8" y2="64.72" stroke="#54cc2c" stroke-width="0.8" />
<line x1="595.9" y1="55.72" x2="599.7" y2="55.72" stroke="#54cc2c" stroke-width="0.8" />
<line x1="595.9" y1="64.72" x2="599.7" y2="64.72" stroke="#54cc2c" stroke-width="0.8" />
<line x1="601.15" y1="51.32" x2="601.15" y2="60.32" stroke="#54cc2c" stroke-width="0.8" />
<line x1="599.25" y1="51.32" x2="603.05" y2="51.32" stroke="#54cc2c" stroke-width="0.8" />
<line x1="599.25" y1="60.32" x2="603.05" y2="60.32" stroke="#54cc2c" stroke-width="0.8" />
<line x1="604.5" y1="48.51" x2="604.5" y2="57.51" stroke="#54cc2c" stroke-width="0.8" />
<line x1="602.6" y1="48.51" x2="606.4" y2="48.51" stroke="#54cc2c" stroke-width="0.8" />
<line x1="602.6" y1="57.51" x2="606.4" y2="57.51" stroke="#54cc2c" stroke-width="0.8" />
<line x1="607.85" y1="47.31" x2="607.85" y2="56.31" stroke="#54cc2c" stroke-width="0.8" />
<line x1="605.95" y1="47.31" x2="609.75" y2="47.31" stroke="#54cc2c" stroke-width="0.8" />
<line x1="605.95" y1="56.31" x2="609.75" y2="56.31" stroke="#54cc2c" stroke-width="0.8" />
<line x1="611.2" y1="46.07" x2="611.2" y2="55.07" stroke="#54cc2c" stroke-width="0.8" />
<line x1="609.3" y1="46.07" x2="613.1" y2="46.07" stroke="#54cc2c" stroke-width="0.8" />
<line x1="609.3" y1="55.07" x2="613.1" y2="55.07" stroke="#54cc2c" stroke-width="0.8" />
<line x1="614.55" y1="44.36" x2="614.55" y2="53.36" stroke="#54cc2c" stroke-width="0.8" />
<line x1="612.65" y1="44.36" x2="616.45" y2="44.36" stroke="#54cc2c" stroke-width="0.8" />
<line x1="612.65" y1="53.36" x2="616.45" y2="53.36" stroke="#54cc2c" stroke-width="0.8" />
<circle cx="557.6" cy="114.4" r="1.85" fill="#aae696" stroke="#54cc2c" stroke-width="0.85"/>
<circle cx="557.6" cy="114.4" r="0.55" fill="#54cc2c" stroke="none" stroke-width="0"/>
<circle cx="560.95" cy="114.23" r="1.85" fill="#aae696" stroke="#54cc2c" stroke-width="0.85"/>
<circle cx="560.95" cy="114.23" r="0.55" fill="#54cc2c" stroke="none" stroke-width="0"/>
<circle cx="564.3" cy="115.19" r="1.85" fill="#aae696" stroke="#54cc2c" stroke-width="0.85"/>
<circle cx="564.3" cy="115.19" r="0.55" fill="#54cc2c" stroke="none" stroke-width="0"/>
<circle cx="567.65" cy="114.77" r="1.85" fill="#aae696" stroke="#54cc2c" stroke-width="0.85"/>
<circle cx="567.65" cy="114.77" r="0.55" fill="#54cc2c" stroke="none" stroke-width="0"/>
<circle cx="571" cy="112.13" r="1.85" fill="#aae696" stroke="#54cc2c" stroke-width="0.85"/>
<circle cx="571" cy="112.13" r="0.55" fill="#54cc2c" stroke="none" stroke-width="0"/>
<circle cx="574.35" cy="111.68" r="1.85" fill="#aae696" stroke="#54cc2c" stroke-width="0.85"/>
<circle cx="574.35" cy="111.68" r="0.55" fill="#54cc2c" stroke="none" stroke-width="0"/>
<circle cx="577.7" cy="108.09" r="1.85" fill="#aae696" stroke="#54cc2c" stroke-width="0.85"/>
<circle cx="577.7" cy="108.09" r="0.55" fill="#54cc2c" stroke="none" stroke-width="0"/>
<circle cx="581.05" cy="101.27" r="1.85" fill="#aae696" stroke="#54cc2c" stroke-width="0.85"/>
<circle cx="581.05" cy="101.27" r="0.55" fill="#54cc2c" stroke="none" stroke-width="0"/>
<circle cx="584.4" cy="94.08" r="1.85" fill="#aae696" stroke="#54cc2c" stroke-width="0.85"/>
<circle cx="584.4" cy="94.08" r="0.55" fill="#54cc2c" stroke="none" stroke-width="0"/>
<circle cx="587.75" cy="83.41" r="1.85" fill="#aae696" stroke="#54cc2c" stroke-width="0.85"/>
<circle cx="587.75" cy="83.41" r="0.55" fill="#54cc2c" stroke="none" stroke-width="0"/>
<circle cx="591.1" cy="75.17" r="1.85" fill="#aae696" stroke="#54cc2c" stroke-width="0.85"/>
<circle cx="591.1" cy="75.17" r="0.55" fill="#54cc2c" stroke="none" stroke-width="0"/>
<circle cx="594.45" cy="65.99" r="1.85" fill="#aae696" stroke="#54cc2c" stroke-width="0.85"/>
<circle cx="594.45" cy="65.99" r="0.55" fill="#54cc2c" stroke="none" stroke-width="0"/>
<circle cx="597.8" cy="60.22" r="1.85" fill="#aae696" stroke="#54cc2c" stroke-width="0.85"/>
<circle cx="597.8" cy="60.22" r="0.55" fill="#54cc2c" stroke="none" stroke-width="0"/>
<circle cx="601.15" cy="55.82" r="1.85" fill="#aae696" stroke="#54cc2c" stroke-width="0.85"/>
<circle cx="601.15" cy="55.82" r="0.55" fill="#54cc2c" stroke="none" stroke-width="0"/>
<circle cx="604.5" cy="53.01" r="1.85" fill="#aae696" stroke="#54cc2c" stroke-width="0.85"/>
<circle cx="604.5" cy="53.01" r="0.55" fill="#54cc2c" stroke="none" stroke-width="0"/>
<circle cx="607.85" cy="51.81" r="1.85" fill="#aae696" stroke="#54cc2c" stroke-width="0.85"/>
<circle cx="607.85" cy="51.81" r="0.55" fill="#54cc2c" stroke="none" stroke-width="0"/>
<circle cx="611.2" cy="50.57" r="1.85" fill="#aae696" stroke="#54cc2c" stroke-width="0.85"/>
<circle cx="611.2" cy="50.57" r="0.55" fill="#54cc2c" stroke="none" stroke-width="0"/>
<circle cx="614.55" cy="48.86" r="1.85" fill="#aae696" stroke="#54cc2c" stroke-width="0.85"/>
<circle cx="614.55" cy="48.86" r="0.55" fill="#54cc2c" stroke="none" stroke-width="0"/>
<path d="M557.60 114.46 L559.07 114.36 L560.54 114.22 L562.02 114.03 L563.49 113.79 L564.96 113.47 L566.43 113.06 L567.90 112.52 L569.37 111.83 L570.85 110.93 L572.32 109.79 L573.79 108.34 L575.26 106.53 L576.73 104.31 L578.21 101.64 L579.68 98.48 L581.15 94.84 L582.62 90.80 L584.09 86.46 L585.56 81.96 L587.04 77.45 L588.51 73.12 L589.98 69.12 L591.45 65.53 L592.92 62.41 L594.39 59.77 L595.87 57.59 L597.34 55.82 L598.81 54.40 L600.28 53.28 L601.75 52.41 L603.23 51.73 L604.70 51.20 L606.17 50.80 L607.64 50.49 L609.11 50.25 L610.58 50.07 L612.06 49.93 L613.53 49.83 L615.00 49.75" fill="none" stroke="#7ee43c" stroke-width="1.2"/>
<line x1="574.35" y1="102.06" x2="574.35" y2="111.06" stroke="#6ee030" stroke-width="0.8" />
<line x1="572.45" y1="102.06" x2="576.25" y2="102.06" stroke="#6ee030" stroke-width="0.8" />
<line x1="572.45" y1="111.06" x2="576.25" y2="111.06" stroke="#6ee030" stroke-width="0.8" />
<line x1="577.7" y1="96.99" x2="577.7" y2="105.99" stroke="#6ee030" stroke-width="0.8" />
<line x1="575.8" y1="96.99" x2="579.6" y2="96.99" stroke="#6ee030" stroke-width="0.8" />
<line x1="575.8" y1="105.99" x2="579.6" y2="105.99" stroke="#6ee030" stroke-width="0.8" />
<line x1="581.05" y1="91.66" x2="581.05" y2="100.66" stroke="#6ee030" stroke-width="0.8" />
<line x1="579.15" y1="91.66" x2="582.95" y2="91.66" stroke="#6ee030" stroke-width="0.8" />
<line x1="579.15" y1="100.66" x2="582.95" y2="100.66" stroke="#6ee030" stroke-width="0.8" />
<line x1="584.4" y1="80.13" x2="584.4" y2="89.13" stroke="#6ee030" stroke-width="0.8" />
<line x1="582.5" y1="80.13" x2="586.3" y2="80.13" stroke="#6ee030" stroke-width="0.8" />
<line x1="582.5" y1="89.13" x2="586.3" y2="89.13" stroke="#6ee030" stroke-width="0.8" />
<line x1="587.75" y1="69.49" x2="587.75" y2="78.49" stroke="#6ee030" stroke-width="0.8" />
<line x1="585.85" y1="69.49" x2="589.65" y2="69.49" stroke="#6ee030" stroke-width="0.8" />
<line x1="585.85" y1="78.49" x2="589.65" y2="78.49" stroke="#6ee030" stroke-width="0.8" />
<line x1="591.1" y1="62.8" x2="591.1" y2="71.8" stroke="#6ee030" stroke-width="0.8" />
<line x1="589.2" y1="62.8" x2="593" y2="62.8" stroke="#6ee030" stroke-width="0.8" />
<line x1="589.2" y1="71.8" x2="593" y2="71.8" stroke="#6ee030" stroke-width="0.8" />
<line x1="594.45" y1="54.12" x2="594.45" y2="63.12" stroke="#6ee030" stroke-width="0.8" />
<line x1="592.55" y1="54.12" x2="596.35" y2="54.12" stroke="#6ee030" stroke-width="0.8" />
<line x1="592.55" y1="63.12" x2="596.35" y2="63.12" stroke="#6ee030" stroke-width="0.8" />
<line x1="597.8" y1="51.8" x2="597.8" y2="60.8" stroke="#6ee030" stroke-width="0.8" />
<line x1="595.9" y1="51.8" x2="599.7" y2="51.8" stroke="#6ee030" stroke-width="0.8" />
<line x1="595.9" y1="60.8" x2="599.7" y2="60.8" stroke="#6ee030" stroke-width="0.8" />
<line x1="601.15" y1="48.73" x2="601.15" y2="57.73" stroke="#6ee030" stroke-width="0.8" />
<line x1="599.25" y1="48.73" x2="603.05" y2="48.73" stroke="#6ee030" stroke-width="0.8" />
<line x1="599.25" y1="57.73" x2="603.05" y2="57.73" stroke="#6ee030" stroke-width="0.8" />
<line x1="604.5" y1="47.7" x2="604.5" y2="56.7" stroke="#6ee030" stroke-width="0.8" />
<line x1="602.6" y1="47.7" x2="606.4" y2="47.7" stroke="#6ee030" stroke-width="0.8" />
<line x1="602.6" y1="56.7" x2="606.4" y2="56.7" stroke="#6ee030" stroke-width="0.8" />
<line x1="607.85" y1="47.22" x2="607.85" y2="56.22" stroke="#6ee030" stroke-width="0.8" />
<line x1="605.95" y1="47.22" x2="609.75" y2="47.22" stroke="#6ee030" stroke-width="0.8" />
<line x1="605.95" y1="56.22" x2="609.75" y2="56.22" stroke="#6ee030" stroke-width="0.8" />
<line x1="611.2" y1="45.73" x2="611.2" y2="54.73" stroke="#6ee030" stroke-width="0.8" />
<line x1="609.3" y1="45.73" x2="613.1" y2="45.73" stroke="#6ee030" stroke-width="0.8" />
<line x1="609.3" y1="54.73" x2="613.1" y2="54.73" stroke="#6ee030" stroke-width="0.8" />
<line x1="614.55" y1="46.11" x2="614.55" y2="55.11" stroke="#6ee030" stroke-width="0.8" />
<line x1="612.65" y1="46.11" x2="616.45" y2="46.11" stroke="#6ee030" stroke-width="0.8" />
<line x1="612.65" y1="55.11" x2="616.45" y2="55.11" stroke="#6ee030" stroke-width="0.8" />
<circle cx="557.6" cy="114.71" r="1.85" fill="#b6f098" stroke="#6ee030" stroke-width="0.85"/>
<circle cx="557.6" cy="114.71" r="0.55" fill="#6ee030" stroke="none" stroke-width="0"/>
<circle cx="560.95" cy="112.78" r="1.85" fill="#b6f098" stroke="#6ee030" stroke-width="0.85"/>
<circle cx="560.95" cy="112.78" r="0.55" fill="#6ee030" stroke="none" stroke-width="0"/>
<circle cx="564.3" cy="112.63" r="1.85" fill="#b6f098" stroke="#6ee030" stroke-width="0.85"/>
<circle cx="564.3" cy="112.63" r="0.55" fill="#6ee030" stroke="none" stroke-width="0"/>
<circle cx="567.65" cy="113.39" r="1.85" fill="#b6f098" stroke="#6ee030" stroke-width="0.85"/>
<circle cx="567.65" cy="113.39" r="0.55" fill="#6ee030" stroke="none" stroke-width="0"/>
<circle cx="571" cy="109.55" r="1.85" fill="#b6f098" stroke="#6ee030" stroke-width="0.85"/>
<circle cx="571" cy="109.55" r="0.55" fill="#6ee030" stroke="none" stroke-width="0"/>
<circle cx="574.35" cy="106.56" r="1.85" fill="#b6f098" stroke="#6ee030" stroke-width="0.85"/>
<circle cx="574.35" cy="106.56" r="0.55" fill="#6ee030" stroke="none" stroke-width="0"/>
<circle cx="577.7" cy="101.49" r="1.85" fill="#b6f098" stroke="#6ee030" stroke-width="0.85"/>
<circle cx="577.7" cy="101.49" r="0.55" fill="#6ee030" stroke="none" stroke-width="0"/>
<circle cx="581.05" cy="96.16" r="1.85" fill="#b6f098" stroke="#6ee030" stroke-width="0.85"/>
<circle cx="581.05" cy="96.16" r="0.55" fill="#6ee030" stroke="none" stroke-width="0"/>
<circle cx="584.4" cy="84.63" r="1.85" fill="#b6f098" stroke="#6ee030" stroke-width="0.85"/>
<circle cx="584.4" cy="84.63" r="0.55" fill="#6ee030" stroke="none" stroke-width="0"/>
<circle cx="587.75" cy="73.99" r="1.85" fill="#b6f098" stroke="#6ee030" stroke-width="0.85"/>
<circle cx="587.75" cy="73.99" r="0.55" fill="#6ee030" stroke="none" stroke-width="0"/>
<circle cx="591.1" cy="67.3" r="1.85" fill="#b6f098" stroke="#6ee030" stroke-width="0.85"/>
<circle cx="591.1" cy="67.3" r="0.55" fill="#6ee030" stroke="none" stroke-width="0"/>
<circle cx="594.45" cy="58.62" r="1.85" fill="#b6f098" stroke="#6ee030" stroke-width="0.85"/>
<circle cx="594.45" cy="58.62" r="0.55" fill="#6ee030" stroke="none" stroke-width="0"/>
<circle cx="597.8" cy="56.3" r="1.85" fill="#b6f098" stroke="#6ee030" stroke-width="0.85"/>
<circle cx="597.8" cy="56.3" r="0.55" fill="#6ee030" stroke="none" stroke-width="0"/>
<circle cx="601.15" cy="53.23" r="1.85" fill="#b6f098" stroke="#6ee030" stroke-width="0.85"/>
<circle cx="601.15" cy="53.23" r="0.55" fill="#6ee030" stroke="none" stroke-width="0"/>
<circle cx="604.5" cy="52.2" r="1.85" fill="#b6f098" stroke="#6ee030" stroke-width="0.85"/>
<circle cx="604.5" cy="52.2" r="0.55" fill="#6ee030" stroke="none" stroke-width="0"/>
<circle cx="607.85" cy="51.72" r="1.85" fill="#b6f098" stroke="#6ee030" stroke-width="0.85"/>
<circle cx="607.85" cy="51.72" r="0.55" fill="#6ee030" stroke="none" stroke-width="0"/>
<circle cx="611.2" cy="50.23" r="1.85" fill="#b6f098" stroke="#6ee030" stroke-width="0.85"/>
<circle cx="611.2" cy="50.23" r="0.55" fill="#6ee030" stroke="none" stroke-width="0"/>
<circle cx="614.55" cy="50.61" r="1.85" fill="#b6f098" stroke="#6ee030" stroke-width="0.85"/>
<circle cx="614.55" cy="50.61" r="0.55" fill="#6ee030" stroke="none" stroke-width="0"/>
<path d="M557.60 115.00 L559.66 115.26 L561.72 115.41 L563.78 115.49 L565.85 115.49 L567.91 115.36 L569.97 115.14 L572.03 114.76 L574.09 113.91 L576.15 112.93 L578.22 112.01 L580.28 110.94 L582.34 109.52 L584.40 107.63 L586.46 105.19 L588.52 102.19 L590.58 99.18 L592.65 96.05 L594.71 92.76 L596.77 89.38 L598.83 86.08 L600.89 82.69 L602.95 78.93 L605.02 74.97 L607.08 70.81 L609.14 66.74 L611.20 62.98 L613.26 59.60 L615.32 56.53 L617.38 54.11 L619.45 52.18 L621.51 51.15 L623.57 50.63 L625.63 50.30 L627.69 50.18 L629.75 50.11 L631.82 50.06 L633.88 50.03 L635.94 50.01 L638.00 50.00" fill="none" stroke="#000" stroke-width="1.3"/>
<line x1="596.9" y1="84.5" x2="596.9" y2="91.5" stroke="#000" stroke-width="0.8" />
<line x1="595" y1="84.5" x2="598.8" y2="84.5" stroke="#000" stroke-width="0.8" />
<line x1="595" y1="91.5" x2="598.8" y2="91.5" stroke="#000" stroke-width="0.8" />
<line x1="600.8" y1="82.8" x2="600.8" y2="89.8" stroke="#000" stroke-width="0.8" />
<line x1="598.9" y1="82.8" x2="602.7" y2="82.8" stroke="#000" stroke-width="0.8" />
<line x1="598.9" y1="89.8" x2="602.7" y2="89.8" stroke="#000" stroke-width="0.8" />
<line x1="604.2" y1="71.6" x2="604.2" y2="78.6" stroke="#000" stroke-width="0.8" />
<line x1="602.3" y1="71.6" x2="606.1" y2="71.6" stroke="#000" stroke-width="0.8" />
<line x1="602.3" y1="78.6" x2="606.1" y2="78.6" stroke="#000" stroke-width="0.8" />
<line x1="607.4" y1="66.1" x2="607.4" y2="73.1" stroke="#000" stroke-width="0.8" />
<line x1="605.5" y1="66.1" x2="609.3" y2="66.1" stroke="#000" stroke-width="0.8" />
<line x1="605.5" y1="73.1" x2="609.3" y2="73.1" stroke="#000" stroke-width="0.8" />
<line x1="609.3" y1="63" x2="609.3" y2="70" stroke="#000" stroke-width="0.8" />
<line x1="607.4" y1="63" x2="611.2" y2="63" stroke="#000" stroke-width="0.8" />
<line x1="607.4" y1="70" x2="611.2" y2="70" stroke="#000" stroke-width="0.8" />
<line x1="611.2" y1="59.2" x2="611.2" y2="66.2" stroke="#000" stroke-width="0.8" />
<line x1="609.3" y1="59.2" x2="613.1" y2="59.2" stroke="#000" stroke-width="0.8" />
<line x1="609.3" y1="66.2" x2="613.1" y2="66.2" stroke="#000" stroke-width="0.8" />
<line x1="613.7" y1="56" x2="613.7" y2="63" stroke="#000" stroke-width="0.8" />
<line x1="611.8" y1="56" x2="615.6" y2="56" stroke="#000" stroke-width="0.8" />
<line x1="611.8" y1="63" x2="615.6" y2="63" stroke="#000" stroke-width="0.8" />
<line x1="616.9" y1="51" x2="616.9" y2="58" stroke="#000" stroke-width="0.8" />
<line x1="615" y1="51" x2="618.8" y2="51" stroke="#000" stroke-width="0.8" />
<line x1="615" y1="58" x2="618.8" y2="58" stroke="#000" stroke-width="0.8" />
<line x1="620.7" y1="47.2" x2="620.7" y2="54.2" stroke="#000" stroke-width="0.8" />
<line x1="618.8" y1="47.2" x2="622.6" y2="47.2" stroke="#000" stroke-width="0.8" />
<line x1="618.8" y1="54.2" x2="622.6" y2="54.2" stroke="#000" stroke-width="0.8" />
<line x1="623.8" y1="48.4" x2="623.8" y2="55.4" stroke="#000" stroke-width="0.8" />
<line x1="621.9" y1="48.4" x2="625.7" y2="48.4" stroke="#000" stroke-width="0.8" />
<line x1="621.9" y1="55.4" x2="625.7" y2="55.4" stroke="#000" stroke-width="0.8" />
<line x1="627" y1="50.3" x2="627" y2="57.3" stroke="#000" stroke-width="0.8" />
<line x1="625.1" y1="50.3" x2="628.9" y2="50.3" stroke="#000" stroke-width="0.8" />
<line x1="625.1" y1="57.3" x2="628.9" y2="57.3" stroke="#000" stroke-width="0.8" />
<line x1="630.8" y1="47.2" x2="630.8" y2="54.2" stroke="#000" stroke-width="0.8" />
<line x1="628.9" y1="47.2" x2="632.7" y2="47.2" stroke="#000" stroke-width="0.8" />
<line x1="628.9" y1="54.2" x2="632.7" y2="54.2" stroke="#000" stroke-width="0.8" />
<line x1="637.1" y1="52.9" x2="637.1" y2="59.9" stroke="#000" stroke-width="0.8" />
<line x1="635.2" y1="52.9" x2="639" y2="52.9" stroke="#000" stroke-width="0.8" />
<line x1="635.2" y1="59.9" x2="639" y2="59.9" stroke="#000" stroke-width="0.8" />
<circle cx="557.4" cy="114.7" r="1.85" fill="#fff" stroke="#000" stroke-width="0.85"/>
<circle cx="560.9" cy="115.5" r="1.85" fill="#fff" stroke="#000" stroke-width="0.85"/>
<circle cx="570.8" cy="115.5" r="1.85" fill="#fff" stroke="#000" stroke-width="0.85"/>
<circle cx="574" cy="113.1" r="1.85" fill="#fff" stroke="#000" stroke-width="0.85"/>
<circle cx="577.1" cy="112" r="1.85" fill="#fff" stroke="#000" stroke-width="0.85"/>
<circle cx="580.9" cy="110.8" r="1.85" fill="#fff" stroke="#000" stroke-width="0.85"/>
<circle cx="584.1" cy="107.9" r="1.85" fill="#fff" stroke="#000" stroke-width="0.85"/>
<circle cx="587.6" cy="102.8" r="1.85" fill="#fff" stroke="#000" stroke-width="0.85"/>
<circle cx="590.7" cy="97.6" r="1.85" fill="#fff" stroke="#000" stroke-width="0.85"/>
<circle cx="594.1" cy="95.9" r="1.85" fill="#fff" stroke="#000" stroke-width="0.85"/>
<circle cx="596.9" cy="88" r="1.85" fill="#fff" stroke="#000" stroke-width="0.85"/>
<circle cx="600.8" cy="86.3" r="1.85" fill="#fff" stroke="#000" stroke-width="0.85"/>
<circle cx="604.2" cy="75.1" r="1.85" fill="#fff" stroke="#000" stroke-width="0.85"/>
<circle cx="607.4" cy="69.6" r="1.85" fill="#fff" stroke="#000" stroke-width="0.85"/>
<circle cx="609.3" cy="66.5" r="1.85" fill="#fff" stroke="#000" stroke-width="0.85"/>
<circle cx="611.2" cy="62.7" r="1.85" fill="#fff" stroke="#000" stroke-width="0.85"/>
<circle cx="613.7" cy="59.5" r="1.85" fill="#fff" stroke="#000" stroke-width="0.85"/>
<circle cx="616.9" cy="54.5" r="1.85" fill="#fff" stroke="#000" stroke-width="0.85"/>
<circle cx="620.7" cy="50.7" r="1.85" fill="#fff" stroke="#000" stroke-width="0.85"/>
<circle cx="623.8" cy="51.9" r="1.85" fill="#fff" stroke="#000" stroke-width="0.85"/>
<circle cx="627" cy="53.8" r="1.85" fill="#fff" stroke="#000" stroke-width="0.85"/>
<circle cx="630.8" cy="50.7" r="1.85" fill="#fff" stroke="#000" stroke-width="0.85"/>
<circle cx="637.1" cy="56.4" r="1.85" fill="#fff" stroke="#000" stroke-width="0.85"/>
<line x1="30.7" y1="185.8" x2="110.2" y2="185.8" stroke="#888" stroke-width="1" />
<line x1="110.2" y1="185.8" x2="110.2" y2="261" stroke="#999" stroke-width="1" />
<line x1="30.7" y1="185.8" x2="30.7" y2="261" stroke="#000" stroke-width="1" />
<line x1="30.7" y1="261" x2="110.2" y2="261" stroke="#000" stroke-width="1" />
<line x1="28.2" y1="261" x2="30.7" y2="261" stroke="#000" stroke-width="1" />
<text x="27.6" y="263.48" font-size="6.9" text-anchor="end" font-weight="normal" fill="#111" >0</text>
<line x1="28.2" y1="235.93" x2="30.7" y2="235.93" stroke="#000" stroke-width="1" />
<text x="27.6" y="238.41" font-size="6.9" text-anchor="end" font-weight="normal" fill="#111" >10</text>
<line x1="28.2" y1="210.86" x2="30.7" y2="210.86" stroke="#000" stroke-width="1" />
<text x="27.6" y="213.34" font-size="6.9" text-anchor="end" font-weight="normal" fill="#111" >20</text>
<line x1="28.2" y1="185.79" x2="30.7" y2="185.79" stroke="#000" stroke-width="1" />
<text x="27.6" y="188.27" font-size="6.9" text-anchor="end" font-weight="normal" fill="#111" >30</text>
<line x1="110.2" y1="261" x2="112.7" y2="261" stroke="#999" stroke-width="1" />
<text x="113.5" y="263.48" font-size="6.9" text-anchor="start" font-weight="normal" fill="#111" >0</text>
<line x1="110.2" y1="223.4" x2="112.7" y2="223.4" stroke="#999" stroke-width="1" />
<text x="113.5" y="225.88" font-size="6.9" text-anchor="start" font-weight="normal" fill="#111" >0.2</text>
<line x1="110.2" y1="185.8" x2="112.7" y2="185.8" stroke="#999" stroke-width="1" />
<text x="113.5" y="188.28" font-size="6.9" text-anchor="start" font-weight="normal" fill="#111" >0.4</text>
<line x1="41.4" y1="261" x2="41.4" y2="263.5" stroke="#000" stroke-width="1" />
<text x="41.4" y="270.78" font-size="6.9" text-anchor="middle" font-weight="normal" fill="#111" >0</text>
<line x1="56.1" y1="261" x2="56.1" y2="263.5" stroke="#000" stroke-width="1" />
<text x="56.1" y="270.78" font-size="6.9" text-anchor="middle" font-weight="normal" fill="#111" >1</text>
<line x1="70.8" y1="261" x2="70.8" y2="263.5" stroke="#000" stroke-width="1" />
<text x="70.8" y="270.78" font-size="6.9" text-anchor="middle" font-weight="normal" fill="#111" >2</text>
<line x1="85.5" y1="261" x2="85.5" y2="263.5" stroke="#000" stroke-width="1" />
<text x="85.5" y="270.78" font-size="6.9" text-anchor="middle" font-weight="normal" fill="#111" >4</text>
<line x1="100.2" y1="261" x2="100.2" y2="263.5" stroke="#000" stroke-width="1" />
<text x="100.2" y="270.78" font-size="6.9" text-anchor="middle" font-weight="normal" fill="#111" >6</text>
<rect x="36.9" y="213.37" width="9" height="47.63" fill="#000" stroke="#000" stroke-width="0.8"/>
<rect x="51.6" y="247.71" width="9" height="13.29" fill="#000" stroke="#000" stroke-width="0.8"/>
<rect x="66.3" y="259.75" width="9" height="1.25" fill="#000" stroke="#000" stroke-width="0.8"/>
<circle cx="41.4" cy="235.5" r="2.35" fill="#a9b5b5" stroke="#333" stroke-width="0.8"/>
<circle cx="56.1" cy="238.75" r="2.35" fill="#a9b5b5" stroke="#333" stroke-width="0.8"/>
<circle cx="70.8" cy="232.25" r="2.35" fill="#a9b5b5" stroke="#333" stroke-width="0.8"/>
<circle cx="85.5" cy="229.75" r="2.35" fill="#a9b5b5" stroke="#333" stroke-width="0.8"/>
<circle cx="100.2" cy="218.5" r="2.35" fill="#a9b5b5" stroke="#333" stroke-width="0.8"/>
<text x="86.5" y="259.01" font-size="6.7" text-anchor="middle" font-weight="normal" fill="#111" >N.D.</text>
<text x="101.2" y="259.01" font-size="6.7" text-anchor="middle" font-weight="normal" fill="#111" >N.D.</text>
<text x="37.5" y="200.15" font-size="10.7" text-anchor="start" font-weight="bold" fill="#000" >WT</text>
<rect x="67.9" y="191.5" width="5.6" height="3.2" fill="#000" stroke="#000" stroke-width="0.7"/>
<text x="77.5" y="195.63" font-size="7.3" text-anchor="start" font-weight="normal" fill="#111" >Lag time</text>
<circle cx="70.7" cy="202" r="2.1" fill="#a9b5b5" stroke="#333" stroke-width="0.8"/>
<text x="77.7" y="204.6" font-size="7.6" fill="#111"><tspan font-style="italic">k</tspan><tspan font-size="5.6" dy="1.3">app</tspan></text>
<text x="70.4" y="280.87" font-size="8.8" text-anchor="middle" font-weight="normal" fill="#111" textLength="46.2" lengthAdjust="spacingAndGlyphs" >[Seed] (μM)</text>
<text x="15.1" y="221.5" font-size="9.35" text-anchor="middle" font-weight="normal" fill="#111" transform="rotate(-90 15.1 221.5)" >Lag time (h)</text>
<text x="131.1" y="226" font-size="9" text-anchor="middle" fill="#111" transform="rotate(90 131.1 226)"><tspan font-style="italic">k</tspan><tspan font-size="6" dy="1.5">app</tspan><tspan dy="-1.5"> (h</tspan><tspan font-size="6" dy="-3">−1</tspan><tspan dy="3">)</tspan></text>
<line x1="167" y1="185.8" x2="246.1" y2="185.8" stroke="#222" stroke-width="1" />
<line x1="246.1" y1="185.8" x2="246.1" y2="260.6" stroke="#000" stroke-width="1" />
<line x1="167" y1="185.8" x2="167" y2="260.6" stroke="#000" stroke-width="1" />
<line x1="167" y1="260.6" x2="246.1" y2="260.6" stroke="#000" stroke-width="1" />
<line x1="164.5" y1="260.6" x2="167" y2="260.6" stroke="#000" stroke-width="1" />
<text x="163.9" y="263.08" font-size="6.9" text-anchor="end" font-weight="normal" fill="#111" >0</text>
<line x1="164.5" y1="235.67" x2="167" y2="235.67" stroke="#000" stroke-width="1" />
<text x="163.9" y="238.15" font-size="6.9" text-anchor="end" font-weight="normal" fill="#111" >10</text>
<line x1="164.5" y1="210.74" x2="167" y2="210.74" stroke="#000" stroke-width="1" />
<text x="163.9" y="213.22" font-size="6.9" text-anchor="end" font-weight="normal" fill="#111" >20</text>
<line x1="164.5" y1="185.81" x2="167" y2="185.81" stroke="#000" stroke-width="1" />
<text x="163.9" y="188.29" font-size="6.9" text-anchor="end" font-weight="normal" fill="#111" >30</text>
<line x1="246.1" y1="260.6" x2="248.6" y2="260.6" stroke="#000" stroke-width="1" />
<text x="249.4" y="263.08" font-size="6.9" text-anchor="start" font-weight="normal" fill="#111" >0</text>
<line x1="246.1" y1="223.2" x2="248.6" y2="223.2" stroke="#000" stroke-width="1" />
<text x="249.4" y="225.68" font-size="6.9" text-anchor="start" font-weight="normal" fill="#111" >0.5</text>
<line x1="246.1" y1="185.8" x2="248.6" y2="185.8" stroke="#000" stroke-width="1" />
<text x="249.4" y="188.28" font-size="6.9" text-anchor="start" font-weight="normal" fill="#111" >1.0</text>
<line x1="176.9" y1="260.6" x2="176.9" y2="263.1" stroke="#000" stroke-width="1" />
<text x="176.9" y="270.38" font-size="6.9" text-anchor="middle" font-weight="normal" fill="#111" >0</text>
<line x1="191.5" y1="260.6" x2="191.5" y2="263.1" stroke="#000" stroke-width="1" />
<text x="191.5" y="270.38" font-size="6.9" text-anchor="middle" font-weight="normal" fill="#111" >1</text>
<line x1="206.3" y1="260.6" x2="206.3" y2="263.1" stroke="#000" stroke-width="1" />
<text x="206.3" y="270.38" font-size="6.9" text-anchor="middle" font-weight="normal" fill="#111" >2</text>
<line x1="221" y1="260.6" x2="221" y2="263.1" stroke="#000" stroke-width="1" />
<text x="221" y="270.38" font-size="6.9" text-anchor="middle" font-weight="normal" fill="#111" >4</text>
<line x1="235.6" y1="260.6" x2="235.6" y2="263.1" stroke="#000" stroke-width="1" />
<text x="235.6" y="270.38" font-size="6.9" text-anchor="middle" font-weight="normal" fill="#111" >6</text>
<line x1="176.9" y1="219.96" x2="176.9" y2="226.2" stroke="#000" stroke-width="0.8" />
<line x1="175.1" y1="219.96" x2="178.7" y2="219.96" stroke="#000" stroke-width="0.8" />
<rect x="172.4" y="226.2" width="9" height="34.4" fill="#2050e8" stroke="#102060" stroke-width="0.8"/>
<line x1="191.5" y1="241.65" x2="191.5" y2="252.12" stroke="#000" stroke-width="0.8" />
<line x1="189.7" y1="241.65" x2="193.3" y2="241.65" stroke="#000" stroke-width="0.8" />
<rect x="187" y="252.12" width="9" height="8.48" fill="#2050e8" stroke="#102060" stroke-width="0.8"/>
<line x1="206.3" y1="246.64" x2="206.3" y2="257.61" stroke="#000" stroke-width="0.8" />
<line x1="204.5" y1="246.64" x2="208.1" y2="246.64" stroke="#000" stroke-width="0.8" />
<rect x="201.8" y="257.61" width="9" height="2.99" fill="#2050e8" stroke="#102060" stroke-width="0.8"/>
<line x1="221" y1="256.11" x2="221" y2="260.35" stroke="#000" stroke-width="0.8" />
<line x1="219.2" y1="256.11" x2="222.8" y2="256.11" stroke="#000" stroke-width="0.8" />
<rect x="216.5" y="260.35" width="9" height="0.25" fill="#2050e8" stroke="#102060" stroke-width="0.8"/>
<line x1="235.6" y1="257.61" x2="235.6" y2="260.35" stroke="#000" stroke-width="0.8" />
<line x1="233.8" y1="257.61" x2="237.4" y2="257.61" stroke="#000" stroke-width="0.8" />
<rect x="231.1" y="260.35" width="9" height="0.25" fill="#2050e8" stroke="#102060" stroke-width="0.8"/>
<line x1="176.9" y1="248.2" x2="176.9" y2="256.2" stroke="#000" stroke-width="0.8" />
<line x1="175.1" y1="248.2" x2="178.7" y2="248.2" stroke="#000" stroke-width="0.8" />
<line x1="175.1" y1="256.2" x2="178.7" y2="256.2" stroke="#000" stroke-width="0.8" />
<circle cx="176.9" cy="252.2" r="2.35" fill="#5aa8f0" stroke="#123" stroke-width="0.8"/>
<line x1="191.5" y1="248.4" x2="191.5" y2="252.4" stroke="#000" stroke-width="0.8" />
<line x1="189.7" y1="248.4" x2="193.3" y2="248.4" stroke="#000" stroke-width="0.8" />
<line x1="189.7" y1="252.4" x2="193.3" y2="252.4" stroke="#000" stroke-width="0.8" />
<circle cx="191.5" cy="250.4" r="2.35" fill="#5aa8f0" stroke="#123" stroke-width="0.8"/>
<line x1="206.3" y1="245.9" x2="206.3" y2="251.9" stroke="#000" stroke-width="0.8" />
<line x1="204.5" y1="245.9" x2="208.1" y2="245.9" stroke="#000" stroke-width="0.8" />
<line x1="204.5" y1="251.9" x2="208.1" y2="251.9" stroke="#000" stroke-width="0.8" />
<circle cx="206.3" cy="248.9" r="2.35" fill="#5aa8f0" stroke="#123" stroke-width="0.8"/>
<line x1="221" y1="225.9" x2="221" y2="238.9" stroke="#000" stroke-width="0.8" />
<line x1="219.2" y1="225.9" x2="222.8" y2="225.9" stroke="#000" stroke-width="0.8" />
<line x1="219.2" y1="238.9" x2="222.8" y2="238.9" stroke="#000" stroke-width="0.8" />
<circle cx="221" cy="232.4" r="2.35" fill="#5aa8f0" stroke="#123" stroke-width="0.8"/>
<line x1="235.6" y1="210.4" x2="235.6" y2="223.4" stroke="#000" stroke-width="0.8" />
<line x1="233.8" y1="210.4" x2="237.4" y2="210.4" stroke="#000" stroke-width="0.8" />
<line x1="233.8" y1="223.4" x2="237.4" y2="223.4" stroke="#000" stroke-width="0.8" />
<circle cx="235.6" cy="216.9" r="2.35" fill="#5aa8f0" stroke="#123" stroke-width="0.8"/>
<text x="170.8" y="200.25" font-size="10.7" text-anchor="start" font-weight="bold" fill="#000" >A30P</text>
<rect x="205" y="192.3" width="5.6" height="3.2" fill="#2050e8" stroke="#102060" stroke-width="0.7"/>
<text x="214.6" y="196.43" font-size="7.3" text-anchor="start" font-weight="normal" fill="#111" >Lag time</text>
<circle cx="208.1" cy="203.2" r="2.1" fill="#5aa8f0" stroke="#123" stroke-width="0.8"/>
<text x="215.1" y="205.8" font-size="7.6" fill="#111"><tspan font-style="italic">k</tspan><tspan font-size="5.6" dy="1.3">app</tspan></text>
<text x="206.5" y="280.67" font-size="8.8" text-anchor="middle" font-weight="normal" fill="#111" textLength="46.2" lengthAdjust="spacingAndGlyphs" >[Seed] (μM)</text>
<text x="153.3" y="221.5" font-size="9.35" text-anchor="middle" font-weight="normal" fill="#111" transform="rotate(-90 153.3 221.5)" >Lag time (h)</text>
<text x="266.2" y="224.8" font-size="9" text-anchor="middle" fill="#111" transform="rotate(90 266.2 224.8)"><tspan font-style="italic">k</tspan><tspan font-size="6" dy="1.5">app</tspan><tspan dy="-1.5"> (h</tspan><tspan font-size="6" dy="-3">−1</tspan><tspan dy="3">)</tspan></text>
<line x1="299.1" y1="185.4" x2="378.5" y2="185.4" stroke="#222" stroke-width="1" />
<line x1="378.5" y1="185.4" x2="378.5" y2="260.6" stroke="#000" stroke-width="1" />
<line x1="299.1" y1="185.4" x2="299.1" y2="260.6" stroke="#000" stroke-width="1" />
<line x1="299.1" y1="260.6" x2="378.5" y2="260.6" stroke="#000" stroke-width="1" />
<line x1="296.6" y1="260.6" x2="299.1" y2="260.6" stroke="#000" stroke-width="1" />
<text x="296" y="263.08" font-size="6.9" text-anchor="end" font-weight="normal" fill="#111" >0</text>
<line x1="296.6" y1="223" x2="299.1" y2="223" stroke="#000" stroke-width="1" />
<text x="296" y="225.48" font-size="6.9" text-anchor="end" font-weight="normal" fill="#111" >5</text>
<line x1="296.6" y1="185.4" x2="299.1" y2="185.4" stroke="#000" stroke-width="1" />
<text x="296" y="187.88" font-size="6.9" text-anchor="end" font-weight="normal" fill="#111" >10</text>
<line x1="378.5" y1="260.6" x2="381" y2="260.6" stroke="#000" stroke-width="1" />
<text x="381.8" y="263.08" font-size="6.9" text-anchor="start" font-weight="normal" fill="#111" >0</text>
<line x1="378.5" y1="223" x2="381" y2="223" stroke="#000" stroke-width="1" />
<text x="381.8" y="225.48" font-size="6.9" text-anchor="start" font-weight="normal" fill="#111" >0.5</text>
<line x1="378.5" y1="185.4" x2="381" y2="185.4" stroke="#000" stroke-width="1" />
<text x="381.8" y="187.88" font-size="6.9" text-anchor="start" font-weight="normal" fill="#111" >1.0</text>
<line x1="309.1" y1="260.6" x2="309.1" y2="263.1" stroke="#000" stroke-width="1" />
<text x="309.1" y="270.38" font-size="6.9" text-anchor="middle" font-weight="normal" fill="#111" >0</text>
<line x1="323.8" y1="260.6" x2="323.8" y2="263.1" stroke="#000" stroke-width="1" />
<text x="323.8" y="270.38" font-size="6.9" text-anchor="middle" font-weight="normal" fill="#111" >1</text>
<line x1="338.2" y1="260.6" x2="338.2" y2="263.1" stroke="#000" stroke-width="1" />
<text x="338.2" y="270.38" font-size="6.9" text-anchor="middle" font-weight="normal" fill="#111" >2</text>
<line x1="352.9" y1="260.6" x2="352.9" y2="263.1" stroke="#000" stroke-width="1" />
<text x="352.9" y="270.38" font-size="6.9" text-anchor="middle" font-weight="normal" fill="#111" >4</text>
<line x1="367.7" y1="260.6" x2="367.7" y2="263.1" stroke="#000" stroke-width="1" />
<text x="367.7" y="270.38" font-size="6.9" text-anchor="middle" font-weight="normal" fill="#111" >6</text>
<line x1="309.1" y1="217.74" x2="309.1" y2="232.02" stroke="#000" stroke-width="0.8" />
<line x1="307.3" y1="217.74" x2="310.9" y2="217.74" stroke="#000" stroke-width="0.8" />
<rect x="304.6" y="232.02" width="9" height="28.58" fill="#e81818" stroke="#600" stroke-width="0.8"/>
<line x1="309.1" y1="240.2" x2="309.1" y2="247.2" stroke="#000" stroke-width="0.8" />
<line x1="307.3" y1="240.2" x2="310.9" y2="240.2" stroke="#000" stroke-width="0.8" />
<line x1="307.3" y1="247.2" x2="310.9" y2="247.2" stroke="#000" stroke-width="0.8" />
<circle cx="309.1" cy="243.7" r="2.35" fill="#e8609a" stroke="#311" stroke-width="0.8"/>
<line x1="323.8" y1="243" x2="323.8" y2="251" stroke="#000" stroke-width="0.8" />
<line x1="322" y1="243" x2="325.6" y2="243" stroke="#000" stroke-width="0.8" />
<line x1="322" y1="251" x2="325.6" y2="251" stroke="#000" stroke-width="0.8" />
<circle cx="323.8" cy="247" r="2.35" fill="#e8609a" stroke="#311" stroke-width="0.8"/>
<line x1="338.2" y1="224.7" x2="338.2" y2="234.7" stroke="#000" stroke-width="0.8" />
<line x1="336.4" y1="224.7" x2="340" y2="224.7" stroke="#000" stroke-width="0.8" />
<line x1="336.4" y1="234.7" x2="340" y2="234.7" stroke="#000" stroke-width="0.8" />
<circle cx="338.2" cy="229.7" r="2.35" fill="#e8609a" stroke="#311" stroke-width="0.8"/>
<line x1="352.9" y1="213.5" x2="352.9" y2="227.1" stroke="#000" stroke-width="0.8" />
<line x1="351.1" y1="213.5" x2="354.7" y2="213.5" stroke="#000" stroke-width="0.8" />
<line x1="351.1" y1="227.1" x2="354.7" y2="227.1" stroke="#000" stroke-width="0.8" />
<circle cx="352.9" cy="220.3" r="2.35" fill="#e8609a" stroke="#311" stroke-width="0.8"/>
<line x1="367.7" y1="209.5" x2="367.7" y2="225.5" stroke="#000" stroke-width="0.8" />
<line x1="365.9" y1="209.5" x2="369.5" y2="209.5" stroke="#000" stroke-width="0.8" />
<line x1="365.9" y1="225.5" x2="369.5" y2="225.5" stroke="#000" stroke-width="0.8" />
<circle cx="367.7" cy="217.5" r="2.35" fill="#e8609a" stroke="#311" stroke-width="0.8"/>
<text x="323.8" y="258.91" font-size="6.7" text-anchor="middle" font-weight="normal" fill="#111" >N.D.</text>
<text x="338.2" y="258.91" font-size="6.7" text-anchor="middle" font-weight="normal" fill="#111" >N.D.</text>
<text x="352.9" y="258.91" font-size="6.7" text-anchor="middle" font-weight="normal" fill="#111" >N.D.</text>
<text x="367.7" y="258.91" font-size="6.7" text-anchor="middle" font-weight="normal" fill="#111" >N.D.</text>
<text x="302.2" y="199.85" font-size="10.7" text-anchor="start" font-weight="bold" fill="#000" >A53T</text>
<rect x="337" y="192" width="5.6" height="3.2" fill="#e81818" stroke="#600" stroke-width="0.7"/>
<text x="346.6" y="196.13" font-size="7.3" text-anchor="start" font-weight="normal" fill="#111" >Lag time</text>
<circle cx="339.8" cy="201.7" r="2.1" fill="#e8609a" stroke="#311" stroke-width="0.8"/>
<text x="346.8" y="204.3" font-size="7.6" fill="#111"><tspan font-style="italic">k</tspan><tspan font-size="5.6" dy="1.3">app</tspan></text>
<text x="337.5" y="280.57" font-size="8.8" text-anchor="middle" font-weight="normal" fill="#111" textLength="46.2" lengthAdjust="spacingAndGlyphs" >[Seed] (μM)</text>
<text x="287.6" y="220.5" font-size="9.35" text-anchor="middle" font-weight="normal" fill="#111" transform="rotate(-90 287.6 220.5)" >Lag time (h)</text>
<text x="398.1" y="224.1" font-size="9" text-anchor="middle" fill="#111" transform="rotate(90 398.1 224.1)"><tspan font-style="italic">k</tspan><tspan font-size="6" dy="1.5">app</tspan><tspan dy="-1.5"> (h</tspan><tspan font-size="6" dy="-3">−1</tspan><tspan dy="3">)</tspan></text>
<line x1="431.2" y1="184.8" x2="512" y2="184.8" stroke="#222" stroke-width="1" />
<line x1="512" y1="184.8" x2="512" y2="260.1" stroke="#000" stroke-width="1" />
<line x1="431.2" y1="184.8" x2="431.2" y2="260.1" stroke="#000" stroke-width="1" />
<line x1="431.2" y1="260.1" x2="512" y2="260.1" stroke="#000" stroke-width="1" />
<line x1="428.7" y1="260.1" x2="431.2" y2="260.1" stroke="#000" stroke-width="1" />
<text x="428.1" y="262.58" font-size="6.9" text-anchor="end" font-weight="normal" fill="#111" >0</text>
<line x1="428.7" y1="241.28" x2="431.2" y2="241.28" stroke="#000" stroke-width="1" />
<text x="428.1" y="243.76" font-size="6.9" text-anchor="end" font-weight="normal" fill="#111" >5</text>
<line x1="428.7" y1="222.45" x2="431.2" y2="222.45" stroke="#000" stroke-width="1" />
<text x="428.1" y="224.93" font-size="6.9" text-anchor="end" font-weight="normal" fill="#111" >10</text>
<line x1="428.7" y1="203.63" x2="431.2" y2="203.63" stroke="#000" stroke-width="1" />
<text x="428.1" y="206.11" font-size="6.9" text-anchor="end" font-weight="normal" fill="#111" >15</text>
<line x1="428.7" y1="184.8" x2="431.2" y2="184.8" stroke="#000" stroke-width="1" />
<text x="428.1" y="187.28" font-size="6.9" text-anchor="end" font-weight="normal" fill="#111" >20</text>
<line x1="512" y1="260.1" x2="514.5" y2="260.1" stroke="#000" stroke-width="1" />
<text x="515.3" y="262.58" font-size="6.9" text-anchor="start" font-weight="normal" fill="#111" >0</text>
<line x1="512" y1="222.45" x2="514.5" y2="222.45" stroke="#000" stroke-width="1" />
<text x="515.3" y="224.93" font-size="6.9" text-anchor="start" font-weight="normal" fill="#111" >0.5</text>
<line x1="512" y1="184.8" x2="514.5" y2="184.8" stroke="#000" stroke-width="1" />
<text x="515.3" y="187.28" font-size="6.9" text-anchor="start" font-weight="normal" fill="#111" >1.0</text>
<line x1="442.5" y1="260.1" x2="442.5" y2="262.6" stroke="#000" stroke-width="1" />
<text x="442.5" y="269.88" font-size="6.9" text-anchor="middle" font-weight="normal" fill="#111" >0</text>
<line x1="457.2" y1="260.1" x2="457.2" y2="262.6" stroke="#000" stroke-width="1" />
<text x="457.2" y="269.88" font-size="6.9" text-anchor="middle" font-weight="normal" fill="#111" >1</text>
<line x1="471.8" y1="260.1" x2="471.8" y2="262.6" stroke="#000" stroke-width="1" />
<text x="471.8" y="269.88" font-size="6.9" text-anchor="middle" font-weight="normal" fill="#111" >2</text>
<line x1="486.7" y1="260.1" x2="486.7" y2="262.6" stroke="#000" stroke-width="1" />
<text x="486.7" y="269.88" font-size="6.9" text-anchor="middle" font-weight="normal" fill="#111" >4</text>
<line x1="501.5" y1="260.1" x2="501.5" y2="262.6" stroke="#000" stroke-width="1" />
<text x="501.5" y="269.88" font-size="6.9" text-anchor="middle" font-weight="normal" fill="#111" >6</text>
<line x1="442.5" y1="229.23" x2="442.5" y2="234.87" stroke="#000" stroke-width="0.8" />
<line x1="440.7" y1="229.23" x2="444.3" y2="229.23" stroke="#000" stroke-width="0.8" />
<rect x="438" y="234.87" width="9" height="25.23" fill="#a2ba22" stroke="#3a4a00" stroke-width="0.8"/>
<line x1="442.5" y1="239.02" x2="442.5" y2="234.87" stroke="#000" stroke-width="0.8" />
<line x1="440.7" y1="239.02" x2="444.3" y2="239.02" stroke="#000" stroke-width="0.8" />
<line x1="457.2" y1="222.45" x2="457.2" y2="233.56" stroke="#000" stroke-width="0.8" />
<line x1="455.4" y1="222.45" x2="459" y2="222.45" stroke="#000" stroke-width="0.8" />
<rect x="452.7" y="233.56" width="9" height="26.54" fill="#a2ba22" stroke="#3a4a00" stroke-width="0.8"/>
<line x1="471.8" y1="227.34" x2="471.8" y2="236.38" stroke="#000" stroke-width="0.8" />
<line x1="470" y1="227.34" x2="473.6" y2="227.34" stroke="#000" stroke-width="0.8" />
<rect x="467.3" y="236.38" width="9" height="23.72" fill="#a2ba22" stroke="#3a4a00" stroke-width="0.8"/>
<line x1="486.7" y1="220.19" x2="486.7" y2="224.9" stroke="#000" stroke-width="0.8" />
<line x1="484.9" y1="220.19" x2="488.5" y2="220.19" stroke="#000" stroke-width="0.8" />
<rect x="482.2" y="224.9" width="9" height="35.2" fill="#a2ba22" stroke="#3a4a00" stroke-width="0.8"/>
<line x1="486.7" y1="234.5" x2="486.7" y2="224.9" stroke="#000" stroke-width="0.8" />
<line x1="484.9" y1="234.5" x2="488.5" y2="234.5" stroke="#000" stroke-width="0.8" />
<line x1="501.5" y1="216.43" x2="501.5" y2="230.54" stroke="#000" stroke-width="0.8" />
<line x1="499.7" y1="216.43" x2="503.3" y2="216.43" stroke="#000" stroke-width="0.8" />
<rect x="497" y="230.54" width="9" height="29.56" fill="#a2ba22" stroke="#3a4a00" stroke-width="0.8"/>
<line x1="501.5" y1="235.63" x2="501.5" y2="230.54" stroke="#000" stroke-width="0.8" />
<line x1="499.7" y1="235.63" x2="503.3" y2="235.63" stroke="#000" stroke-width="0.8" />
<circle cx="442.5" cy="235.1" r="2.35" fill="#e2f000" stroke="#333" stroke-width="0.8"/>
<circle cx="457.2" cy="227.4" r="2.35" fill="#e2f000" stroke="#333" stroke-width="0.8"/>
<circle cx="471.8" cy="231.3" r="2.35" fill="#e2f000" stroke="#333" stroke-width="0.8"/>
<circle cx="486.7" cy="227.2" r="2.35" fill="#e2f000" stroke="#333" stroke-width="0.8"/>
<circle cx="501.5" cy="225" r="2.35" fill="#e2f000" stroke="#333" stroke-width="0.8"/>
<text x="436" y="197.75" font-size="10.7" text-anchor="start" font-weight="bold" fill="#000" >Δ123−140</text>
<rect x="440" y="203.3" width="5.6" height="3.2" fill="#a2ba22" stroke="#3a4a00" stroke-width="0.7"/>
<text x="449.6" y="207.43" font-size="7.3" text-anchor="start" font-weight="normal" fill="#111" >Lag time</text>
<circle cx="443.2" cy="214.3" r="2.1" fill="#e2f000" stroke="#333" stroke-width="0.8"/>
<text x="450.2" y="216.9" font-size="7.6" fill="#111"><tspan font-style="italic">k</tspan><tspan font-size="5.6" dy="1.3">app</tspan></text>
<text x="471.7" y="280.37" font-size="8.8" text-anchor="middle" font-weight="normal" fill="#111" textLength="46.2" lengthAdjust="spacingAndGlyphs" >[Seed] (μM)</text>
<text x="417.8" y="219.4" font-size="9.35" text-anchor="middle" font-weight="normal" fill="#111" transform="rotate(-90 417.8 219.4)" >Lag time (h)</text>
<text x="530.9" y="224.7" font-size="9" text-anchor="middle" fill="#111" transform="rotate(90 530.9 224.7)"><tspan font-style="italic">k</tspan><tspan font-size="6" dy="1.5">app</tspan><tspan dy="-1.5"> (h</tspan><tspan font-size="6" dy="-3">−1</tspan><tspan dy="3">)</tspan></text>
<line x1="565.4" y1="184.1" x2="644" y2="184.1" stroke="#222" stroke-width="1" />
<line x1="644" y1="184.1" x2="644" y2="258.3" stroke="#000" stroke-width="1" />
<line x1="565.4" y1="184.1" x2="565.4" y2="258.3" stroke="#000" stroke-width="1" />
<line x1="565.4" y1="258.3" x2="644" y2="258.3" stroke="#000" stroke-width="1" />
<line x1="562.9" y1="258.3" x2="565.4" y2="258.3" stroke="#000" stroke-width="1" />
<text x="562.3" y="260.78" font-size="6.9" text-anchor="end" font-weight="normal" fill="#111" >0</text>
<line x1="562.9" y1="221.2" x2="565.4" y2="221.2" stroke="#000" stroke-width="1" />
<text x="562.3" y="223.68" font-size="6.9" text-anchor="end" font-weight="normal" fill="#111" >5</text>
<line x1="562.9" y1="184.1" x2="565.4" y2="184.1" stroke="#000" stroke-width="1" />
<text x="562.3" y="186.58" font-size="6.9" text-anchor="end" font-weight="normal" fill="#111" >10</text>
<line x1="644" y1="258.3" x2="646.5" y2="258.3" stroke="#000" stroke-width="1" />
<text x="647.3" y="260.78" font-size="6.9" text-anchor="start" font-weight="normal" fill="#111" >0</text>
<line x1="644" y1="239.75" x2="646.5" y2="239.75" stroke="#000" stroke-width="1" />
<text x="647.3" y="242.23" font-size="6.9" text-anchor="start" font-weight="normal" fill="#111" >1</text>
<line x1="644" y1="221.2" x2="646.5" y2="221.2" stroke="#000" stroke-width="1" />
<text x="647.3" y="223.68" font-size="6.9" text-anchor="start" font-weight="normal" fill="#111" >2</text>
<line x1="644" y1="202.65" x2="646.5" y2="202.65" stroke="#000" stroke-width="1" />
<text x="647.3" y="205.13" font-size="6.9" text-anchor="start" font-weight="normal" fill="#111" >3</text>
<line x1="644" y1="184.1" x2="646.5" y2="184.1" stroke="#000" stroke-width="1" />
<text x="647.3" y="186.58" font-size="6.9" text-anchor="start" font-weight="normal" fill="#111" >4</text>
<line x1="574.9" y1="258.3" x2="574.9" y2="260.8" stroke="#000" stroke-width="1" />
<text x="574.9" y="268.08" font-size="6.9" text-anchor="middle" font-weight="normal" fill="#111" >0</text>
<line x1="589.5" y1="258.3" x2="589.5" y2="260.8" stroke="#000" stroke-width="1" />
<text x="589.5" y="268.08" font-size="6.9" text-anchor="middle" font-weight="normal" fill="#111" >1</text>
<line x1="604.1" y1="258.3" x2="604.1" y2="260.8" stroke="#000" stroke-width="1" />
<text x="604.1" y="268.08" font-size="6.9" text-anchor="middle" font-weight="normal" fill="#111" >2</text>
<line x1="618.6" y1="258.3" x2="618.6" y2="260.8" stroke="#000" stroke-width="1" />
<text x="618.6" y="268.08" font-size="6.9" text-anchor="middle" font-weight="normal" fill="#111" >4</text>
<line x1="633" y1="258.3" x2="633" y2="260.8" stroke="#000" stroke-width="1" />
<text x="633" y="268.08" font-size="6.9" text-anchor="middle" font-weight="normal" fill="#111" >6</text>
<line x1="574.9" y1="225.65" x2="574.9" y2="229.36" stroke="#000" stroke-width="0.8" />
<line x1="573.1" y1="225.65" x2="576.7" y2="225.65" stroke="#000" stroke-width="0.8" />
<rect x="570.4" y="229.36" width="9" height="28.94" fill="#2a9020" stroke="#0a3a0a" stroke-width="0.8"/>
<line x1="589.5" y1="227.88" x2="589.5" y2="230.1" stroke="#000" stroke-width="0.8" />
<line x1="587.7" y1="227.88" x2="591.3" y2="227.88" stroke="#000" stroke-width="0.8" />
<rect x="585" y="230.1" width="9" height="28.2" fill="#2a9020" stroke="#0a3a0a" stroke-width="0.8"/>
<line x1="604.1" y1="230.1" x2="604.1" y2="231.59" stroke="#000" stroke-width="0.8" />
<line x1="602.3" y1="230.1" x2="605.9" y2="230.1" stroke="#000" stroke-width="0.8" />
<rect x="599.6" y="231.59" width="9" height="26.71" fill="#2a9020" stroke="#0a3a0a" stroke-width="0.8"/>
<line x1="618.6" y1="233.81" x2="618.6" y2="238.27" stroke="#000" stroke-width="0.8" />
<line x1="616.8" y1="233.81" x2="620.4" y2="233.81" stroke="#000" stroke-width="0.8" />
<rect x="614.1" y="238.27" width="9" height="20.03" fill="#2a9020" stroke="#0a3a0a" stroke-width="0.8"/>
<line x1="633" y1="237.52" x2="633" y2="241.23" stroke="#000" stroke-width="0.8" />
<line x1="631.2" y1="237.52" x2="634.8" y2="237.52" stroke="#000" stroke-width="0.8" />
<rect x="628.5" y="241.23" width="9" height="17.07" fill="#2a9020" stroke="#0a3a0a" stroke-width="0.8"/>
<line x1="574.9" y1="240.5" x2="574.9" y2="244.5" stroke="#000" stroke-width="0.8" />
<line x1="573.1" y1="240.5" x2="576.7" y2="240.5" stroke="#000" stroke-width="0.8" />
<line x1="573.1" y1="244.5" x2="576.7" y2="244.5" stroke="#000" stroke-width="0.8" />
<circle cx="574.9" cy="242.5" r="2.35" fill="#58e020" stroke="#143" stroke-width="0.8"/>
<line x1="589.5" y1="229.8" x2="589.5" y2="235.8" stroke="#000" stroke-width="0.8" />
<line x1="587.7" y1="229.8" x2="591.3" y2="229.8" stroke="#000" stroke-width="0.8" />
<line x1="587.7" y1="235.8" x2="591.3" y2="235.8" stroke="#000" stroke-width="0.8" />
<circle cx="589.5" cy="232.8" r="2.35" fill="#58e020" stroke="#143" stroke-width="0.8"/>
<line x1="604.1" y1="213" x2="604.1" y2="227" stroke="#000" stroke-width="0.8" />
<line x1="602.3" y1="213" x2="605.9" y2="213" stroke="#000" stroke-width="0.8" />
<line x1="602.3" y1="227" x2="605.9" y2="227" stroke="#000" stroke-width="0.8" />
<circle cx="604.1" cy="220" r="2.35" fill="#58e020" stroke="#143" stroke-width="0.8"/>
<line x1="618.6" y1="210.8" x2="618.6" y2="236.8" stroke="#000" stroke-width="0.8" />
<line x1="616.8" y1="210.8" x2="620.4" y2="210.8" stroke="#000" stroke-width="0.8" />
<line x1="616.8" y1="236.8" x2="620.4" y2="236.8" stroke="#000" stroke-width="0.8" />
<circle cx="618.6" cy="222.8" r="2.35" fill="#58e020" stroke="#143" stroke-width="0.8"/>
<line x1="633" y1="198" x2="633" y2="234" stroke="#999" stroke-width="0.8" />
<line x1="631.2" y1="198" x2="634.8" y2="198" stroke="#999" stroke-width="0.8" />
<line x1="631.2" y1="234" x2="634.8" y2="234" stroke="#999" stroke-width="0.8" />
<circle cx="633" cy="216" r="2.35" fill="#58e020" stroke="#143" stroke-width="0.8"/>
<text x="569.8" y="197.05" font-size="10.7" text-anchor="start" font-weight="bold" fill="#000" >Δ104−140</text>
<rect x="570.2" y="204.4" width="5.6" height="3.2" fill="#2a9020" stroke="#0a3a0a" stroke-width="0.7"/>
<text x="579.8" y="208.53" font-size="7.3" text-anchor="start" font-weight="normal" fill="#111" >Lag time</text>
<circle cx="572.8" cy="215" r="2.1" fill="#58e020" stroke="#143" stroke-width="0.8"/>
<text x="579.8" y="217.6" font-size="7.6" fill="#111"><tspan font-style="italic">k</tspan><tspan font-size="5.6" dy="1.3">app</tspan></text>
<text x="603.5" y="276.47" font-size="8.8" text-anchor="middle" font-weight="normal" fill="#111" textLength="46.2" lengthAdjust="spacingAndGlyphs" >[Seed] (μM)</text>
<text x="554.3" y="216.5" font-size="9.35" text-anchor="middle" font-weight="normal" fill="#111" transform="rotate(-90 554.3 216.5)" >Lag time (h)</text>
<text x="658.7" y="223.6" font-size="9" text-anchor="middle" fill="#111" transform="rotate(90 658.7 223.6)"><tspan font-style="italic">k</tspan><tspan font-size="6" dy="1.5">app</tspan><tspan dy="-1.5"> (h</tspan><tspan font-size="6" dy="-3">−1</tspan><tspan dy="3">)</tspan></text>
</svg></body></html>
